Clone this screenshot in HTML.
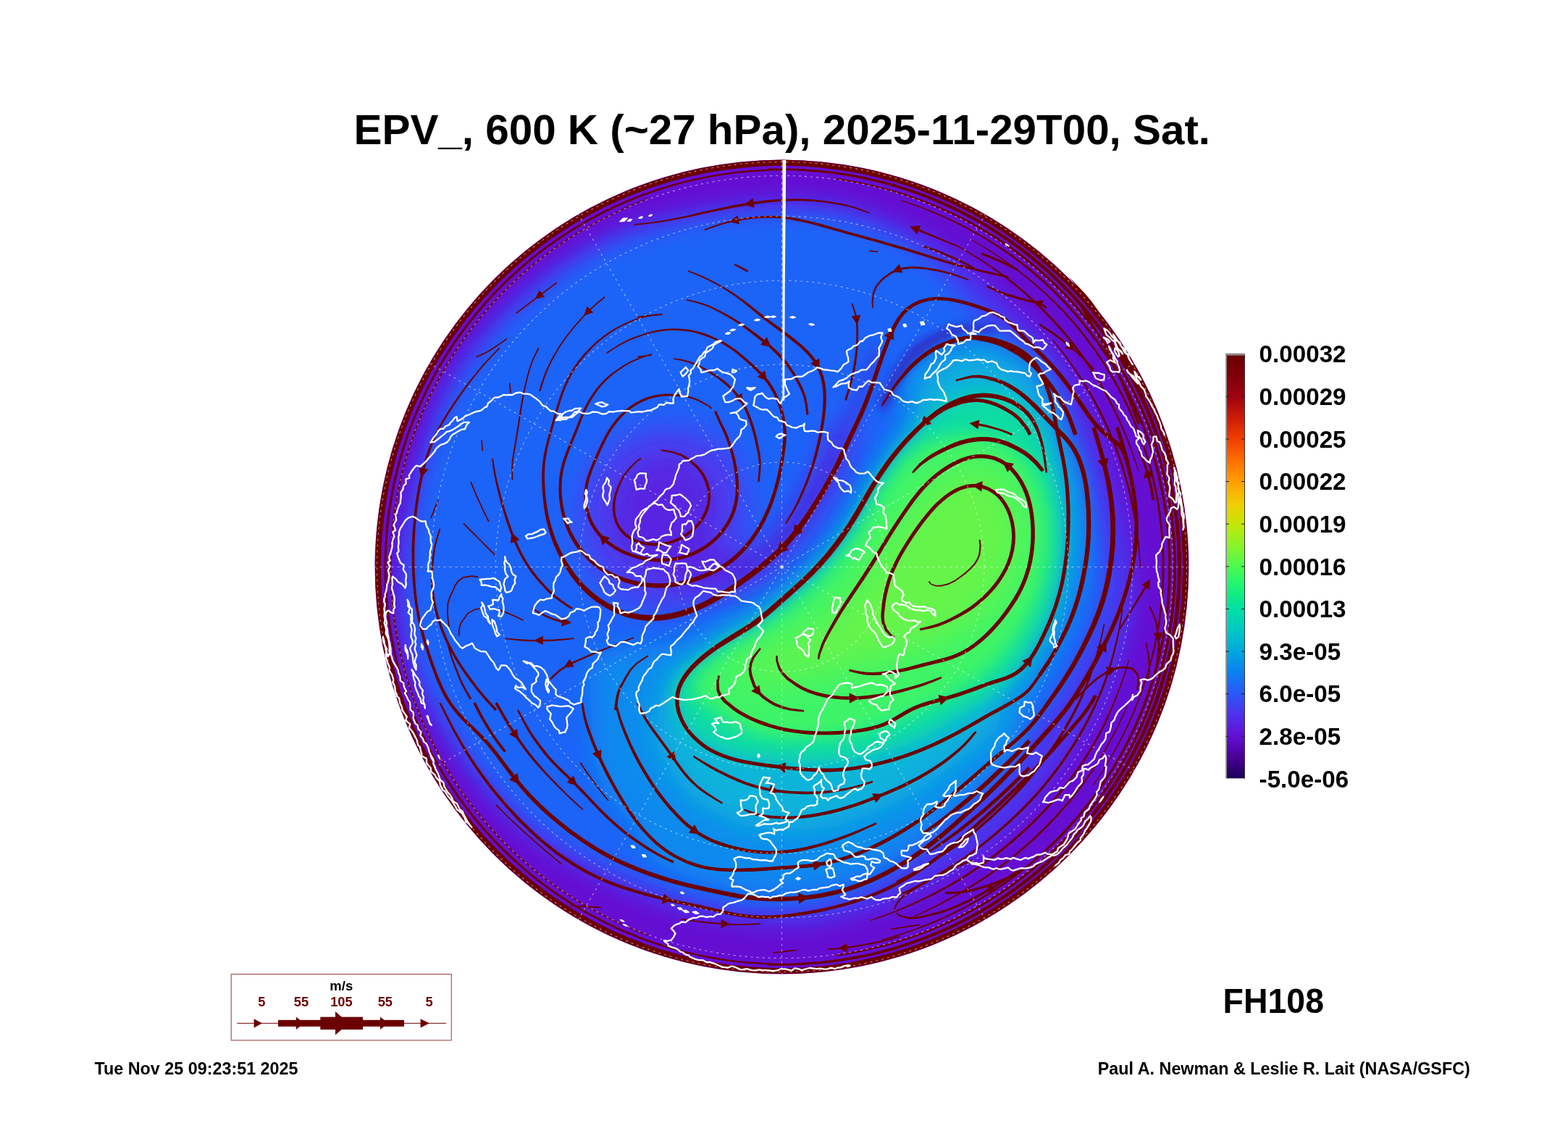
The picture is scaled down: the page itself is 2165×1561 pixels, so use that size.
<!DOCTYPE html>
<html lang="en"><head><meta charset="utf-8"><title>EPV_, 600 K (~27 hPa), 2025-11-29T00, Sat.</title>
<style>html,body{margin:0;padding:0;background:#fff}body{width:2165px;height:1561px;overflow:hidden}svg{display:block}text{font-family:"Liberation Sans",Arial,Helvetica,sans-serif;font-weight:bold}</style></head><body>
<svg width="2165" height="1561" viewBox="0 0 2165 1561">
<defs>
<clipPath id="disc"><circle cx="1079.5" cy="782.5" r="562"/></clipPath>
<clipPath id="disc2"><circle cx="1079.5" cy="782.5" r="563.5"/></clipPath>
<filter id="b6" x="-50%" y="-50%" width="200%" height="200%"><feGaussianBlur stdDeviation="6"/></filter>
<filter id="b9" x="-50%" y="-50%" width="200%" height="200%"><feGaussianBlur stdDeviation="9"/></filter>
<filter id="b12" x="-50%" y="-50%" width="200%" height="200%"><feGaussianBlur stdDeviation="12"/></filter>
<filter id="b14" x="-50%" y="-50%" width="200%" height="200%"><feGaussianBlur stdDeviation="14"/></filter>
<filter id="b17" x="-50%" y="-50%" width="200%" height="200%"><feGaussianBlur stdDeviation="17"/></filter>
<filter id="b18" x="-50%" y="-50%" width="200%" height="200%"><feGaussianBlur stdDeviation="18"/></filter>
<filter id="b20" x="-50%" y="-50%" width="200%" height="200%"><feGaussianBlur stdDeviation="20"/></filter>
<filter id="b22" x="-50%" y="-50%" width="200%" height="200%"><feGaussianBlur stdDeviation="22"/></filter>
<filter id="b24" x="-50%" y="-50%" width="200%" height="200%"><feGaussianBlur stdDeviation="24"/></filter>

<linearGradient id="cbar" x1="0" y1="1" x2="0" y2="0">
<stop offset="0.0" stop-color="#1c0058"/>
<stop offset="0.05" stop-color="#4a0098"/>
<stop offset="0.1" stop-color="#6210d4"/>
<stop offset="0.15" stop-color="#5030ec"/>
<stop offset="0.2" stop-color="#2a58f8"/>
<stop offset="0.25" stop-color="#0c80f0"/>
<stop offset="0.3" stop-color="#00a8de"/>
<stop offset="0.35" stop-color="#00c8c4"/>
<stop offset="0.4" stop-color="#00e0a4"/>
<stop offset="0.45" stop-color="#18f478"/>
<stop offset="0.5" stop-color="#4cfa50"/>
<stop offset="0.55" stop-color="#88f428"/>
<stop offset="0.6" stop-color="#c4e606"/>
<stop offset="0.65" stop-color="#f0cc00"/>
<stop offset="0.7" stop-color="#ffa000"/>
<stop offset="0.75" stop-color="#ff7000"/>
<stop offset="0.8" stop-color="#f24000"/>
<stop offset="0.85" stop-color="#d01c08"/>
<stop offset="0.9" stop-color="#a00410"/>
<stop offset="0.95" stop-color="#800008"/>
<stop offset="1.0" stop-color="#6a0000"/>
</linearGradient>
</defs>
<rect width="2165" height="1561" fill="#fff"/>
<g clip-path="url(#disc)">
<rect x="500" y="200" width="1160" height="1160" fill="#650ed2"/>
<path d="M1079.5 274.5C1151.3 271.2 1199.1 289.3 1250.5 312.7C1301.9 336 1348 376.1 1388 414.8C1428.1 453.5 1461.5 483.7 1490.9 545C1520.3 606.3 1557.9 715.6 1564.5 782.5C1571.1 849.4 1555.4 890.7 1530.6 946.7C1505.7 1002.6 1450.6 1076.5 1415.4 1118.4C1380.2 1160.3 1354.3 1175.3 1319.5 1198.2C1284.7 1221.1 1246.3 1242.6 1206.3 1255.8C1166.3 1269 1128.9 1278.9 1079.5 1277.5C1030.1 1276.1 970.5 1269.8 910.2 1247.6C849.9 1225.5 771.9 1192 717.5 1144.5C663 1097.1 611.3 1023.4 583.3 963.1C555.3 902.7 543 856.6 549.5 782.5C556 708.4 577.2 593.6 622.2 518.5C667.2 443.4 743.3 372.8 819.5 332.2C895.7 291.5 1007.7 277.8 1079.5 274.5Z" fill="#4a34ee" filter="url(#b14)"/>
<path d="M1079.5 294.5C1148.6 292.1 1195.8 308.2 1243 333.3C1290.1 358.5 1327.5 406.4 1362.3 445.4C1397.1 484.5 1424.9 511.3 1451.9 567.5C1478.9 623.7 1519.5 722.3 1524.5 782.5C1529.5 842.7 1507.8 880.8 1481.7 928.9C1455.6 977 1399.6 1034.1 1368 1071C1336.4 1107.9 1320.5 1125.4 1292 1150.6C1263.5 1175.7 1232.7 1205.3 1197.3 1222C1161.8 1238.7 1126 1249.8 1079.5 1250.5C1033 1251.2 976 1246.1 918.1 1226C860.1 1206 784.9 1175.1 731.6 1130.4C678.3 1085.7 626.1 1015.6 598.4 957.6C570.7 899.6 559.2 854.4 565.5 782.5C571.8 710.6 592.3 599 636.1 526.5C679.9 454 754.6 386.4 828.5 347.8C902.4 309.1 1010.4 296.9 1079.5 294.5Z" fill="#1c64f8" filter="url(#b14)"/>
<path d="M942.5 885C967.9 877.9 970.4 867.9 985 860C999.6 852.1 1015.4 845.8 1030 837.5C1044.6 829.2 1058.8 819.6 1072.5 810C1086.2 800.4 1099.4 791.7 1112.5 780C1125.6 768.3 1140.4 752.9 1151.2 740C1162.1 727.1 1169 716.2 1177.5 702.5C1186 688.8 1194.2 671.2 1202.5 657.5C1210.8 643.8 1218.8 635.4 1227.5 620C1236.2 604.6 1252.1 579.2 1255 565C1257.9 550.8 1242.5 545.4 1245 535C1247.5 524.6 1260 511.5 1270 502.5C1280 493.5 1292.9 486.5 1305 481.2C1317.1 476 1330 471.7 1342.5 471.2C1355 470.8 1366.9 474.6 1380 478.8C1393.1 482.9 1410.8 487.7 1421.2 496.2C1431.7 504.8 1436.5 518.1 1442.5 530C1448.5 541.9 1452.5 555 1457.5 567.5C1462.5 580 1466.7 588.8 1472.5 605C1478.3 621.2 1487.9 642.5 1492.5 665C1497.1 687.5 1499.6 719.2 1500 740C1500.4 760.8 1497.9 773.3 1495 790C1492.1 806.7 1487.9 823.3 1482.5 840C1477.1 856.7 1469.6 874.2 1462.5 890C1455.4 905.8 1447.9 919.2 1440 935C1432.1 950.8 1421.7 967.1 1415 985C1408.3 1002.9 1408.8 1026.7 1400 1042.5C1391.2 1058.3 1375 1067.9 1362.5 1080C1350 1092.1 1337.5 1103.8 1325 1115C1312.5 1126.2 1300 1137.5 1287.5 1147.5C1275 1157.5 1264.2 1165.8 1250 1175C1235.8 1184.2 1218.3 1195 1202.5 1202.5C1186.7 1210 1171.2 1215.4 1155 1220C1138.8 1224.6 1121.7 1228.1 1105 1230C1088.3 1231.9 1071.7 1232.1 1055 1231.2C1038.3 1230.4 1021.7 1228.5 1005 1225C988.3 1221.5 971.7 1216.2 955 1210C938.3 1203.8 918.3 1199.2 905 1187.5C891.7 1175.8 886.2 1155.4 875 1140C863.8 1124.6 846.7 1110.8 837.5 1095C828.3 1079.2 823.3 1061.7 820 1045C816.7 1028.3 818.3 1012.5 817.5 995C816.7 977.5 812.5 955.4 815 940C817.5 924.6 811.2 911.7 832.5 902.5C853.8 893.3 917.1 892.1 942.5 885Z" fill="#0c8aee" filter="url(#b17)"/>
<path d="M985 892.5C999.2 883.8 1008.3 877.1 1020 870C1031.7 862.9 1043.8 857.9 1055 850C1066.2 842.1 1076.2 832.5 1087.5 822.5C1098.8 812.5 1110.8 802.1 1122.5 790C1134.2 777.9 1147.5 762.9 1157.5 750C1167.5 737.1 1174.2 726.2 1182.5 712.5C1190.8 698.8 1199.2 681.2 1207.5 667.5C1215.8 653.8 1222.1 645.4 1232.5 630C1242.9 614.6 1264.6 589.2 1270 575C1275.4 560.8 1262.5 555 1265 545C1267.5 535 1276.7 523.3 1285 515C1293.3 506.7 1304.6 499.6 1315 495C1325.4 490.4 1336.7 487.5 1347.5 487.5C1358.3 487.5 1368.8 490.8 1380 495C1391.2 499.2 1405.8 504.6 1415 512.5C1424.2 520.4 1429.2 532.1 1435 542.5C1440.8 552.9 1446.2 563.8 1450 575C1453.8 586.2 1453.8 595 1457.5 610C1461.2 625 1469.2 643.3 1472.5 665C1475.8 686.7 1477.5 719.2 1477.5 740C1477.5 760.8 1475.4 773.3 1472.5 790C1469.6 806.7 1465.4 824.2 1460 840C1454.6 855.8 1447.5 870.8 1440 885C1432.5 899.2 1424.2 910.8 1415 925C1405.8 939.2 1391.7 956.2 1385 970C1378.3 983.8 1382.9 995.8 1375 1007.5C1367.1 1019.2 1351.2 1028.8 1337.5 1040C1323.8 1051.2 1308.3 1064.2 1292.5 1075C1276.7 1085.8 1259.2 1096.2 1242.5 1105C1225.8 1113.8 1209.2 1121.2 1192.5 1127.5C1175.8 1133.8 1159.2 1139.2 1142.5 1142.5C1125.8 1145.8 1109.2 1147.5 1092.5 1147.5C1075.8 1147.5 1059.2 1146.2 1042.5 1142.5C1025.8 1138.8 1007.9 1132.9 992.5 1125C977.1 1117.1 961.7 1106.2 950 1095C938.3 1083.8 930 1070.8 922.5 1057.5C915 1044.2 906.7 1030.4 905 1015C903.3 999.6 907.5 980.4 912.5 965C917.5 949.6 922.9 934.6 935 922.5C947.1 910.4 970.8 901.2 985 892.5Z" fill="#08b4da" filter="url(#b22)"/>
<path d="M955 922.5C965.8 914.2 985.6 899.2 1000 890C1014.4 880.8 1027.5 876.7 1041.2 867.5C1055 858.3 1069 846.2 1082.5 835C1096 823.8 1109.6 812.9 1122.5 800C1135.4 787.1 1149.6 770.8 1160 757.5C1170.4 744.2 1176.7 733.8 1185 720C1193.3 706.2 1201.7 688.8 1210 675C1218.3 661.2 1227.5 647.9 1235 637.5C1242.5 627.1 1247.5 622.1 1255 612.5C1262.5 602.9 1271.7 588.8 1280 580C1288.3 571.2 1296.7 565.4 1305 560C1313.3 554.6 1319.6 550.4 1330 547.5C1340.4 544.6 1355.8 541.7 1367.5 542.5C1379.2 543.3 1392.9 549.6 1400 552.5C1407.1 555.4 1405 554.6 1410 560C1415 565.4 1424.2 575 1430 585C1435.8 595 1440.4 606.7 1445 620C1449.6 633.3 1454.2 649.2 1457.5 665C1460.8 680.8 1463.8 698.3 1465 715C1466.2 731.7 1466.2 748.3 1465 765C1463.8 781.7 1461.2 799.2 1457.5 815C1453.8 830.8 1448.8 845.8 1442.5 860C1436.2 874.2 1427.9 887.5 1420 900C1412.1 912.5 1404.2 924.2 1395 935C1385.8 945.8 1375.8 956.7 1365 965C1354.2 973.3 1344.2 976.7 1330 985C1315.8 993.3 1296.7 1006.7 1280 1015C1263.3 1023.3 1246.7 1029.6 1230 1035C1213.3 1040.4 1196.7 1044.6 1180 1047.5C1163.3 1050.4 1147.1 1052.1 1130 1052.5C1112.9 1052.9 1095.8 1051.7 1077.5 1050C1059.2 1048.3 1036.2 1046.2 1020 1042.5C1003.8 1038.8 991.7 1033.8 980 1027.5C968.3 1021.2 957.5 1013.8 950 1005C942.5 996.2 938.3 982.5 935 975C931.7 967.5 930 965.8 930 960C930 954.2 930.8 946.2 935 940C939.2 933.8 944.2 930.8 955 922.5Z" fill="#10dca4" filter="url(#b12)"/>
<path d="M970 922.5C977.9 914.2 992.5 903.3 1005 895C1017.5 886.7 1031.2 881.7 1045 872.5C1058.8 863.3 1073.8 851.2 1087.5 840C1101.2 828.8 1114.6 817.9 1127.5 805C1140.4 792.1 1154.6 775.8 1165 762.5C1175.4 749.2 1181.7 738.8 1190 725C1198.3 711.2 1206.7 693.3 1215 680C1223.3 666.7 1231.7 655 1240 645C1248.3 635 1255 626.7 1265 620C1275 613.3 1287.1 608.3 1300 605C1312.9 601.7 1329.2 599.6 1342.5 600C1355.8 600.4 1370.4 604.2 1380 607.5C1389.6 610.8 1391.7 612.1 1400 620C1408.3 627.9 1422.5 641.2 1430 655C1437.5 668.8 1442.1 686.2 1445 702.5C1447.9 718.8 1448.3 735.8 1447.5 752.5C1446.7 769.2 1444.2 786.7 1440 802.5C1435.8 818.3 1429.6 832.9 1422.5 847.5C1415.4 862.1 1407.1 877.1 1397.5 890C1387.9 902.9 1376.2 915 1365 925C1353.8 935 1348.3 939.6 1330 950C1311.7 960.4 1275.8 978.3 1255 987.5C1234.2 996.7 1221.7 1000 1205 1005C1188.3 1010 1171.7 1015 1155 1017.5C1138.3 1020 1121.7 1020.4 1105 1020C1088.3 1019.6 1070.8 1018.8 1055 1015C1039.2 1011.2 1022.5 1004.2 1010 997.5C997.5 990.8 987.9 980.4 980 975C972.1 969.6 966.2 970 962.5 965C958.8 960 956.2 952.1 957.5 945C958.8 937.9 962.1 930.8 970 922.5Z" fill="#3cf468" filter="url(#b12)"/>
<path d="M1255 710C1262.5 700.8 1270.4 689.2 1280 680C1289.6 670.8 1300.8 660.8 1312.5 655C1324.2 649.2 1339.2 644.6 1350 645C1360.8 645.4 1369.2 650 1377.5 657.5C1385.8 665 1395 677.1 1400 690C1405 702.9 1407.5 719.2 1407.5 735C1407.5 750.8 1404.6 770.4 1400 785C1395.4 799.6 1389.2 810.8 1380 822.5C1370.8 834.2 1357.5 845.4 1345 855C1332.5 864.6 1320 872.5 1305 880C1290 887.5 1271.7 894.6 1255 900C1238.3 905.4 1221.7 908.8 1205 912.5C1188.3 916.2 1171.7 919.2 1155 922.5C1138.3 925.8 1120.8 929.6 1105 932.5C1089.2 935.4 1072.5 938.8 1060 940C1047.5 941.2 1036.7 942.9 1030 940C1023.3 937.1 1018.3 928.3 1020 922.5C1021.7 916.7 1030 910.4 1040 905C1050 899.6 1066.7 895.8 1080 890C1093.3 884.2 1107.5 878.3 1120 870C1132.5 861.7 1143.8 850.8 1155 840C1166.2 829.2 1177.5 817.5 1187.5 805C1197.5 792.5 1207.1 776.7 1215 765C1222.9 753.3 1228.3 744.2 1235 735C1241.7 725.8 1247.5 719.2 1255 710Z" fill="#80f438" filter="url(#b24)" opacity="0.62"/>
<path d="M812.5 652.5C820.8 638.3 835.4 620.4 850 610C864.6 599.6 883.3 593.3 900 590C916.7 586.7 933.3 586.7 950 590C966.7 593.3 987.5 599.6 1000 610C1012.5 620.4 1019.2 637.1 1025 652.5C1030.8 667.9 1035 687.1 1035 702.5C1035 717.9 1024.2 734.6 1025 745C1025.8 755.4 1032.5 765.8 1040 765C1047.5 764.2 1060.8 749.2 1070 740C1079.2 730.8 1087.1 721.2 1095 710C1102.9 698.8 1110.8 685 1117.5 672.5C1124.2 660 1129.6 647.1 1135 635C1140.4 622.9 1145.4 609.2 1150 600C1154.6 590.8 1157.9 586.7 1162.5 580C1167.1 573.3 1174.6 555.8 1177.5 560C1180.4 564.2 1182.5 590.8 1180 605C1177.5 619.2 1168.8 631.7 1162.5 645C1156.2 658.3 1149.6 672.5 1142.5 685C1135.4 697.5 1127.9 708.8 1120 720C1112.1 731.2 1103.3 742.9 1095 752.5C1086.7 762.1 1079.2 769.6 1070 777.5C1060.8 785.4 1051.7 792.9 1040 800C1028.3 807.1 1014.2 814.2 1000 820C985.8 825.8 970.8 830.8 955 835C939.2 839.2 899.6 842.5 905 845C910.4 847.5 984.2 849.6 987.5 850C990.8 850.4 943.8 850 925 847.5C906.2 845 889.6 840.4 875 835C860.4 829.6 847.9 823.3 837.5 815C827.1 806.7 818.8 797.5 812.5 785C806.2 772.5 802.1 755 800 740C797.9 725 797.9 709.6 800 695C802.1 680.4 804.2 666.7 812.5 652.5Z" fill="#4840f0" filter="url(#b20)"/>
<path d="M855 672.5C860.8 662.5 869.2 652.1 880 645C890.8 637.9 907.1 630.8 920 630C932.9 629.2 947.1 633.3 957.5 640C967.9 646.7 977.1 658.3 982.5 670C987.9 681.7 990.4 697.5 990 710C989.6 722.5 977.5 735 980 745C982.5 755 995 765.4 1005 770C1015 774.6 1029.2 775.8 1040 772.5C1050.8 769.2 1060.4 758.8 1070 750C1079.6 741.2 1089.2 731.2 1097.5 720C1105.8 708.8 1112.9 695 1120 682.5C1127.1 670 1134.2 657.1 1140 645C1145.8 632.9 1150 615.8 1155 610C1160 604.2 1170 603.3 1170 610C1170 616.7 1160.8 636.7 1155 650C1149.2 663.3 1142.1 677.5 1135 690C1127.9 702.5 1120.4 713.8 1112.5 725C1104.6 736.2 1095.8 747.9 1087.5 757.5C1079.2 767.1 1072.1 775 1062.5 782.5C1052.9 790 1042.1 797.1 1030 802.5C1017.9 807.9 1004.6 811.7 990 815C975.4 818.3 958.8 821.7 942.5 822.5C926.2 823.3 889.2 822.1 892.5 820C895.8 817.9 959.2 814.2 962.5 810C965.8 805.8 927.9 801.7 912.5 795C897.1 788.3 880.4 779.2 870 770C859.6 760.8 854.2 750.8 850 740C845.8 729.2 844.2 716.2 845 705C845.8 693.8 849.2 682.5 855 672.5Z" fill="#5a20e0" filter="url(#b18)" opacity="0.92"/>
<path d="M1222.5 565C1227.1 560 1235 537.1 1242.5 525C1250 512.9 1257.5 501.7 1267.5 492.5C1277.5 483.3 1290.4 475.8 1302.5 470C1314.6 464.2 1328.8 459.2 1340 457.5C1351.2 455.8 1365.8 461.2 1370 460C1374.2 458.8 1370.8 452.1 1365 450C1359.2 447.9 1346.2 446.2 1335 447.5C1323.8 448.8 1310 452.1 1297.5 457.5C1285 462.9 1270.8 470.4 1260 480C1249.2 489.6 1240 502.5 1232.5 515C1225 527.5 1216.7 546.7 1215 555C1213.3 563.3 1217.9 570 1222.5 565Z" fill="#3a14b4" filter="url(#b6)" opacity="0.75"/>
<path d="M1020 795C1027.1 792.5 1045 777.5 1055 770C1065 762.5 1071.7 758.3 1080 750C1088.3 741.7 1097.1 730.8 1105 720C1112.9 709.2 1120.4 697.1 1127.5 685C1134.6 672.9 1141.7 659.6 1147.5 647.5C1153.3 635.4 1155.8 627.1 1162.5 612.5C1169.2 597.9 1180.8 575 1187.5 560C1194.2 545 1197.9 535 1202.5 522.5C1207.1 510 1215 491.2 1215 485C1215 478.8 1206.7 478.8 1202.5 485C1198.3 491.2 1194.6 510 1190 522.5C1185.4 535 1181.2 545.4 1175 560C1168.8 574.6 1159.2 595.8 1152.5 610C1145.8 624.2 1141.2 633.3 1135 645C1128.8 656.7 1122.1 668.3 1115 680C1107.9 691.7 1100 704.6 1092.5 715C1085 725.4 1077.9 734.6 1070 742.5C1062.1 750.4 1054.6 755.4 1045 762.5C1035.4 769.6 1016.7 779.6 1012.5 785C1008.3 790.4 1012.9 797.5 1020 795Z" fill="#4420d4" filter="url(#b9)" opacity="0.6"/>
</g>
<g clip-path="url(#disc2)">
<path d="M1079.4 228.5L1085.9 228.7L1095.9 228.9L1108.3 229.5L1119.6 230.3L1129.7 231.3L1139.2 232.2L1148.8 233.4L1158.6 234.7L1168.2 236.2L1177.8 237.8L1187.5 239.6L1197.2 241.7L1206.8 243.8L1216.4 246.2L1225.9 248.7L1235.4 251.4L1244.9 254.3L1254.3 257.3L1263.6 260.5L1272.9 263.9L1282.1 267.4L1291.3 271.1L1300.4 275L1309.4 279L1318.4 283.2L1327.3 287.6L1336.1 292.1L1344.8 296.7L1353.4 301.5L1361.9 306.5L1370.4 311.6L1378.7 316.9L1387 322.3L1395.2 327.8L1403.2 333.6L1411.2 339.4L1419 345.4L1426.8 351.5L1434.4 357.8L1442 364.2L1449.4 370.7L1456.7 377.4L1463.8 384.2L1470.9 391.1L1477.8 398.2L1484.6 405.3L1491.3 412.6L1497.8 420L1504.2 427.6L1510.5 435.2L1516.6 443L1522.6 450.8L1528.4 458.8L1534.2 466.8L1539.7 475L1545.1 483.3L1550.4 491.6L1555.5 500.1L1560.5 508.6L1565.3 517.2L1569.9 525.9L1574.4 534.7L1578.8 543.6L1583 552.6L1587 561.6L1590.9 570.7L1594.6 579.9L1598.1 589.1L1601.5 598.4L1604.7 607.7L1607.7 617.1L1610.6 626.6L1613.3 636.1L1615.8 645.6L1618.2 655.2L1620.3 664.8L1622.4 674.5L1624.2 684.2L1625.9 694L1627.4 703.7L1628.7 713.5L1629.8 723.3L1630.8 733.2L1631.6 743L1632.2 752.9L1632.6 762.7L1632.9 772.6L1633 782.5L1632.9 792.4L1632.6 802.3L1632.2 812.1L1631.6 822L1630.8 831.8L1629.8 841.7L1628.7 851.5L1627.4 861.3L1625.9 871L1624.2 880.8L1622.4 890.5L1620.3 900.2L1618.2 909.8L1615.8 919.4L1613.3 928.9L1610.6 938.4L1607.7 947.9L1604.7 957.3L1601.5 966.6L1598.1 975.9L1594.6 985.1L1590.9 994.3L1587 1003.4L1583 1012.4L1578.8 1021.4L1574.4 1030.3L1569.9 1039.1L1565.3 1047.8L1560.5 1056.4L1555.5 1064.9L1550.4 1073.4L1545.1 1081.7L1539.7 1090L1534.2 1098.2L1528.4 1106.2L1522.6 1114.2L1516.6 1122L1510.5 1129.8L1504.2 1137.4L1497.8 1145L1491.3 1152.4L1484.6 1159.7L1477.8 1166.8L1470.9 1173.9L1463.8 1180.8L1456.7 1187.6L1449.4 1194.3L1442 1200.8L1434.4 1207.2L1426.8 1213.5L1419 1219.6L1411.2 1225.6L1403.2 1231.4L1395.2 1237.2L1387 1242.7L1378.7 1248.1L1370.4 1253.4L1361.9 1258.5L1353.4 1263.5L1344.8 1268.3L1336.1 1272.9L1327.3 1277.4L1318.4 1281.8L1309.4 1286L1300.4 1290L1291.3 1293.9L1282.1 1297.6L1272.9 1301.1L1263.6 1304.5L1254.3 1307.7L1244.9 1310.7L1235.4 1313.6L1225.9 1316.3L1216.4 1318.8L1206.8 1321.2L1197.2 1323.3L1187.5 1325.4L1177.8 1327.2L1168 1328.9L1158.3 1330.4L1148.5 1331.7L1138.7 1332.8L1128.8 1333.8L1119 1334.6L1109.1 1335.2L1099.3 1335.6L1089.4 1335.9L1079.5 1336L1069.6 1335.9L1059.7 1335.6L1049.9 1335.2L1040 1334.6L1030.2 1333.8L1020.3 1332.8L1010.5 1331.7L1000.7 1330.4L991 1328.9L981.2 1327.2L971.5 1325.4L961.8 1323.3L952.2 1321.2L942.6 1318.8L933.1 1316.3L923.6 1313.6L914.1 1310.7L904.7 1307.7L895.4 1304.5L886.1 1301.1L876.9 1297.6L867.7 1293.9L858.6 1290L849.6 1286L840.6 1281.8L831.7 1277.4L822.9 1272.9L814.2 1268.3L805.6 1263.5L797.1 1258.5L788.6 1253.4L780.3 1248.1L772 1242.7L763.8 1237.2L755.8 1231.4L747.8 1225.6L740 1219.6L732.2 1213.5L724.6 1207.2L717 1200.8L709.6 1194.3L702.3 1187.6L695.2 1180.8L688.1 1173.9L681.2 1166.8L674.4 1159.7L667.7 1152.4L661.2 1145L654.8 1137.4L648.5 1129.8L642.4 1122L636.4 1114.2L630.6 1106.2L624.8 1098.2L619.3 1090L613.9 1081.7L608.6 1073.4L603.5 1064.9L598.5 1056.4L593.7 1047.8L589.1 1039.1L584.6 1030.3L580.2 1021.4L576 1012.4L572 1003.4L568.1 994.3L564.4 985.1L560.9 975.9L557.5 966.6L554.3 957.3L551.3 947.9L548.4 938.4L545.7 928.9L543.2 919.4L540.8 909.8L538.7 900.2L536.6 890.5L534.8 880.8L533.1 871L531.6 861.3L530.3 851.5L529.2 841.7L528.2 831.8L527.4 822L526.8 812.1L526.4 802.3L526.1 792.4L526 782.5L526.1 772.6L526.4 762.7L526.8 752.9L527.4 743L528.2 733.2L529.2 723.3L530.3 713.5L531.6 703.7L533.1 694L534.8 684.2L536.6 674.5L538.7 664.8L540.8 655.2L543.2 645.6L545.7 636.1L548.4 626.6L551.3 617.1L554.3 607.7L557.5 598.4L560.9 589.1L564.4 579.9L568.1 570.7L572 561.6L576 552.6L580.2 543.6L584.6 534.7L589.1 525.9L593.7 517.2L598.5 508.6L603.5 500.1L608.6 491.6L613.9 483.3L619.3 475L624.8 466.8L630.6 458.8L636.4 450.8L642.4 443L648.5 435.2L654.8 427.6L661.2 420L667.7 412.6L674.4 405.3L681.2 398.2L688.1 391.1L695.2 384.2L702.3 377.4L709.6 370.7L717 364.2L724.6 357.8L732.2 351.5L740 345.4L747.8 339.4L755.8 333.6L763.8 327.8L772 322.3L780.3 316.9L788.6 311.6L797.1 306.5L805.6 301.5L814.2 296.7L822.9 292.1L831.7 287.6L840.6 283.2L849.6 279L858.6 275L867.7 271.1L876.9 267.4L886.1 263.9L895.4 260.5L904.7 257.3L914.1 254.3L923.6 251.4L933.1 248.7L942.6 246.2L952.2 243.8L961.8 241.7L971.5 239.6L981.2 237.8L990.8 236.2L1000.4 234.7L1010.2 233.4L1019.8 232.2L1029.3 231.3L1039.4 230.3L1050.7 229.5L1063.1 228.9L1073.1 228.7L1079.6 228.5L1079.4 220.5L1072.9 220.7L1062.8 221L1050.3 221.5L1038.8 222.4L1028.5 223.3L1018.9 224.3L1009.2 225.4L999.3 226.8L989.5 228.3L979.8 229.9L970 231.8L960.1 233.8L950.4 236.1L940.6 238.4L930.9 241L921.3 243.8L911.7 246.7L902.2 249.7L892.7 253L883.3 256.4L873.9 260L864.6 263.7L855.4 267.7L846.2 271.7L837.2 276L828.2 280.4L819.2 285L810.4 289.7L801.7 294.6L793 299.6L784.4 304.8L775.9 310.1L767.6 315.6L759.3 321.3L751.1 327.1L743 333L735 339.1L727.2 345.3L719.4 351.7L711.8 358.2L704.3 364.8L696.9 371.5L689.6 378.4L682.5 385.5L675.4 392.6L668.5 399.9L661.8 407.3L655.2 414.8L648.7 422.4L642.3 430.2L636.1 438L630 446L624.1 454.1L618.3 462.3L612.6 470.6L607.1 478.9L601.8 487.4L596.6 496L591.6 504.7L586.7 513.4L582 522.2L577.4 531.2L573 540.2L568.7 549.2L564.7 558.4L560.7 567.6L557 576.9L553.4 586.3L550 595.7L546.7 605.2L543.7 614.7L540.8 624.3L538 633.9L535.4 643.6L533.1 653.4L530.8 663.1L528.8 673L526.9 682.8L525.2 692.7L523.7 702.6L522.4 712.5L521.2 722.5L520.2 732.5L519.4 742.4L518.8 752.4L518.4 762.5L518.1 772.5L518 782.5L518.1 792.5L518.4 802.5L518.8 812.6L519.4 822.6L520.2 832.5L521.2 842.5L522.4 852.5L523.7 862.4L525.2 872.3L526.9 882.2L528.8 892L530.8 901.9L533.1 911.6L535.4 921.4L538 931.1L540.8 940.7L543.7 950.3L546.7 959.8L550 969.3L553.4 978.7L557 988.1L560.7 997.4L564.7 1006.6L568.7 1015.8L573 1024.8L577.4 1033.8L582 1042.8L586.7 1051.6L591.6 1060.3L596.6 1069L601.8 1077.6L607.1 1086.1L612.6 1094.4L618.3 1102.7L624.1 1110.9L630 1119L636.1 1127L642.3 1134.8L648.7 1142.6L655.2 1150.2L661.8 1157.7L668.5 1165.1L675.4 1172.4L682.5 1179.5L689.6 1186.6L696.9 1193.5L704.3 1200.2L711.8 1206.8L719.4 1213.3L727.2 1219.7L735 1225.9L743 1232L751.1 1237.9L759.3 1243.7L767.6 1249.4L775.9 1254.9L784.4 1260.2L793 1265.4L801.7 1270.4L810.4 1275.3L819.2 1280L828.2 1284.6L837.2 1289L846.2 1293.3L855.4 1297.3L864.6 1301.3L873.9 1305L883.3 1308.6L892.7 1312L902.2 1315.3L911.7 1318.3L921.3 1321.2L930.9 1324L940.6 1326.6L950.4 1328.9L960.1 1331.2L970 1333.2L979.8 1335.1L989.7 1336.8L999.6 1338.3L1009.5 1339.6L1019.5 1340.8L1029.5 1341.8L1039.4 1342.6L1049.4 1343.2L1059.5 1343.6L1069.5 1343.9L1079.5 1344L1089.5 1343.9L1099.5 1343.6L1109.6 1343.2L1119.6 1342.6L1129.5 1341.8L1139.5 1340.8L1149.5 1339.6L1159.4 1338.3L1169.3 1336.8L1179.2 1335.1L1189 1333.2L1198.9 1331.2L1208.6 1328.9L1218.4 1326.6L1228.1 1324L1237.7 1321.2L1247.3 1318.3L1256.8 1315.3L1266.3 1312L1275.7 1308.6L1285.1 1305L1294.4 1301.3L1303.6 1297.3L1312.8 1293.3L1321.8 1289L1330.8 1284.6L1339.8 1280L1348.6 1275.3L1357.3 1270.4L1366 1265.4L1374.6 1260.2L1383.1 1254.9L1391.4 1249.4L1399.7 1243.7L1407.9 1237.9L1416 1232L1424 1225.9L1431.8 1219.7L1439.6 1213.3L1447.2 1206.8L1454.7 1200.2L1462.1 1193.5L1469.4 1186.6L1476.5 1179.5L1483.6 1172.4L1490.5 1165.1L1497.2 1157.7L1503.8 1150.2L1510.3 1142.6L1516.7 1134.8L1522.9 1127L1529 1119L1534.9 1110.9L1540.7 1102.7L1546.4 1094.4L1551.9 1086.1L1557.2 1077.6L1562.4 1069L1567.4 1060.3L1572.3 1051.6L1577 1042.8L1581.6 1033.8L1586 1024.8L1590.3 1015.8L1594.3 1006.6L1598.3 997.4L1602 988.1L1605.6 978.7L1609 969.3L1612.3 959.8L1615.3 950.3L1618.2 940.7L1621 931.1L1623.6 921.4L1625.9 911.6L1628.2 901.9L1630.2 892L1632.1 882.2L1633.8 872.3L1635.3 862.4L1636.6 852.5L1637.8 842.5L1638.8 832.5L1639.6 822.6L1640.2 812.6L1640.6 802.5L1640.9 792.5L1641 782.5L1640.9 772.5L1640.6 762.5L1640.2 752.4L1639.6 742.4L1638.8 732.5L1637.8 722.5L1636.6 712.5L1635.3 702.6L1633.8 692.7L1632.1 682.8L1630.2 673L1628.2 663.1L1625.9 653.4L1623.6 643.6L1621 633.9L1618.2 624.3L1615.3 614.7L1612.3 605.2L1609 595.7L1605.6 586.3L1602 576.9L1598.3 567.6L1594.3 558.4L1590.3 549.2L1586 540.2L1581.6 531.2L1577 522.2L1572.3 513.4L1567.4 504.7L1562.4 496L1557.2 487.4L1551.9 478.9L1546.4 470.6L1540.7 462.3L1534.9 454.1L1529 446L1522.9 438L1516.7 430.2L1510.3 422.4L1503.8 414.8L1497.2 407.3L1490.5 399.9L1483.6 392.6L1476.5 385.5L1469.4 378.4L1462.1 371.5L1454.7 364.8L1447.2 358.2L1439.6 351.7L1431.8 345.3L1424 339.1L1416 333L1407.9 327.1L1399.7 321.3L1391.4 315.6L1383.1 310.1L1374.6 304.8L1366 299.6L1357.3 294.6L1348.6 289.7L1339.8 285L1330.8 280.4L1321.8 276L1312.8 271.7L1303.6 267.7L1294.4 263.7L1285.1 260L1275.7 256.4L1266.3 253L1256.8 249.7L1247.3 246.7L1237.7 243.8L1228.1 241L1218.4 238.4L1208.6 236.1L1198.9 233.8L1189 231.8L1179.2 229.9L1169.5 228.3L1159.7 226.8L1149.8 225.4L1140.1 224.3L1130.5 223.3L1120.2 222.4L1108.7 221.5L1096.2 221L1086.1 220.7L1079.6 220.5ZM1098.6 1329.7L1093.7 1329.7L1086.3 1329.7L1077 1329.7L1066.9 1329.5L1057.7 1329.1L1049.5 1328.6L1041.8 1328.1L1034.1 1327.5L1026.2 1326.8L1018.4 1326L1010.5 1325L1002.6 1323.9L994.7 1322.8L986.8 1321.4L978.9 1320L971 1318.5L963.2 1316.8L955.4 1315L947.6 1313.2L939.8 1311.2L932.1 1309L924.4 1306.8L916.7 1304.5L909.1 1302L901.5 1299.5L893.9 1296.8L886.4 1294L878.9 1291.1L871.5 1288.1L864.1 1285L856.8 1281.8L849.5 1278.4L842.3 1275L835.1 1271.5L827.9 1267.8L820.9 1264.1L813.8 1260.2L806.9 1256.3L799.9 1252.2L793.1 1248.1L786.3 1243.8L779.6 1239.4L773 1235L766.4 1230.5L760.1 1226L753.9 1221.5L747.8 1216.9L741.8 1212.2L735.8 1207.4L729.7 1202.4L722.1 1195.9L714.4 1189L706.7 1182L699.1 1174.8L691.8 1167.6L684.8 1160.4L678 1153.1L671.3 1145.7L664.8 1138.3L658.4 1130.7L652.2 1122.9L646 1115.1L640.1 1107.2L634.3 1099.1L628.6 1091L623.1 1082.7L617.7 1074.4L612.5 1065.9L607.4 1057.4L602.5 1048.7L597.7 1040L593.1 1031.2L588.7 1022.3L584.4 1013.3L580.3 1004.3L576.4 995.2L572.6 986L569 976.8L565.6 967.4L562.3 958.1L559.2 948.6L556.3 939.1L553.5 929.6L551 920L548.6 910.4L546.3 900.7L544.3 891L542.4 881.2L540.7 871.5L539.2 861.6L537.9 851.8L536.7 841.9L535.7 832.1L534.9 822.2L534.3 812.3L533.9 802.4L533.6 792.4L533.5 782.5L533.6 772.6L533.9 762.6L534.3 752.7L534.9 742.8L535.7 732.9L536.7 723.1L537.9 713.2L539.2 703.4L540.7 693.5L542.4 683.8L544.3 674L546.3 664.3L548.6 654.6L551 645L553.5 635.4L556.3 625.9L559.2 616.4L562.3 606.9L565.6 597.6L569 588.2L572.6 579L576.4 569.8L580.3 560.7L584.4 551.7L588.7 542.7L593.1 533.8L597.7 525L602.5 516.3L607.4 507.6L612.5 499.1L617.7 490.6L623.1 482.3L628.6 474L634.3 465.9L640.1 457.8L646 449.9L652.2 442.1L658.4 434.3L664.8 426.7L671.3 419.3L678 411.9L684.8 404.6L691.8 397.4L699.1 390.2L706.7 383L714.4 376L722.1 369.1L729.7 362.6L735.8 357.6L741.8 352.8L747.8 348.1L753.9 343.5L760.1 339L766.4 334.5L773 330L779.6 325.6L786.3 321.2L793.1 316.9L799.9 312.8L806.9 308.7L813.8 304.8L820.9 300.9L827.9 297.2L835.1 293.5L842.3 290L849.5 286.6L856.8 283.2L864.1 280L871.5 276.9L878.9 273.9L886.4 271L893.9 268.2L901.5 265.5L909.1 263L916.7 260.5L924.4 258.2L932.1 256L939.8 253.8L947.6 251.8L955.4 250L963.2 248.2L971 246.5L978.9 245L986.8 243.6L994.7 242.2L1002.6 241.1L1010.5 240L1018.4 239L1026.2 238.2L1034.1 237.5L1041.8 236.9L1049.5 236.4L1057.7 235.9L1066.9 235.5L1077 235.3L1086.3 235.3L1093.7 235.3L1098.6 235.3L1098.6 233.3L1093.7 233.3L1086.3 233.2L1077 233.2L1066.8 233.4L1057.6 233.8L1049.4 234.3L1041.7 234.7L1033.9 235.3L1026 236L1018.1 236.8L1010.2 237.8L1002.3 238.8L994.4 240L986.4 241.3L978.5 242.7L970.6 244.3L962.7 245.9L954.8 247.7L947 249.5L939.2 251.5L931.4 253.6L923.7 255.8L916 258.2L908.3 260.6L900.7 263.2L893.1 265.8L885.5 268.6L878 271.5L870.5 274.5L863.1 277.6L855.7 280.8L848.4 284.2L841.1 287.6L833.9 291.1L826.7 294.8L819.6 298.5L812.5 302.4L805.5 306.3L798.5 310.4L791.6 314.6L784.8 318.8L778 323.2L771.3 327.6L764.8 332.1L758.4 336.7L752.2 341.2L746 345.8L739.9 350.5L733.9 355.3L727.8 360.3L720.1 366.9L712.4 373.7L704.6 380.8L697 388.1L689.7 395.3L682.6 402.5L675.8 409.9L669.1 417.3L662.5 424.8L656.1 432.4L649.8 440.2L643.7 448.1L637.7 456.1L631.8 464.1L626.1 472.3L620.6 480.6L615.1 489L609.9 497.5L604.8 506.1L599.9 514.8L595.1 523.6L590.5 532.4L586 541.4L581.7 550.4L577.6 559.5L573.6 568.6L569.8 577.9L566.2 587.2L562.8 596.5L559.5 606L556.4 615.5L553.4 625L550.7 634.6L548.1 644.2L545.6 653.9L543.4 663.7L541.3 673.4L539.5 683.2L537.8 693.1L536.2 702.9L534.9 712.8L533.7 722.7L532.7 732.7L531.9 742.6L531.3 752.6L530.9 762.5L530.6 772.5L530.5 782.5L530.6 792.5L530.9 802.5L531.3 812.4L531.9 822.4L532.7 832.3L533.7 842.3L534.9 852.2L536.2 862.1L537.8 871.9L539.5 881.8L541.3 891.6L543.4 901.3L545.6 911.1L548.1 920.8L550.7 930.4L553.4 940L556.4 949.5L559.5 959L562.8 968.5L566.2 977.8L569.8 987.1L573.6 996.4L577.6 1005.5L581.7 1014.6L586 1023.6L590.5 1032.6L595.1 1041.4L599.9 1050.2L604.8 1058.9L609.9 1067.5L615.1 1076L620.6 1084.4L626.1 1092.7L631.8 1100.9L637.7 1108.9L643.7 1116.9L649.8 1124.8L656.1 1132.6L662.5 1140.2L669.1 1147.7L675.8 1155.1L682.6 1162.5L689.7 1169.7L697 1176.9L704.6 1184.2L712.4 1191.3L720.1 1198.1L727.8 1204.7L733.9 1209.7L739.9 1214.5L746 1219.2L752.2 1223.8L758.4 1228.3L764.8 1232.9L771.3 1237.4L778 1241.8L784.8 1246.2L791.6 1250.4L798.5 1254.6L805.5 1258.7L812.5 1262.6L819.6 1266.5L826.7 1270.2L833.9 1273.9L841.1 1277.4L848.4 1280.8L855.7 1284.2L863.1 1287.4L870.5 1290.5L878 1293.5L885.5 1296.4L893.1 1299.2L900.7 1301.8L908.3 1304.4L916 1306.8L923.7 1309.2L931.4 1311.4L939.2 1313.5L947 1315.5L954.8 1317.3L962.7 1319.1L970.6 1320.7L978.5 1322.3L986.4 1323.7L994.4 1325L1002.3 1326.2L1010.2 1327.2L1018.1 1328.2L1026 1329L1033.9 1329.7L1041.7 1330.3L1049.4 1330.7L1057.6 1331.2L1066.8 1331.6L1077 1331.8L1086.3 1331.8L1093.7 1331.7L1098.6 1331.7ZM894.7 1290.3L889 1288.1L880.1 1284.5L869.2 1280L859.4 1275.5L850.5 1271.3L842.4 1267.4L834.2 1263.3L825.9 1258.9L817.8 1254.5L809.7 1249.8L801.6 1245.1L793.5 1240.1L785.6 1235L777.8 1229.8L770 1224.5L762.4 1219L754.8 1213.4L747.4 1207.6L740 1201.7L732.8 1195.7L725.6 1189.6L718.6 1183.3L711.7 1177L704.8 1170.5L698.1 1163.9L691.6 1157.1L685.1 1150.3L678.8 1143.3L672.5 1136.3L666.4 1129.1L660.5 1121.8L654.6 1114.4L648.9 1107L643.3 1099.4L637.9 1091.7L632.6 1084L627.5 1076.3L622.6 1068.5L617.7 1060.5L612.9 1052.3L608.1 1043.9L603.4 1035.2L598.8 1026.3L594.4 1017.4L590.2 1008.5L586.2 999.6L582.3 990.6L578.6 981.5L575.1 972.4L571.7 963.2L568.5 953.9L565.5 944.6L562.6 935.2L559.9 925.8L557.4 916.3L555 906.8L552.9 897.2L550.9 887.6L549.1 878L547.4 868.4L545.9 858.7L544.6 849L543.5 839.2L542.6 829.5L541.8 819.7L541.2 809.9L540.8 800.1L540.6 790.3L540.5 780.5L540.6 770.7L541 760.9L541.4 751.2L542.1 741.4L542.9 731.6L543.9 721.9L545.1 712.1L546.5 702.4L548 692.8L549.8 683.1L551.7 673.5L553.7 663.9L556 654.4L558.4 644.9L561 635.4L563.7 626L566.7 616.7L569.8 607.4L573 598.2L576.4 589L580 579.9L583.8 570.8L587.7 561.8L591.8 552.9L596 544.1L600.4 535.3L605 526.6L609.7 518L614.5 509.5L619.6 501.1L624.7 492.8L630.1 484.6L635.5 476.4L641.2 468.4L646.9 460.5L652.8 452.6L658.9 444.9L665.1 437.3L671.4 429.8L677.9 422.5L684.5 415.2L691.2 408.1L698.1 401.1L705 394.2L712.2 387.4L719.4 380.8L726.7 374.3L734.2 367.9L741.8 361.7L749.5 355.6L757.3 349.7L765.2 343.9L773.2 338.2L781.3 332.7L789.5 327.4L797.9 322.2L806.2 317.1L814.7 312.2L823.2 307.5L831.7 303L840.3 298.7L848.7 294.5L857.9 290.1L868.2 285.5L879.5 280.7L888.8 277L894.7 274.7L894.2 273.6L888.3 275.9L879 279.6L867.7 284.3L857.4 289L848.2 293.4L839.7 297.5L831.1 301.8L822.5 306.3L814 311L805.6 315.9L797.1 321L788.8 326.2L780.5 331.5L772.4 337.1L764.3 342.7L756.4 348.5L748.6 354.5L740.8 360.6L733.2 366.8L725.7 373.1L718.4 379.6L711.1 386.3L703.9 393L696.9 399.9L690 407L683.3 414.1L676.7 421.4L670.2 428.7L663.8 436.2L657.6 443.9L651.5 451.6L645.5 459.4L639.7 467.4L634.1 475.4L628.6 483.6L623.2 491.8L618 500.2L613 508.6L608.1 517.1L603.3 525.7L598.7 534.4L594.3 543.2L590 552.1L585.9 561L582 570L578.2 579.1L574.6 588.3L571.1 597.5L567.9 606.7L564.8 616.1L561.8 625.5L559 634.9L556.5 644.4L554 653.9L551.8 663.5L549.7 673.1L547.8 682.8L546.1 692.4L544.5 702.2L543.1 711.9L542 721.6L540.9 731.4L540.1 741.2L539.4 751L539 760.9L538.7 770.7L538.5 780.5L538.6 790.4L538.8 800.2L539.2 810L539.8 819.8L540.6 829.6L541.5 839.4L542.7 849.2L544 859L545.4 868.7L547.1 878.4L548.9 888L550.9 897.7L553.1 907.3L555.5 916.8L558 926.3L560.7 935.8L563.6 945.2L566.6 954.5L569.8 963.8L573.2 973.1L576.7 982.2L580.5 991.3L584.3 1000.4L588.4 1009.4L592.6 1018.3L597 1027.2L601.7 1036.1L606.4 1044.8L611.2 1053.3L616 1061.5L620.9 1069.5L625.9 1077.3L631 1085.1L636.3 1092.8L641.8 1100.5L647.4 1108.1L653.2 1115.6L659.1 1123L665.1 1130.3L671.2 1137.4L677.4 1144.5L683.8 1151.5L690.3 1158.3L696.9 1165.1L703.7 1171.7L710.5 1178.2L717.5 1184.6L724.6 1190.8L731.7 1197L739 1203L746.4 1208.8L753.9 1214.6L761.5 1220.2L769.2 1225.7L776.9 1231L784.8 1236.3L792.8 1241.3L800.8 1246.3L809 1251.1L817.1 1255.7L825.3 1260.1L833.6 1264.4L841.8 1268.5L849.9 1272.5L858.8 1276.7L868.7 1281.1L879.6 1285.7L888.5 1289.2L894.2 1291.4ZM1060.4 235.1L1066.6 235L1076.3 235L1088.2 235.1L1099.2 235.5L1109.1 236.1L1118.3 236.7L1127.5 237.5L1136.9 238.4L1146.3 239.5L1155.7 240.7L1165.1 242.2L1174.5 243.8L1183.9 245.5L1193.2 247.4L1202.6 249.5L1211.8 251.8L1221.1 254.2L1230.3 256.7L1239.4 259.5L1248.5 262.3L1257.6 265.4L1266.6 268.6L1275.5 271.9L1284.4 275.5L1293.2 279.1L1301.9 282.9L1310.6 286.9L1319.2 291L1327.7 295.3L1336.2 299.7L1344.6 304.3L1352.9 309L1361.1 313.9L1369.2 318.8L1377.3 324L1385.2 329.3L1393.1 334.7L1400.8 340.2L1408.5 345.9L1416.1 351.7L1423.5 357.6L1430.9 363.7L1438.2 369.9L1445.3 376.2L1452.3 382.7L1459.2 389.3L1466 396L1472.7 402.8L1479.3 409.7L1485.7 416.7L1492 423.9L1498.2 431.1L1504.3 438.5L1510.2 446L1516 453.6L1521.7 461.2L1527.2 469L1532.6 476.9L1537.9 484.8L1543 492.9L1548 501L1552.8 509.2L1557.5 517.5L1562.1 525.9L1566.5 534.4L1570.7 542.9L1574.8 551.5L1578.8 560.2L1582.6 569L1586.2 577.8L1589.7 586.7L1593 595.6L1596.2 604.6L1599.2 613.6L1602.1 622.7L1604.8 631.9L1607.4 641.1L1609.8 650.3L1612 659.6L1614 668.9L1615.9 678.2L1617.7 687.6L1619.3 697L1620.7 706.4L1621.9 715.9L1623 725.4L1623.9 734.9L1624.7 744.4L1625.2 753.9L1625.7 763.4L1625.9 773L1626 782.5L1625.9 792L1625.7 801.6L1625.2 811.1L1624.7 820.6L1623.9 830.1L1623 839.6L1621.9 849.1L1620.7 858.6L1619.3 868L1617.7 877.4L1615.9 886.8L1614 896.1L1612 905.4L1609.8 914.7L1607.4 923.9L1604.8 933.1L1602.1 942.3L1599.2 951.4L1596.2 960.4L1593 969.4L1589.7 978.3L1586.2 987.2L1582.6 996L1578.8 1004.8L1574.8 1013.5L1570.7 1022.1L1566.5 1030.6L1562.1 1039.1L1557.5 1047.5L1552.8 1055.8L1548 1064L1543 1072.1L1537.9 1080.2L1532.6 1088.1L1527.2 1096L1521.7 1103.8L1516 1111.4L1510.2 1119L1504.3 1126.5L1498.2 1133.9L1492 1141.1L1485.7 1148.3L1479.3 1155.3L1472.7 1162.2L1466 1169L1459.2 1175.7L1452.3 1182.3L1445.3 1188.8L1438.2 1195.1L1430.9 1201.3L1423.5 1207.4L1416.1 1213.3L1408.5 1219.1L1400.8 1224.8L1393.1 1230.3L1385.2 1235.7L1377.3 1241L1369.2 1246.2L1361.1 1251.1L1352.9 1256L1344.6 1260.7L1336.2 1265.3L1327.7 1269.7L1319.2 1273.9L1310.6 1278L1301.9 1282L1293.1 1285.8L1284.3 1289.5L1275.5 1293L1266.5 1296.3L1257.5 1299.5L1248.5 1302.6L1239.4 1305.4L1230.2 1308.2L1221 1310.7L1211.8 1313.1L1202.5 1315.4L1193.2 1317.4L1183.9 1319.3L1174.5 1321.1L1165.1 1322.7L1155.6 1324.1L1146.2 1325.3L1136.9 1326.4L1127.5 1327.3L1118.2 1328.1L1109.1 1328.6L1099.2 1329.3L1088.2 1329.7L1076.3 1329.8L1066.6 1329.7L1060.4 1329.7L1060.3 1332.7L1066.5 1332.8L1076.3 1332.9L1088.3 1332.8L1099.3 1332.4L1109.3 1331.9L1118.5 1331.3L1127.8 1330.6L1137.2 1329.8L1146.6 1328.7L1156.1 1327.5L1165.6 1326.1L1175.1 1324.6L1184.5 1322.9L1194 1321L1203.4 1319L1212.7 1316.8L1222 1314.4L1231.3 1311.9L1240.5 1309.2L1249.7 1306.3L1258.8 1303.3L1267.9 1300.1L1276.9 1296.8L1285.9 1293.3L1294.8 1289.7L1303.6 1285.9L1312.4 1281.9L1321.1 1277.8L1329.7 1273.6L1338.2 1269.1L1346.7 1264.6L1355.1 1259.9L1363.4 1255L1371.6 1250L1379.7 1244.8L1387.8 1239.5L1395.7 1234.1L1403.5 1228.5L1411.3 1222.8L1418.9 1216.9L1426.4 1210.9L1433.9 1204.8L1441.2 1198.6L1448.4 1192.2L1455.5 1185.7L1462.5 1179.1L1469.4 1172.3L1476.1 1165.5L1482.7 1158.5L1489.2 1151.4L1495.6 1144.2L1501.9 1136.9L1508 1129.5L1514 1122L1519.9 1114.3L1525.6 1106.6L1531.2 1098.8L1536.6 1090.8L1542 1082.8L1547.1 1074.7L1552.2 1066.5L1557 1058.2L1561.8 1049.8L1566.4 1041.4L1570.8 1032.9L1575.1 1024.2L1579.3 1015.6L1583.3 1006.8L1587.1 998L1590.8 989.1L1594.4 980.1L1597.7 971.1L1600.9 962L1604 952.9L1606.9 943.7L1609.6 934.5L1612.2 925.2L1614.6 915.9L1616.9 906.6L1618.9 897.2L1620.9 887.7L1622.6 878.3L1624.2 868.8L1625.6 859.3L1626.9 849.7L1628 840.1L1628.9 830.6L1629.6 821L1630.2 811.4L1630.7 801.7L1630.9 792.1L1631 782.5L1630.9 772.9L1630.7 763.3L1630.2 753.6L1629.6 744L1628.9 734.4L1628 724.9L1626.9 715.3L1625.6 705.7L1624.2 696.2L1622.6 686.7L1620.9 677.3L1618.9 667.8L1616.9 658.4L1614.6 649.1L1612.2 639.8L1609.6 630.5L1606.9 621.3L1604 612.1L1600.9 603L1597.7 593.9L1594.4 584.9L1590.8 575.9L1587.1 567L1583.3 558.2L1579.3 549.4L1575.1 540.8L1570.8 532.1L1566.4 523.6L1561.8 515.2L1557 506.8L1552.2 498.5L1547.1 490.3L1542 482.2L1536.6 474.2L1531.2 466.2L1525.6 458.4L1519.9 450.7L1514 443L1508 435.5L1501.9 428.1L1495.6 420.8L1489.2 413.6L1482.7 406.5L1476.1 399.5L1469.4 392.7L1462.5 385.9L1455.5 379.3L1448.4 372.8L1441.2 366.4L1433.9 360.2L1426.4 354.1L1418.9 348.1L1411.3 342.2L1403.5 336.5L1395.7 330.9L1387.8 325.5L1379.7 320.2L1371.6 315L1363.4 310L1355.1 305.1L1346.7 300.4L1338.2 295.9L1329.7 291.5L1321.1 287.2L1312.4 283.1L1303.6 279.2L1294.8 275.4L1285.9 271.7L1276.9 268.3L1267.9 264.9L1258.8 261.8L1249.7 258.8L1240.5 255.9L1231.3 253.2L1222 250.7L1212.7 248.4L1203.3 246.2L1193.9 244.1L1184.5 242.3L1175.1 240.6L1165.6 239L1156.1 237.6L1146.6 236.4L1137.2 235.4L1127.8 234.6L1118.5 233.9L1109.3 233.3L1099.3 232.8L1088.3 232.4L1076.3 232.4L1066.5 232.5L1060.3 232.6ZM1154.7 247.5L1159.8 248.4L1167.5 249.7L1177.2 251.4L1187.7 253.5L1197.2 255.6L1205.5 257.6L1213.5 259.5L1221.4 261.6L1229.5 263.9L1237.5 266.2L1245.5 268.7L1253.5 271.4L1261.5 274.2L1269.5 277.1L1277.4 280.1L1285.3 283.2L1293.1 286.5L1300.9 289.9L1308.6 293.5L1316.3 297.1L1323.8 300.9L1331.4 304.7L1338.9 308.7L1346.3 312.9L1353.7 317.1L1361 321.5L1368.3 326L1375.5 330.6L1382.6 335.4L1389.6 340.1L1396.4 344.9L1403 349.8L1409.5 354.7L1415.9 359.7L1422.3 364.9L1428.6 370.1L1434.8 375.5L1441 381L1447.1 386.6L1453.1 392.2L1459 398L1464.9 403.8L1470.6 409.7L1476.3 415.7L1481.8 421.8L1487.3 428L1492.7 434.3L1497.9 440.6L1503.1 447L1508.2 453.6L1513.2 460.1L1518.1 466.8L1522.8 473.5L1527.5 480.3L1532.1 487.2L1536.5 494.1L1540.9 501.1L1545.1 508.2L1549.3 515.4L1553.3 522.6L1557.2 529.8L1561 537.1L1564.7 544.5L1568.3 551.9L1571.7 559.3L1575 566.7L1578.2 574.1L1581.3 581.6L1584.2 589.1L1587 596.5L1590.2 605.7L1593.3 614.8L1596.2 623.9L1598.9 633.1L1601.5 642.5L1603.9 651.7L1606.1 660.9L1608.2 670.1L1610.1 679.4L1611.8 688.6L1613.3 698L1614.7 707.3L1616 716.6L1617 726L1617.9 735.4L1618.7 744.8L1619.2 754.2L1619.7 763.6L1619.9 773.1L1620 782.5L1619.9 791.9L1619.7 801.4L1619.2 810.8L1618.7 820.2L1617.9 829.6L1617 839L1616 848.4L1614.7 857.7L1613.3 867L1611.8 876.4L1610.1 885.6L1608.2 894.9L1606.1 904.1L1603.9 913.3L1601.5 922.5L1598.9 931.9L1596.2 941.1L1593.3 950.2L1590.2 959.3L1587 968.5L1584.2 975.9L1581.3 983.4L1578.2 990.9L1575 998.3L1571.7 1005.7L1568.3 1013.1L1564.7 1020.5L1561 1027.9L1557.2 1035.2L1553.3 1042.4L1549.3 1049.6L1545.1 1056.8L1540.9 1063.9L1536.5 1070.9L1532.1 1077.8L1527.5 1084.7L1522.8 1091.5L1518.1 1098.2L1513.2 1104.9L1508.2 1111.4L1503.1 1118L1497.9 1124.4L1492.7 1130.7L1487.3 1137L1481.8 1143.2L1476.3 1149.3L1470.6 1155.3L1464.9 1161.2L1459 1167L1453.1 1172.8L1447.1 1178.4L1441 1184L1434.8 1189.5L1428.6 1194.9L1422.3 1200.1L1415.9 1205.3L1409.5 1210.3L1403 1215.2L1396.4 1220.1L1389.6 1224.9L1382.6 1229.7L1375.6 1234.4L1368.3 1239L1361 1243.5L1353.7 1247.9L1346.3 1252.2L1338.9 1256.3L1331.4 1260.3L1323.9 1264.2L1316.3 1268L1308.6 1271.6L1300.9 1275.2L1293.1 1278.6L1285.3 1281.9L1277.5 1285L1269.5 1288.1L1261.6 1291L1253.6 1293.8L1245.5 1296.4L1237.5 1298.9L1229.5 1301.3L1221.5 1303.5L1213.5 1305.6L1205.5 1307.6L1197.2 1309.6L1187.8 1311.7L1177.2 1313.8L1167.6 1315.6L1159.9 1316.9L1154.7 1317.7L1155 1319.7L1160.2 1318.9L1167.9 1317.6L1177.6 1316L1188.2 1313.9L1197.7 1311.8L1206.1 1309.8L1214.1 1307.9L1222.1 1305.9L1230.2 1303.7L1238.3 1301.3L1246.3 1298.8L1254.4 1296.2L1262.5 1293.5L1270.5 1290.6L1278.5 1287.6L1286.4 1284.5L1294.3 1281.2L1302.1 1277.8L1309.9 1274.3L1317.6 1270.7L1325.2 1266.9L1332.9 1263.1L1340.4 1259.1L1347.9 1255L1355.3 1250.7L1362.7 1246.4L1370.1 1241.8L1377.4 1237.2L1384.6 1232.5L1391.6 1227.7L1398.4 1222.9L1405.1 1218L1411.6 1213.1L1418.1 1208L1424.5 1202.9L1430.9 1197.6L1437.2 1192.2L1443.4 1186.7L1449.6 1181.1L1455.6 1175.4L1461.6 1169.6L1467.5 1163.8L1473.3 1157.8L1479 1151.8L1484.6 1145.6L1490.1 1139.4L1495.5 1133.1L1500.8 1126.7L1506 1120.3L1511.2 1113.7L1516.2 1107.1L1521.1 1100.4L1525.9 1093.6L1530.7 1086.8L1535.3 1079.9L1539.8 1072.9L1544.2 1065.9L1548.4 1058.7L1552.6 1051.6L1556.7 1044.3L1560.6 1037L1564.5 1029.7L1568.2 1022.3L1571.8 1014.8L1575.3 1007.4L1578.6 999.9L1581.8 992.5L1584.9 984.9L1587.9 977.3L1590.7 969.8L1594 960.6L1597.1 951.4L1600 942.3L1602.8 933L1605.4 923.6L1607.8 914.3L1610 905L1612.1 895.7L1614 886.4L1615.7 877.1L1617.3 867.7L1618.7 858.3L1619.9 848.9L1621 839.4L1621.9 830L1622.7 820.5L1623.2 811L1623.7 801.5L1623.9 792L1624 782.5L1623.9 773L1623.7 763.5L1623.2 754L1622.7 744.5L1621.9 735L1621 725.6L1619.9 716.1L1618.7 706.7L1617.3 697.3L1615.7 687.9L1614 678.6L1612.1 669.3L1610 660L1607.8 650.7L1605.4 641.4L1602.8 632L1600 622.7L1597.1 613.6L1594 604.4L1590.7 595.2L1587.9 587.7L1584.9 580.1L1581.8 572.5L1578.6 565.1L1575.3 557.6L1571.8 550.2L1568.2 542.7L1564.5 535.3L1560.6 528L1556.7 520.7L1552.6 513.4L1548.4 506.3L1544.2 499.1L1539.8 492.1L1535.3 485.1L1530.7 478.2L1525.9 471.4L1521.1 464.6L1516.2 457.9L1511.2 451.3L1506 444.7L1500.8 438.3L1495.5 431.9L1490.1 425.6L1484.6 419.4L1479 413.2L1473.3 407.2L1467.5 401.2L1461.6 395.4L1455.6 389.6L1449.6 383.9L1443.4 378.3L1437.2 372.8L1430.9 367.4L1424.5 362.1L1418.1 357L1411.6 351.9L1405.1 347L1398.4 342.1L1391.5 337.3L1384.5 332.5L1377.4 327.8L1370.1 323.2L1362.7 318.7L1355.3 314.4L1347.8 310.2L1340.3 306.1L1332.8 302.1L1325.1 298.3L1317.5 294.5L1309.8 290.9L1302 287.5L1294.1 284.1L1286.2 280.9L1278.3 277.8L1270.3 274.8L1262.3 271.9L1254.2 269.2L1246.2 266.6L1238.1 264.2L1230.1 261.8L1222 259.7L1213.9 257.6L1205.9 255.7L1197.6 253.8L1188.1 251.7L1177.5 249.7L1167.8 248.1L1160.1 246.8L1154.9 246ZM1243.7 277.1L1248.5 278.8L1255.6 281.2L1264.5 284.4L1274.1 288L1282.8 291.5L1290.4 294.8L1297.6 297.9L1304.8 301.1L1312.2 304.5L1319.4 308L1326.6 311.6L1333.8 315.3L1341 319.2L1348.1 323.2L1355.2 327.3L1362.2 331.5L1369.1 335.9L1376 340.3L1382.8 344.8L1389.6 349.5L1396.3 354.3L1402.9 359.2L1409.5 364.2L1416 369.3L1422.3 374.4L1428.5 379.7L1434.5 384.9L1440.3 390.1L1446 395.4L1451.8 400.9L1457.4 406.5L1463 412.1L1468.5 417.9L1473.9 423.8L1479.2 429.6L1484.5 435.6L1489.7 441.8L1494.8 447.9L1499.7 454.2L1504.6 460.5L1509.4 466.9L1514.1 473.3L1518.7 479.9L1523.2 486.4L1527.6 493.1L1531.9 499.8L1536.1 506.6L1540.2 513.5L1544.2 520.4L1548.1 527.3L1551.8 534.4L1555.5 541.5L1559.1 548.6L1562.6 555.8L1565.9 563L1569.1 570.2L1572.2 577.5L1575.2 584.9L1578.2 592.3L1581 599.8L1583.7 607.4L1586.3 615.2L1588.8 623L1591.2 630.8L1593.5 638.7L1595.6 646.6L1597.7 654.5L1599.6 662.4L1601.3 670.4L1603 678.4L1604.5 686.4L1605.9 694.4L1607.2 702.5L1608.4 710.5L1609.4 718.6L1610.3 726.7L1611.1 734.8L1611.8 742.9L1612.3 751.1L1612.7 759.2L1613 767.4L1613.2 775.5L1613.2 783.7L1613.1 791.8L1612.9 800L1612.6 808.1L1612.2 816.2L1611.6 824.4L1610.9 832.5L1610.1 840.6L1609.1 848.7L1608 856.8L1606.8 864.8L1605.5 872.9L1604.1 880.9L1602.5 888.9L1600.8 896.9L1599 904.8L1597.1 912.8L1595 920.6L1592.9 928.5L1590.5 936.3L1588.1 944.1L1585.6 951.8L1582.9 959.5L1580.1 967.2L1577.2 974.8L1574.2 982.4L1571.1 989.9L1567.9 997.4L1564.5 1004.8L1561 1012.2L1557.5 1019.5L1553.8 1026.8L1550 1034L1546.1 1041.1L1542 1048.2L1537.9 1055.2L1533.7 1062.2L1529.3 1069.1L1524.9 1075.9L1520.3 1082.6L1515.7 1089.3L1510.9 1096L1506.1 1102.5L1501.1 1109L1496.1 1115.3L1490.9 1121.7L1485.7 1127.9L1480.4 1134L1474.9 1140.1L1469.4 1146.1L1463.8 1152L1458.2 1157.7L1452.5 1163.3L1446.8 1168.8L1441.1 1174.2L1435.2 1179.5L1429.3 1184.6L1423.3 1189.8L1415.7 1196L1407.8 1202.2L1399.9 1208.2L1391.8 1214.1L1383.6 1219.9L1375.5 1225.4L1367.3 1230.6L1359.1 1235.8L1350.8 1240.7L1342.4 1245.5L1333.9 1250.2L1325.3 1254.7L1316.7 1259L1308 1263.2L1299.2 1267.2L1290.5 1271L1281.6 1274.7L1272.9 1278.1L1264.2 1281.4L1254.8 1284.9L1244.3 1288.5L1232.7 1292.1L1223.3 1294.9L1217.2 1296.6L1217.7 1298.1L1223.7 1296.3L1233.2 1293.6L1244.8 1290.1L1255.3 1286.5L1264.8 1283.1L1273.5 1279.9L1282.4 1276.5L1291.2 1272.9L1300.1 1269.1L1308.9 1265.1L1317.6 1261L1326.3 1256.7L1335 1252.2L1343.5 1247.6L1352 1242.8L1360.4 1237.9L1368.7 1232.8L1376.9 1227.6L1385.1 1222.1L1393.4 1216.4L1401.5 1210.5L1409.6 1204.5L1417.5 1198.3L1425.2 1192L1431.3 1186.9L1437.2 1181.7L1443.1 1176.4L1448.9 1171.1L1454.7 1165.5L1460.4 1159.9L1466.1 1154.1L1471.7 1148.2L1477.2 1142.2L1482.7 1136.1L1488.1 1129.9L1493.4 1123.7L1498.5 1117.3L1503.6 1110.9L1508.6 1104.4L1513.5 1097.8L1518.3 1091.2L1523 1084.5L1527.6 1077.7L1532.1 1070.8L1536.4 1063.9L1540.7 1056.9L1544.9 1049.8L1548.9 1042.7L1552.9 1035.5L1556.7 1028.3L1560.4 1021L1564.1 1013.6L1567.6 1006.2L1570.9 998.7L1574.2 991.2L1577.4 983.7L1580.4 976L1583.3 968.4L1586.2 960.7L1588.8 952.9L1591.4 945.1L1593.9 937.3L1596.2 929.4L1598.4 921.5L1600.5 913.6L1602.4 905.6L1604.2 897.6L1605.9 889.6L1607.5 881.6L1609 873.5L1610.3 865.4L1611.5 857.3L1612.6 849.1L1613.5 841L1614.4 832.8L1615.1 824.7L1615.7 816.5L1616.1 808.3L1616.4 800.1L1616.6 791.9L1616.7 783.7L1616.7 775.5L1616.5 767.3L1616.2 759.1L1615.8 750.9L1615.3 742.7L1614.6 734.5L1613.8 726.3L1612.9 718.2L1611.8 710.1L1610.7 701.9L1609.4 693.8L1607.9 685.7L1606.4 677.7L1604.7 669.7L1603 661.7L1601.1 653.7L1599 645.7L1596.9 637.8L1594.6 629.8L1592.2 621.9L1589.6 614.1L1587 606.3L1584.2 598.6L1581.4 591L1578.5 583.6L1575.4 576.2L1572.3 568.9L1569 561.6L1565.6 554.3L1562.1 547.1L1558.5 539.9L1554.8 532.8L1551 525.7L1547.1 518.7L1543 511.8L1538.9 504.9L1534.7 498.1L1530.3 491.3L1525.9 484.6L1521.4 478L1516.7 471.4L1512 465L1507.2 458.5L1502.3 452.2L1497.2 445.9L1492.1 439.7L1486.8 433.6L1481.6 427.5L1476.3 421.7L1470.8 415.8L1465.2 410L1459.6 404.3L1453.9 398.7L1448.1 393.2L1442.3 387.8L1436.4 382.6L1430.4 377.4L1424.1 372.1L1417.8 367L1411.2 362L1404.6 357L1397.8 352.1L1391.1 347.3L1384.2 342.7L1377.3 338.2L1370.4 333.8L1363.4 329.5L1356.3 325.4L1349.2 321.3L1342 317.4L1334.8 313.5L1327.5 309.8L1320.2 306.2L1312.9 302.8L1305.6 299.5L1298.3 296.3L1291.1 293.3L1283.4 290.1L1274.6 286.6L1264.9 283L1256 279.9L1248.9 277.6L1244.1 276ZM1340.2 331L1345.3 334L1353.2 338.6L1363 344.6L1371.7 350.3L1379.6 355.6L1386.8 360.7L1393.9 365.8L1401.2 371.1L1408.3 376.6L1415.4 382.2L1422.4 388L1429.4 393.9L1436.2 400L1443 406.1L1449.6 412.4L1456.1 418.8L1462.4 425.2L1468.6 431.7L1474.7 438.4L1480.8 445.3L1486.8 452.5L1492.9 460L1498.8 467.7L1504.6 475.4L1510.2 483.2L1515.6 491.1L1520.9 499.1L1526 507.1L1531 515.2L1535.8 523.4L1540.5 531.8L1545 540.2L1549.4 548.6L1553.6 557.2L1557.7 565.8L1561.6 574.5L1565.4 583.3L1569 592.2L1572.4 601.1L1575.6 610.1L1578.7 619.1L1581.7 628.2L1584.4 637.3L1587 646.5L1589.4 655.8L1591.6 665L1593.7 674.4L1595.6 683.7L1597.3 693.1L1598.8 702.6L1600.1 712L1601.3 721.5L1602.3 731L1603.2 740.5L1603.9 750L1604.3 759.6L1604.7 769.1L1604.8 778.7L1604.8 788.2L1604.6 797.8L1604.2 807.3L1603.7 816.9L1602.9 826.4L1602 835.9L1601 845.4L1599.7 854.8L1598.3 864.3L1596.7 873.7L1594.9 883.1L1593 892.4L1590.8 901.7L1588.5 911L1586.1 920.2L1583.4 929.4L1580.6 938.5L1577.6 947.6L1574.5 956.6L1571.2 965.5L1567.7 974.4L1564.1 983.2L1560.3 992L1556.4 1000.7L1552.3 1009.2L1548.1 1017.6L1543.8 1026L1539.4 1034.1L1534.9 1042.1L1530 1050.7L1524.3 1060.1L1517.9 1070.1L1512.5 1078.1L1509.1 1083.3L1510.1 1084L1513.5 1078.8L1518.9 1070.8L1525.5 1060.8L1531.2 1051.4L1536.2 1042.8L1540.7 1034.9L1545.2 1026.7L1549.6 1018.4L1553.9 1009.9L1558 1001.4L1562 992.7L1565.8 984L1569.5 975.1L1573 966.2L1576.4 957.2L1579.6 948.2L1582.6 939.1L1585.5 930L1588.2 920.8L1590.7 911.6L1593.1 902.3L1595.3 892.9L1597.3 883.5L1599.1 874.1L1600.8 864.7L1602.2 855.2L1603.5 845.7L1604.6 836.2L1605.5 826.6L1606.3 817L1606.8 807.4L1607.2 797.9L1607.5 788.3L1607.5 778.7L1607.4 769.1L1607.1 759.5L1606.6 749.9L1606 740.3L1605.1 730.7L1604.1 721.2L1603 711.7L1601.6 702.1L1600.1 692.7L1598.4 683.2L1596.6 673.8L1594.5 664.4L1592.3 655L1589.9 645.7L1587.3 636.5L1584.5 627.3L1581.5 618.2L1578.4 609.1L1575.1 600.1L1571.6 591.1L1568 582.2L1564.2 573.4L1560.3 564.7L1556.2 556L1551.9 547.4L1547.5 538.9L1542.9 530.4L1538.2 522.1L1533.3 513.8L1528.3 505.7L1523.1 497.6L1517.8 489.6L1512.3 481.7L1506.7 473.9L1500.9 466.1L1494.9 458.5L1488.8 451L1482.6 443.7L1476.5 436.8L1470.3 430.1L1464 423.6L1457.6 417.2L1451.1 410.8L1444.4 404.6L1437.6 398.5L1430.7 392.4L1423.7 386.5L1416.6 380.8L1409.4 375.2L1402.2 369.7L1394.9 364.4L1387.7 359.4L1380.4 354.4L1372.5 349.1L1363.7 343.4L1353.9 337.5L1345.9 332.9L1340.8 329.9ZM914.9 432.9L909.9 433.5L902.5 434.3L893.2 435.6L883.4 438L874.9 441L867.3 444.3L860 447.5L852.6 451.3L845.4 455.5L838.3 460.1L831.3 465.2L824.4 470.8L817.8 476.8L811.6 483L805.8 489.3L799.2 497.3L793.2 505.6L787.9 514.1L783.1 522.9L778.8 532.2L775 541.7L771.7 551.4L768.7 561.1L766.4 568.9L764.1 576.8L761.9 584.6L759.8 592.2L757.8 599.2L755.2 608.8L753 617.4L750.8 627.9L749.7 634.9L748.8 642.8L748.3 651.2L748.2 660L748.3 669L748.8 677.6L749.5 686.1L750.4 694.6L751.5 702.9L752.9 711.2L754.5 719.1L756.5 727L759.2 736.2L762.2 745.2L765.7 754.1L769.5 762.6L773.6 771L778.1 779.1L782.9 787.1L788.1 794.8L793.7 802.1L799.7 809.1L805.1 814.8L811 820.4L817.2 825.7L823.7 830.6L830.2 835.1L836.5 839L843.9 843L851.2 846.5L858.4 849.4L865.8 851.9L873.3 853.8L882.7 855.6L892.4 856.7L902.2 857L912.3 856.5L922.4 855.2L932.6 853.1L942.5 850.4L952.1 847.2L959.5 844.4L966.8 841.3L973.8 838L980.9 834.4L988.3 830.4L995.9 825.9L1003.8 821L1011.8 815.9L1019.4 810.7L1026.6 805.6L1034.9 799.6L1042.8 793.7L1050.2 787.9L1057.2 782.2L1065.5 775L1073 768.3L1080.2 761.3L1085.7 755.7L1090.9 750L1096.2 744L1101.9 736.9L1106.9 730.3L1112.2 723L1117.6 715.1L1123 707L1128 699L1132.8 691.3L1137.5 683.5L1141.8 676L1146 668.4L1150.1 660.9L1153.9 653.4L1157.5 646L1161.1 638.6L1164.5 631.3L1167.8 624.1L1171.8 615.5L1175.6 607.2L1179.3 599.2L1182.9 591.6L1186.3 584.2L1189.6 577.2L1192.8 570L1196.1 562.1L1199.6 553.4L1203.1 543.8L1206.7 533.8L1210.1 523.6L1213.5 513.4L1217.1 503L1220.4 493.2L1223.5 484.7L1227 475.6L1229.9 468.1L1232.9 461L1236.1 454.1L1239.4 447.5L1242.9 441.7L1248.3 434.4L1254.8 427.9L1261.7 422.9L1271.2 418.4L1281.7 415.6L1289.8 414.6L1298.6 414.4L1307.6 415.1L1316.6 416.5L1325.7 418.5L1335.1 421L1344.8 423.9L1354.6 427.2L1364.6 431L1374.2 435.3L1382.5 440L1389.2 444.7L1394.4 449.1L1399.2 453.8L1404.3 459.1L1410.1 465.4L1414.7 470.5L1420.2 476.1L1426.3 482.2L1432.7 488.4L1439 494.6L1444.8 500.5L1450.2 506.3L1455.4 512.1L1460.3 518L1465.1 523.9L1469.7 529.9L1474.3 536.1L1479.8 543.9L1485.3 552L1490.6 559.9L1495.6 567.3L1500.2 573.9L1505.4 581L1510.4 587.2L1515.1 592.4L1519.5 596.7L1527.3 603.6L1536.5 610.9L1543.2 616.1L1548.8 624.5L1552.6 634.7L1554.9 641L1560.1 639L1557.9 632.7L1553.8 622L1547.4 612.3L1539.9 606.5L1530.9 599.3L1523.3 592.5L1519.2 588.5L1514.6 583.5L1509.8 577.6L1504.8 570.7L1500.3 564.1L1495.3 556.7L1490 548.8L1484.4 540.7L1478.8 532.9L1474.1 526.6L1469.4 520.5L1464.6 514.5L1459.5 508.5L1454.2 502.7L1448.7 496.8L1442.7 490.8L1436.4 484.6L1430 478.4L1423.9 472.5L1418.5 466.9L1413.8 462L1408 455.7L1402.8 450.3L1397.7 445.4L1392.1 440.8L1385.1 435.9L1376.3 431.1L1366.4 426.6L1356.1 422.8L1346.2 419.5L1336.3 416.6L1326.7 414.1L1317.4 412.1L1308.1 410.7L1298.7 410L1289.5 410.1L1280.8 411.2L1269.6 414.1L1259.4 418.9L1251.7 424.3L1244.7 431.3L1238.8 439L1235.1 445.1L1231.5 451.8L1228.2 458.9L1225.1 466.1L1222.1 473.7L1218.5 482.8L1215.4 491.4L1211.9 501.2L1208.3 511.6L1204.8 521.8L1201.3 531.9L1197.7 541.9L1194.1 551.3L1190.6 559.9L1187.3 567.6L1184.1 574.7L1180.9 581.7L1177.4 589L1173.8 596.6L1170 604.6L1166.1 612.8L1162 621.4L1158.6 628.5L1155.2 635.7L1151.6 643L1147.9 650.3L1144 657.7L1140 665L1135.7 672.5L1131.4 679.9L1126.7 687.5L1121.9 695.1L1116.8 702.9L1111.5 710.9L1106.1 718.7L1100.9 725.8L1096 732.2L1090.4 739.1L1085.3 745L1080.2 750.5L1074.9 755.9L1067.8 762.8L1060.5 769.3L1052.3 776.4L1045.4 782L1038.1 787.7L1030.4 793.5L1022.2 799.4L1015.1 804.4L1007.5 809.5L999.7 814.5L991.9 819.3L984.4 823.6L977.3 827.4L970.4 830.9L963.5 834L956.6 837L949.4 839.7L940.2 842.7L930.7 845.3L921 847.3L911.6 848.5L902.1 849.1L892.9 848.8L883.8 847.9L874.9 846.3L867.9 844.5L861 842.3L854.2 839.6L847.2 836.4L840.1 832.7L834 829.1L827.8 824.9L821.5 820.3L815.5 815.3L809.8 810L804.5 804.7L798.7 798.1L793.1 791.1L788 783.8L783.1 776.1L778.6 768.3L774.4 760.3L770.5 752L766.9 743.4L763.8 734.6L761 725.7L759 718.1L757.2 710.3L755.7 702.3L754.5 694L753.5 685.7L752.7 677.3L752.2 668.8L751.9 660L752 651.3L752.4 643L753.2 635.4L754.2 628.6L756.3 618.1L758.3 609.6L760.9 600L762.8 593L764.9 585.5L767.1 577.7L769.3 569.7L771.5 561.9L774.5 552.3L777.8 542.7L781.5 533.3L785.7 524.2L790.3 515.5L795.5 507.1L801.4 498.9L807.8 491L813.4 484.8L819.5 478.6L826 472.6L832.7 467L839.5 461.9L846.5 457.3L853.6 453L860.8 449.3L868.1 446L875.5 442.7L883.9 439.7L893.5 437.3L902.7 435.9L910.1 435.2L915.1 434.6ZM1072 764.1L1089 759.1L1077.3 747.1ZM1094.2 740.7L1110.4 733.6L1097.3 723.2ZM1233.4 453.4L1220.9 463.5L1234.3 469.5ZM899.7 487.9L893.5 489.9L883.8 493.1L871.5 498.2L861 504L854.3 508.4L848.3 512.5L842.4 517L836.6 522L831.1 527.5L824.5 535.1L818.4 543.3L812.7 552.2L807.7 561.3L804.3 568.5L801.1 575.9L798.1 583.3L795.1 590.9L792 598.5L788.7 606.4L785.2 614.7L781.8 623.2L778.6 631.9L775.9 640.7L774 648.5L772.6 656.8L771.8 665.4L771.5 674L771.7 682.4L772.3 690.3L773.4 699L775 707.4L777 715.3L779.4 722.8L782.2 730L785.9 738.2L790 745.7L794.5 753L799.8 760.2L804.8 766.2L810.4 772.2L816.4 777.8L822.7 782.9L829 787.5L836.7 792.3L844.5 796.4L852.7 800.1L861.3 803.3L870.5 806.1L880.2 808.4L890.2 810.1L899.9 811.1L909.3 811.4L918.7 811.1L928.1 810.2L937.6 808.6L947.3 806.4L957.2 803.5L967.1 800.1L976.9 796.2L984.7 792.5L992.5 788.5L1000 784.1L1006.9 779.5L1013.1 774.8L1019.5 769.2L1025.3 763.6L1030.7 757.7L1036 751.2L1041 744.5L1045.7 737.6L1050.6 729.8L1055.8 720.4L1059 713.8L1062.3 706.5L1065.6 698.6L1068.6 690.3L1071.4 681.8L1073.9 673.4L1076 665.2L1078.2 655.7L1080.1 646L1081.8 636.8L1083.1 628.5L1084.1 621.4L1084.9 615.8L1085.6 607.5L1085.8 601.7L1085.7 594.1L1084.8 584.6L1083 574.1L1080 562.9L1075.9 551.4L1071.3 541.3L1066.5 532.9L1061.5 525.6L1056.6 519.7L1051.3 513.9L1044.8 507.5L1038.9 502.1L1031.9 495.9L1025.3 490.3L1020.3 486.2L1017 483.6L1013 480.7L1008.3 477.5L1001.9 473.6L994 469.2L984.8 464.9L975.4 461.1L967.5 458.5L959.2 456.4L950.6 454.8L942.1 453.9L933.6 453.5L925.2 453.6L917 454.3L908.5 455.6L899.8 457.4L891.5 459.7L883.7 462.4L876.1 465.1L866.5 469.1L856.4 474.3L848 479.4L841.5 483.9L837 486.8L838 488.2L842.4 485.3L848.9 481L857.3 475.9L867.3 470.8L876.8 467L884.4 464.3L892.1 461.8L900.3 459.6L908.9 457.8L917.2 456.7L925.4 456.1L933.5 456L941.9 456.4L950.2 457.5L958.6 459.1L966.7 461.3L974.4 463.9L983.6 467.6L992.6 471.9L1000.4 476.3L1006.5 480.2L1011.1 483.3L1015 486.2L1018.2 488.8L1023.1 492.9L1029.6 498.5L1036.5 504.7L1042.3 510.1L1048.6 516.5L1053.8 522.1L1058.4 527.9L1063.2 534.9L1067.8 543L1072.1 552.8L1076.1 564.1L1079 575L1080.7 585.2L1081.5 594.4L1081.6 601.7L1081.3 607.1L1080.5 615.3L1079.8 620.8L1078.7 627.8L1077.4 636L1075.7 645.2L1073.7 654.8L1071.5 664.1L1069.4 672.1L1066.9 680.4L1064.1 688.7L1061.1 696.9L1057.9 704.6L1054.6 711.7L1051.4 718.1L1046.3 727.3L1041.5 734.8L1036.9 741.5L1031.9 748L1026.7 754.2L1021.5 759.8L1015.8 765.2L1009.6 770.5L1003.7 774.9L997 779.3L989.7 783.5L982.2 787.3L974.6 790.8L965.1 794.6L955.4 797.9L945.8 800.6L936.4 802.7L927.3 804.2L918.3 805.1L909.3 805.3L900.3 805L891 804.1L881.4 802.5L872 800.4L863.1 797.8L854.8 794.7L847 791.3L839.5 787.4L832 782.8L826 778.6L820 773.7L814.1 768.4L808.6 762.8L803.8 757.1L798.6 750.2L794.2 743.2L790.1 736L786.4 728.2L783.7 721.3L781.3 714.1L779.3 706.4L777.6 698.3L776.4 689.8L775.7 682.2L775.5 674L775.7 665.6L776.4 657.3L777.7 649.2L779.5 641.6L782.1 633L785.1 624.5L788.5 616.1L791.9 607.8L795.2 599.8L798.3 592.1L801.2 584.5L804.1 577.1L807.2 569.8L810.5 562.7L815.3 553.7L820.8 545L826.7 536.8L833.1 529.3L838.4 523.9L843.9 518.9L849.6 514.4L855.6 510.2L862 505.7L872.3 499.9L884.5 494.8L894.1 491.6L900.3 489.6ZM1059.6 526L1055.9 511.3L1045.6 520.2ZM986 568.1L988.3 573.3L992 581.7L996.1 590.4L999.8 598.2L1003 606.6L1006.1 615.9L1008.6 624.1L1011 633.5L1013.1 643.6L1014.6 653.5L1015.5 663.1L1015.8 672.6L1015.5 681.7L1014.5 690.5L1013 697.4L1010.9 704.5L1008.2 711.3L1004.8 718.1L1000.9 724.6L996.3 731L990.9 737.4L984.8 743.4L978.5 748.7L972.1 753.4L965.6 757.3L958.8 760.7L952 763.6L944.9 766L937.8 767.9L928.9 769.5L919.7 770.5L910.5 770.8L901.2 770.3L891.8 769.1L882.2 767.1L873 764.3L864.1 760.9L855.6 756.8L847.5 752L840.1 746.6L833.6 740.9L827.9 734.7L822.8 727.8L818.6 720.5L815.3 713L812.4 703.2L810.8 693.6L810.4 684L810.8 676.7L811.9 669.4L813.7 661.7L816.4 653.4L819.3 645.6L823 637L826.8 628.3L830.1 620.8L832.8 615.1L835.8 608.8L838.8 602.8L841.9 597.3L846.5 590.2L852.3 582.4L858.9 574.9L865.6 568.5L872.2 563.3L879 558.8L886.1 554.9L893.4 551.8L900.5 549.6L909.6 547.6L919.1 546.5L928.3 546.5L937 547.2L946 548.2L955.1 550.3L963.3 553.3L969.4 556.2L978.3 561.3L981.9 564.4L983.1 563.1L979.3 559.8L970.3 554.4L964.1 551.3L955.7 548.1L946.5 545.8L937.2 544.6L928.4 543.7L918.9 543.6L909.1 544.5L899.7 546.5L892.3 548.8L884.7 552L877.3 555.9L870.2 560.6L863.4 566L856.5 572.5L849.6 580.2L843.6 588.2L838.9 595.5L835.7 601.2L832.6 607.2L829.5 613.5L826.8 619.3L823.4 626.8L819.6 635.5L815.9 644.2L812.8 652.1L810 660.7L808.1 668.6L806.9 676.3L806.4 684L806.8 694L808.4 704.2L811.4 714.4L814.7 722.4L819.2 730.2L824.5 737.5L830.5 744.1L837.3 750.1L845 755.7L853.5 760.8L862.3 765.1L871.5 768.6L881.1 771.5L891 773.7L900.8 774.9L910.4 775.4L920 775.1L929.5 774.1L938.8 772.4L946.3 770.4L953.6 767.9L960.8 764.9L967.8 761.3L974.6 757.2L981.3 752.4L988 746.8L994.2 740.5L999.9 733.9L1004.7 727.1L1008.8 720.3L1012.3 713.1L1015.2 705.9L1017.3 698.5L1018.8 691.1L1019.9 682L1020.1 672.5L1019.7 662.8L1018.7 653L1017.1 642.9L1014.9 632.6L1012.3 623L1009.7 614.8L1006.4 605.3L1003 596.8L999.2 588.9L995 580.3L991.2 572L989 566.9ZM827.1 737.6L832.1 752.4L842 742.3ZM912.4 622.1L918.7 623.3L928.7 625.3L940.1 629.3L948.6 634.4L954.8 639.9L960.5 645L965.4 650.7L969.6 656.8L973.8 665.8L976.5 675.4L977.4 685L976.4 694.7L973.5 704.5L969 713.7L964.6 720.1L959.3 726L953.2 731.6L946.6 736.5L940.6 740.2L934 743.4L927.1 746L919.9 748L912.7 749.1L903.4 749.6L893.8 748.8L884.7 746.9L877 744.1L870.6 740.8L864.9 736.7L860.3 732.1L856.6 727.3L852.9 720.2L850.3 712.1L849.2 703.1L849.5 693.5L851.4 683.3L854.7 673.8L857.7 666.6L861.5 659L866.1 652.3L870.6 646.7L880.1 637.2L885.5 633.2L884.5 631.8L878.9 635.8L869 645.2L864.2 650.9L859.3 657.7L855.3 665.4L852 672.8L848.5 682.5L846.3 693.1L845.8 703.2L846.9 712.8L849.6 721.5L853.5 729.2L857.5 734.6L862.5 739.6L868.6 744L875.5 747.6L883.7 750.6L893.2 752.7L903.4 753.5L913.1 753L920.7 751.8L928.3 749.7L935.6 747L942.5 743.6L948.7 739.8L955.7 734.6L962.1 728.8L967.7 722.5L972.4 715.7L977.2 705.9L980.2 695.4L981.2 685L980.3 674.7L977.4 664.5L972.8 655L968.3 648.4L962.9 642.6L956.9 637.4L950.4 631.9L941.2 626.7L929.3 623L919 621.3L912.6 620.4ZM949.7 374.5L954.3 376.5L961.1 379.3L969.6 383L978.5 387.2L986.8 391.6L994.9 396.3L1002.9 401.1L1010.8 406.2L1017.8 411.1L1023.7 415.5L1030.6 421L1035.9 425.3L1042 430.4L1047.9 435.2L1054.5 440.4L1061.5 445.9L1068.3 451.1L1075.3 456.2L1082.2 461.3L1088.9 466.4L1095.2 471.4L1103.1 477.8L1110.1 484.2L1115.9 490.2L1121.9 497.6L1126.7 505.2L1130.2 512.5L1133.2 521.2L1135.2 530.4L1136.4 539.9L1136.7 549.8L1136.4 559.8L1135.6 569.6L1134.4 579.4L1132.7 589.9L1131.2 598.6L1129.3 607.8L1127.2 617.3L1124.9 626.8L1122.2 636.4L1119.2 646.2L1115.9 655.7L1112.6 664.6L1109.2 672.8L1105.9 680.6L1102.4 688.5L1098.9 696L1093.1 707L1087.6 716.3L1084.2 722L1085.8 723L1089.4 717.5L1095.2 708.2L1101.2 697.2L1105 689.7L1108.6 681.7L1112 674L1115.5 665.8L1119 656.8L1122.4 647.2L1125.5 637.4L1128.3 627.7L1130.8 618.1L1133 608.6L1135 599.3L1136.6 590.5L1138.3 579.9L1139.6 570L1140.5 560.1L1140.8 549.8L1140.5 539.5L1139.3 529.7L1137.2 520L1134 510.9L1130.3 503.2L1125.3 495.2L1119 487.5L1112.9 481.3L1105.7 474.8L1097.7 468.3L1091.3 463.3L1084.5 458.2L1077.6 453.1L1070.6 448L1063.7 442.9L1056.7 437.5L1050.1 432.4L1044.1 427.7L1037.9 422.8L1032.5 418.6L1025.4 413.2L1019.4 408.9L1012.1 404.1L1004.1 399.1L996 394.4L987.8 389.8L979.4 385.5L970.4 381.3L961.8 377.6L955 374.9L950.3 373ZM1131.9 510.2L1131.2 494.8L1119.1 501.6ZM947.3 414.6L952.3 415.8L959.6 417.6L968.7 420.2L978 423.6L986.7 427.7L995.2 432.2L1003.7 436.9L1011.6 441.7L1018.4 446.1L1023.3 449.6L1028.9 453.6L1033.6 457.1L1040.7 462.4L1049.7 469.4L1058.4 476.4L1065.4 482.5L1071.6 488.5L1077.6 494.7L1083.5 501.7L1089.2 509.3L1094.3 517.1L1098.7 524.8L1103 532.7L1107 541.3L1109.8 549.3L1111.7 558.7L1112.8 567.3L1113.5 572.7L1116.5 572.3L1115.9 566.9L1114.8 558.2L1113 548.5L1110.2 540L1106.2 531.2L1101.8 523.1L1097.4 515.2L1092.2 507.2L1086.5 499.3L1080.4 492.2L1074.4 485.7L1068 479.7L1060.8 473.4L1052 466.4L1042.8 459.6L1035.6 454.3L1030.8 451L1025.1 447L1020 443.6L1013 439.3L1005 434.6L996.3 430.1L987.7 425.7L978.8 421.6L969.3 418.3L960.1 415.8L952.7 414.1L947.7 412.9ZM1064.8 479.3L1058.7 465.3L1050 475.8ZM929.9 495.8L935 496.8L942.8 498.3L952.4 501.1L961.6 504.9L968.8 508.6L976.5 513.2L984.1 517.7L991.5 522.8L998.1 527.9L1005.4 534.3L1011.7 540.7L1016.9 546.9L1021.1 552.8L1025.2 559.5L1028.4 565.8L1031.5 572.8L1034.6 581.1L1037.6 590.1L1040.2 599.5L1042.4 608.3L1044.3 617.2L1046.4 627.4L1047.7 637L1047.7 648.5L1046.8 658.6L1046.3 664.9L1048.7 665.1L1049.4 658.8L1050.4 648.7L1050.7 636.8L1049.5 626.8L1047.5 616.5L1045.8 607.6L1043.6 598.6L1041 589.1L1038 579.9L1034.8 571.5L1031.6 564.3L1028.2 557.8L1023.9 550.9L1019.5 544.9L1014.1 538.5L1007.6 532L1000.1 525.5L993.2 520.4L985.6 515.3L977.9 510.8L970 506.4L962.6 502.7L953.1 498.9L943.3 496.3L935.3 495L930.1 494.2ZM1026.3 557.4L1024.3 542.6L1013.3 550ZM743 479.6L740.6 484.4L736.9 492L732.9 501.5L730 510.4L727.8 518.2L725.9 525.9L724.1 533.5L722.4 541.3L720.3 551.8L718.5 562.4L716.9 572.5L715.5 581.9L714.1 590.8L712.7 599.7L711.3 608.4L709.8 617.2L708 627.4L706.7 636.7L706.2 647.3L706.5 656.7L706.7 662.5L708.3 662.5L708.2 656.6L708 647.4L708.6 636.8L710 627.7L711.8 617.6L713.3 608.7L714.8 600L716.2 591.1L717.6 582.2L719 572.8L720.6 562.7L722.3 552.2L724.3 541.7L725.9 533.9L727.7 526.3L729.6 518.6L731.6 510.9L734.5 502.1L738.5 492.7L742.2 485.2L744.5 480.4ZM689.4 479.4L685.9 483.1L680.7 488.3L674.5 494.8L667.3 502.6L660.4 510.7L654.5 518L649.2 524.6L644 531.3L638.9 538.2L633.9 545.2L629 552.1L624.4 558.8L619.1 566.9L614 574.9L609.2 582.9L604.5 591.3L600 600L596.4 607.8L593 616L589.8 624.6L586.8 633.6L584.1 642.9L581.6 652.5L579.6 660.9L577.8 669.6L576.1 678.5L574.7 687.5L573.3 696.9L572.2 706.1L571.2 715.2L570.4 724.1L569.7 732.9L569.2 741.8L568.8 750.6L568.6 759.5L568.6 768.4L568.7 777.4L569 786.5L569.4 795.9L570 805.4L570.8 814.7L571.8 823.8L572.9 832.5L574.2 840.6L575.8 849.6L577.5 858.1L579.4 866.1L581.4 874L583.5 881.9L585.9 890.1L588.5 898.6L591.3 907.3L594.3 916L597.4 924.6L600.5 932.9L603.7 940.7L607.4 949.3L611.2 957.2L615.4 964.7L620 972.1L625.6 979.8L630.3 985.5L635.5 991.2L641.2 996.9L647.4 1002.9L653.8 1009.2L660.4 1015.6L666.9 1022.4L672.4 1028.6L678.1 1035.5L683.9 1042.7L689.6 1050.4L695.3 1058L700.8 1065.4L706.2 1072.4L711.2 1078.8L717.8 1086.7L723.9 1093.7L730 1100.4L736.1 1106.8L742.4 1113L749.3 1119.5L754.8 1124.6L760.7 1129.7L766.7 1134.8L772.9 1139.9L779.3 1144.9L785.7 1149.9L792.2 1154.6L798.6 1159.1L805.8 1164.1L813 1168.8L820.1 1173.3L827.2 1177.5L834.3 1181.5L841.4 1185.3L848.5 1189L857 1193L865.5 1196.8L874 1200.4L882.5 1203.8L891 1206.9L899.4 1209.9L907.7 1212.8L916.1 1215.4L924.4 1218L932.7 1220.4L941 1222.6L949.4 1224.8L957.9 1226.8L966.8 1228.8L975.4 1230.7L983.7 1232.5L991.4 1234.2L998.6 1235.7L1009.9 1238L1019.1 1239.7L1030.4 1241.4L1037.7 1242.3L1046.1 1243.1L1055 1243.6L1063.7 1243.9L1072.1 1243.9L1079.4 1243.9L1090.5 1243.5L1099.4 1243L1110.2 1242.2L1118.3 1241.3L1127 1240.1L1136.5 1238.6L1146.2 1236.6L1155.9 1234.3L1164.1 1232.1L1172.5 1229.7L1180.8 1226.9L1189.5 1223.7L1198.1 1220.3L1206.5 1216.7L1213.7 1213.3L1221 1209.7L1228.3 1205.9L1235.5 1202L1242.4 1198L1249.1 1194L1255.6 1189.9L1264.1 1184.3L1272.1 1178.7L1279.8 1173.1L1287.2 1167.4L1294.7 1161.6L1301 1156.5L1307.1 1151.3L1313.2 1146.1L1319.4 1140.8L1325.5 1135.3L1331.7 1129.8L1337.9 1124.2L1344.1 1118.5L1350.3 1112.8L1356.5 1107L1362.6 1101.1L1368.9 1095.1L1375.5 1088.7L1382.4 1081.9L1389.1 1075.2L1395.4 1068.8L1401.1 1063L1406 1057.9L1415.1 1048.3L1423 1039.6L1429.4 1032.6L1436.5 1024.7L1443.8 1016.6L1450.6 1009L1456.7 1002L1462.3 995.5L1468 988.6L1474 980.9L1479.1 973.9L1484.3 966.2L1489.7 958L1495.1 949.2L1500.5 940.3L1504.3 933.7L1508.1 927L1511.8 920.3L1515.6 913.3L1519.4 906.2L1523.1 899.1L1526.7 892L1530.9 883.4L1535 874.7L1539 866L1542.7 857.4L1546.2 848.8L1549.5 840.3L1552.5 831.9L1555.4 823.4L1557.9 815.2L1560.3 806.8L1562.5 798.5L1564.5 790.1L1566.2 781.8L1567.8 773.4L1569.1 765L1570.1 756.7L1571 748.3L1571.5 740L1571.8 731.6L1571.7 723.3L1571.5 715L1571 706.6L1570.2 698.3L1569.3 690L1568.1 681.7L1566.8 673.6L1565.3 665.4L1563.6 657.1L1561.7 648.8L1559.7 640.6L1557.4 631.4L1554.5 620.8L1551.4 610.2L1548.7 601.3L1546.4 594.2L1544.8 589.3L1540.2 590.7L1541.7 595.7L1543.9 602.8L1546.6 611.7L1549.7 622.1L1552.5 632.6L1554.8 641.8L1556.8 650L1558.6 658.1L1560.3 666.4L1561.8 674.5L1563 682.5L1564.2 690.6L1565.1 698.8L1565.8 707L1566.2 715.2L1566.5 723.4L1566.5 731.6L1566.2 739.7L1565.6 747.9L1564.8 756.1L1563.8 764.3L1562.5 772.5L1561 780.7L1559.2 789L1557.3 797.2L1555.1 805.4L1552.8 813.6L1550.2 821.8L1547.4 830.1L1544.4 838.4L1541.2 846.8L1537.7 855.2L1533.9 863.8L1530 872.4L1525.9 881L1521.7 889.4L1518.1 896.5L1514.4 903.6L1510.6 910.6L1506.8 917.5L1503 924.1L1499.2 930.8L1495.4 937.3L1490.1 946.2L1484.7 954.8L1479.4 962.9L1474.2 970.4L1469.2 977.2L1463.2 984.8L1457.6 991.6L1452.1 998L1446 1004.9L1439.2 1012.5L1432 1020.6L1424.9 1028.5L1418.5 1035.5L1410.6 1044.1L1401.6 1053.7L1396.7 1058.7L1391.1 1064.6L1384.8 1070.9L1378.1 1077.6L1371.3 1084.3L1364.7 1090.7L1358.4 1096.7L1352.3 1102.5L1346.1 1108.3L1340 1114.1L1333.8 1119.7L1327.7 1125.3L1321.5 1130.8L1315.4 1136.2L1309.3 1141.5L1303.2 1146.7L1297.1 1151.8L1290.9 1156.8L1283.5 1162.6L1276.1 1168.2L1268.5 1173.7L1260.6 1179.2L1252.3 1184.8L1245.9 1188.8L1239.3 1192.8L1232.5 1196.7L1225.4 1200.6L1218.3 1204.3L1211.1 1207.8L1204.1 1211.1L1195.7 1214.7L1187.3 1218L1178.8 1221.1L1170.6 1223.8L1162.5 1226.3L1154.5 1228.4L1145 1230.6L1135.4 1232.6L1126.1 1234.1L1117.5 1235.3L1109.7 1236.1L1099 1237L1090.2 1237.4L1079.3 1237.8L1072.1 1237.8L1063.9 1237.8L1055.2 1237.5L1046.5 1237L1038.3 1236.2L1031.2 1235.4L1020.1 1233.7L1011.1 1232L999.8 1229.8L992.7 1228.3L985 1226.7L976.7 1224.9L968.1 1223L959.2 1221L950.8 1219L942.5 1216.9L934.3 1214.7L926 1212.4L917.8 1209.9L909.6 1207.2L901.3 1204.4L892.9 1201.5L884.6 1198.4L876.2 1195.1L867.7 1191.6L859.3 1187.8L851 1183.9L844 1180.3L837 1176.6L830.1 1172.7L823.1 1168.5L816 1164.1L808.9 1159.4L801.7 1154.6L795.4 1150.1L789 1145.4L782.7 1140.6L776.3 1135.6L770.2 1130.6L764.2 1125.6L758.4 1120.6L752.9 1115.6L746.1 1109.2L739.9 1103.1L733.8 1096.8L727.8 1090.3L721.7 1083.3L715.2 1075.5L710.2 1069.2L704.8 1062.3L699.3 1055L693.5 1047.4L687.7 1039.8L681.8 1032.4L676 1025.5L670.3 1019.2L663.7 1012.4L657 1005.9L650.5 999.7L644.3 993.7L638.7 988.1L633.6 982.6L629 977.1L623.6 969.7L619.1 962.5L615 955.2L611.2 947.5L607.5 939.1L604.3 931.4L601.2 923.2L598.1 914.7L595.1 906L592.3 897.4L589.6 889L587.2 880.9L585.1 873L583.1 865.2L581.2 857.3L579.4 848.9L577.8 840L576.5 831.9L575.4 823.3L574.4 814.4L573.7 805.1L573 795.7L572.6 786.4L572.4 777.3L572.3 768.4L572.3 759.6L572.5 750.8L572.9 742L573.3 733.2L574 724.4L574.8 715.5L575.7 706.5L576.9 697.4L578.2 688.1L579.6 679.1L581.2 670.2L583 661.6L584.9 653.3L587.3 643.8L589.9 634.5L592.8 625.6L595.9 617.1L599.1 609L602.6 601.3L607 592.6L611.5 584.3L616.3 576.2L621.2 568.3L626.5 560.2L631 553.4L635.7 546.5L640.7 539.5L645.7 532.6L650.8 525.9L656 519.2L661.9 511.9L668.7 503.9L675.8 496L682 489.5L687.1 484.3L690.6 480.6ZM581.6 659.3L591.2 648L578.4 644.8ZM717.7 1082.7L714.4 1067L703 1076.2ZM1117.4 1238.5L1101.9 1232.1L1103.3 1247.5ZM1527.5 884.2L1514.2 893.8L1527.7 900.6ZM834.5 409.3L829.1 413.6L820.3 420.9L810 430.8L804.4 436.7L798.4 443.5L792.8 449.8L787.4 456.4L782.2 463L777.5 469.4L773.1 475.9L769 482.4L765.1 489.1L761.1 496.3L756.6 505.2L751.9 516L748.3 526.3L745.7 534.3L744 539.7L746 540.3L747.8 535L750.3 526.9L753.9 516.7L758.4 506.1L762.8 497.2L766.8 490L770.6 483.3L774.6 476.9L779 470.4L783.6 464.1L788.7 457.5L794.1 451L799.7 444.7L805.6 437.9L811.2 432L821.5 422.2L830.2 414.9L835.5 410.7ZM806.1 435.8L819.1 431.3L810.8 422.8ZM768.2 389.3L762.6 393.5L753.5 400.4L743 408.3L734.8 414.5L725.5 421.6L717.2 427.9L712 431.8L713 433.2L718.2 429.2L726.5 422.9L735.8 415.9L744 409.7L754.5 401.7L763.6 394.9L769.3 390.7ZM738.5 412.7L752 410L744.9 400.5ZM699.5 466.8L693.4 471.2L683.1 478.3L674 484L663.6 489.3L657.2 491.7L657.8 493.3L664.3 490.9L674.8 485.5L684.1 479.8L694.4 472.6L700.5 468.2ZM702.9 528.8L703.5 535.7L704.2 542.6L705.8 542.4L705.2 535.5L704.6 528.7ZM1014.6 365.8L1023.4 370.1L1032.1 374.5L1032.9 373L1024.1 368.6L1015.4 364.2ZM880.1 438.3L886 437.7L896.3 436.5L906.7 435.3L912.6 434.6L912.4 432.9L906.5 433.6L896.2 434.8L885.8 436L879.9 436.7ZM880.1 493.3L890.1 492.1L900.1 490.8L899.9 489.2L889.9 490.4L879.9 491.7ZM1013.4 365.8L1022.7 370.8L1032.1 375.8L1032.9 374.2L1023.5 369.2L1014.1 364.2ZM875.1 310.8L880.3 310.4L887.8 309.8L897.1 308.8L909.2 307.2L921 305.2L928.3 303.9L936.4 302.4L945 300.7L954 298.9L962.9 297L971.7 295.1L980 293.3L987.5 291.7L998.3 289.5L1007.9 287.6L1016.7 285.9L1025.3 284.4L1034.1 282.9L1043.4 281.6L1052.6 280.4L1062 279.3L1071.4 278.5L1080.9 277.8L1089.1 277.5L1097.3 277.3L1105.5 277.3L1113.5 277.5L1121.4 277.9L1128.8 278.5L1139.2 279.6L1148.6 281L1157.8 282.5L1167.1 284.2L1176.7 286.6L1186.5 289.7L1194.5 292.6L1199.7 294.5L1200.3 293L1195.1 291L1187.1 288L1177.2 284.8L1167.5 282.2L1158.2 280.3L1149 278.7L1139.5 277.2L1129.1 275.9L1121.5 275.2L1113.6 274.7L1105.5 274.4L1097.3 274.3L1089 274.4L1080.8 274.7L1071.2 275.2L1061.6 276L1052.2 277L1043 278.2L1033.6 279.5L1024.7 281L1016.1 282.6L1007.2 284.3L997.7 286.4L986.8 288.7L979.3 290.4L971 292.3L962.3 294.3L953.5 296.4L944.5 298.4L936 300.2L927.9 301.8L920.6 303.2L908.9 305.3L896.9 307L887.6 308L880.2 308.7L874.9 309.2ZM1027.2 282.3L1041.5 286.8L1039.5 273.6ZM972.8 318.3L977.7 316.5L985 313.9L994.2 310.7L1004.3 307.9L1013.6 305.9L1022 304.4L1030 303L1038.2 301.9L1046.5 301.2L1054.5 300.8L1064.1 300.7L1073.5 301.1L1082.7 302L1092 303.2L1101.1 304.9L1109.9 306.8L1119.5 309.1L1130.7 312.1L1137.2 313.9L1144.1 315.8L1151.5 317.9L1159.3 320.1L1167.5 322.4L1175.9 324.7L1184.2 327.1L1192.3 329.3L1200.2 331.5L1207.9 333.6L1215.6 335.8L1223.4 338L1231.1 340.2L1238.9 342.4L1246.6 344.7L1254.4 347L1262.1 349.4L1269.6 351.7L1277 354L1284.4 356.3L1291.8 358.6L1299.5 361L1307.5 363.3L1315.9 365.7L1324.3 367.9L1333.8 370.3L1343.8 372.8L1354.4 375.3L1364.6 377.7L1373.5 379.6L1381.1 381.3L1387.5 382.7L1392.2 383.7L1392.8 381.3L1388.1 380.2L1381.7 378.8L1374.1 377L1365.2 375L1355.1 372.6L1344.5 369.9L1334.5 367.4L1325.1 364.9L1316.8 362.6L1308.4 360.2L1300.5 357.8L1292.8 355.4L1285.5 353.1L1278 350.7L1270.6 348.3L1263.1 346L1255.5 343.6L1247.7 341.2L1239.9 338.9L1232.1 336.7L1224.3 334.5L1216.6 332.3L1208.9 330.1L1201.1 328L1193.3 325.8L1185.2 323.5L1176.9 321.2L1168.5 318.9L1160.3 316.6L1152.5 314.4L1145.1 312.3L1138.2 310.4L1131.6 308.6L1120.4 305.7L1110.7 303.4L1101.8 301.5L1092.5 299.9L1083 298.7L1073.7 298L1064.1 297.7L1054.4 297.9L1046.3 298.4L1037.9 299.2L1029.6 300.4L1021.5 301.9L1013.1 303.5L1003.8 305.7L993.6 308.7L984.3 312L977.1 314.8L972.2 316.7ZM1007.1 306L1020.9 309.5L1018.4 297.3ZM1261.9 316.5L1266.8 318.4L1274.4 321.5L1283.4 325.1L1292 328.6L1300.7 332.1L1309.7 335.8L1317.3 338.8L1322.2 340.8L1322.8 339.2L1318 337.1L1310.4 333.9L1301.5 330L1293 326.4L1284.4 322.7L1275.5 318.9L1267.9 315.6L1263.1 313.5ZM1256.4 312.5L1266.1 323.6L1271.1 311.5ZM1205.9 425L1205.6 416.9L1206.9 405.6L1211 395.7L1218.3 387.2L1224.7 382.3L1231.3 377.8L1238.5 374.3L1244.3 372.5L1251 371.3L1258.3 370.7L1266.3 370.8L1275.2 371.6L1284.8 373L1294.8 374.7L1304.7 376.8L1314.3 379.4L1324 382.4L1332 385.2L1337.2 387.1L1337.8 385.4L1332.7 383.4L1324.7 380.4L1315 377.1L1305.3 374.4L1295.3 372.1L1285.3 370.3L1275.5 368.8L1266.4 368L1258.3 367.8L1250.6 368.4L1243.6 369.7L1237.4 371.7L1229.9 375.4L1223.1 380.2L1216.4 385.4L1208.9 394.4L1204.7 405.1L1203.6 416.9L1204.1 425ZM1231.9 375.5L1246.4 376.5L1241.6 364.6ZM1175.5 419L1177.3 424.4L1179.9 433L1181.6 442.2L1182.3 451.6L1182.4 461.9L1182.1 472.5L1181.6 481L1180.6 490.2L1179.3 499.6L1177.6 509.3L1175.8 518.5L1173.2 528.8L1170.3 538.8L1167.8 546.8L1166.2 552.1L1168.8 552.9L1170.5 547.6L1173 539.6L1176.1 529.5L1178.7 519.1L1180.6 509.9L1182.2 500L1183.6 490.6L1184.5 481.2L1184.9 472.6L1185.1 461.9L1184.9 451.5L1184 441.9L1182 432.5L1179.1 423.8L1177 418.5ZM1183.7 448.4L1188.1 434.8L1175.8 436.6ZM1199.9 347.1L1206.2 347.7L1212.4 348.3L1212.6 346.7L1206.3 346L1200.1 345.4ZM679.2 632.6L679.8 637.8L680.7 645.7L682.2 655.3L684.1 664.7L686.2 673.8L688.6 683.2L691.1 692.9L693.9 702.8L697 712.8L700.2 722.7L703.6 732.4L707.2 741.8L710.3 749.3L713.6 756.6L717.2 763.9L721 771L725 777.8L729.5 784.8L734.4 791.7L739.6 798.3L744.8 804.3L749.7 809.5L755.7 815.9L762.1 821.8L768.2 826.8L773.5 830.7L784 837.9L789.3 841.1L790.7 838.9L785.6 835.5L775.3 828.2L770.1 824.3L764.3 819.4L758.1 813.5L752.1 807.2L747.3 802L742.2 796.1L737.1 789.6L732.3 782.9L727.9 776L723.9 769.3L720.2 762.3L716.7 755.2L713.4 747.9L710.4 740.6L706.7 731.2L703.3 721.6L700 711.9L696.9 701.9L694 692.1L691.4 682.5L688.9 673.1L686.6 664.1L684.6 654.9L682.9 645.4L681.7 637.5L680.8 632.4ZM706.3 735L705.1 749.8L717.4 744.9ZM734.5 840.8L741.2 844.8L752.2 850.9L762.6 855.5L774.7 859.3L782.3 860.2L782.7 857.3L775.4 856.5L763.5 853L753.3 848.7L742.2 843L735.5 839.2ZM789 859.5L776.7 851.6L775.2 864.4ZM649.2 665.3L651.2 670.3L654.5 678.2L658.1 686.7L661.7 694.5L666.6 705.3L671.3 714.7L674.2 720.4L675.8 719.6L672.8 713.9L668.2 704.6L663.2 693.8L659.7 686L656 677.5L652.8 669.6L650.8 664.7ZM639.4 723.1L644.6 728.4L653.1 736.9L661.9 745.6L670.6 754.4L679.1 762.9L684.4 768.1L685.6 766.9L680.4 761.6L671.9 753.1L663.1 744.4L654.4 735.6L645.9 727.1L640.6 721.9ZM664.2 607.6L664.8 615.1L665.4 622.6L667.1 622.4L666.5 614.9L665.8 607.4ZM604.2 689.7L601.2 697.1L597.2 707.3L594.2 714.7L595.8 715.3L598.8 707.9L602.8 697.7L605.8 690.3ZM606.7 729.7L604.8 735.3L602 744.1L599.1 755.1L597.2 765.4L596.2 774.9L595.4 784L595 793.2L594.9 802.5L595.4 811.7L596.3 821L597.8 830.4L599.7 840L602.2 849.7L605.2 859.6L608.6 869.3L612.4 878.8L615.7 886L619.1 893.2L622.9 900.3L627 907.5L631.4 914.8L636.3 922.3L641.8 930.3L647.4 938L653.1 945.5L658.6 952.8L666 961.7L673.7 970.4L679.7 976.9L683.8 981.2L686.2 978.8L682.2 974.6L676.2 968.1L668.6 959.5L661.3 950.7L655.8 943.5L650.2 936L644.6 928.3L639.1 920.4L634.3 913L629.9 905.8L625.9 898.7L622.2 891.6L618.7 884.6L615.6 877.4L611.8 868.1L608.4 858.5L605.4 848.8L603 839.2L601 829.8L599.6 820.6L598.5 811.5L598 802.4L597.9 793.2L598.2 784.2L598.8 775.2L599.7 765.7L601.3 755.6L604 744.7L606.6 735.9L608.3 730.3ZM660.1 795.3L651.4 794.2L639.7 796.1L632.4 801.1L627.6 807.5L624.7 814.9L620.9 822L617.5 832.8L616.9 845.4L618 857.2L619.1 865.1L620.9 864.9L619.8 857L618.7 845.3L619.3 833.1L622.6 822.7L626.3 815.7L629.2 808.4L633.6 802.4L640.3 797.8L651.5 796.1L659.9 797.2ZM662.3 839.2L654.6 840.7L645.5 845.8L640.4 852.9L635.3 860.1L633 870.1L632.9 877.5L634.6 877.5L634.6 870.3L636.9 860.8L641.8 853.9L646.6 847.1L655.2 842.3L662.7 840.8ZM687.2 842.1L694.3 844.4L704.3 848.5L715 853.3L722.1 857L722.9 855.5L715.8 851.8L705 847L694.9 842.8L687.8 840.4ZM792.4 880.4L787.4 880.8L780.1 881.4L771.1 882.1L761.3 882.7L751.6 882.8L743.3 882.8L732.6 882.9L721.3 882.5L711.2 881.7L703.1 880.9L697.6 880.4L697.4 882.1L702.9 882.8L711 883.7L721.2 884.7L732.6 885.3L743.3 885.1L751.6 885.2L761.4 885L771.3 884.3L780.3 883.4L787.6 882.6L792.6 882.1ZM736.9 884L749.7 890.1L749.7 877.7ZM874.7 879.2L869.7 881.2L862.3 884.1L853.1 887.7L842.8 891.7L832.9 895.6L824.2 899.1L815.1 902.8L806.3 906.5L798.4 910.1L790.5 913.6L783.4 917L771.8 924.5L763.7 931.8L759.1 936.7L760.9 938.3L765.5 933.7L773.4 926.5L784.7 919.3L791.5 915.8L799.4 912.3L807.3 908.7L816 904.9L825.1 901.1L833.6 897.6L843.6 893.6L853.9 889.5L863 885.8L870.3 882.8L875.3 880.8ZM778.5 921.4L792.8 920.3L786.4 909.5ZM614.1 877.7L615.5 882.8L617.5 890.3L620.1 899.6L623.3 909.9L627 919.6L630 927.5L633.7 937L638 946.5L642.5 954.8L646.2 961.3L648.7 965.8L651.3 964.2L648.7 959.8L644.9 953.4L640.4 945.3L636 936L632.3 926.6L629.2 918.8L625.4 909.2L622.1 899L619.4 889.7L617.4 882.3L615.9 877.3ZM894.5 904.2L888.2 908L878.2 914.9L869.8 923.4L864.2 932.1L859.8 939.9L855 948.1L851.9 956.1L849.8 965.7L848.7 974.4L848.1 979.8L851.9 980.2L852.5 974.8L853.4 966.2L855.2 957L857.9 949.4L862.4 941.3L866.6 933.5L871.8 925L879.7 916.6L889.4 909.7L895.5 905.8ZM1433.5 931.5L1430.4 935.7L1425.9 942.2L1419.6 950.2L1412.4 956.8L1406 961.1L1399.5 964.9L1394.1 968.3L1387.8 971.8L1379.7 976.3L1373.7 979.4L1367 983.1L1359.8 987.1L1352.2 991.5L1344.4 995.9L1336.7 1000.4L1329.3 1004.5L1320.9 1009.2L1312.3 1013.7L1303.7 1018.1L1295 1022.3L1286.6 1026.2L1278.2 1029.8L1270 1033.2L1261.7 1036.4L1253.5 1039.4L1245.3 1042.2L1237.1 1044.7L1228.9 1047.2L1220.6 1049.5L1212.3 1051.6L1204 1053.5L1195.7 1055.2L1187.5 1056.6L1179.3 1057.9L1171.2 1058.9L1163 1059.6L1155 1060.2L1146.8 1060.5L1138.7 1060.6L1130.4 1060.5L1122.2 1060.2L1114.1 1059.8L1105.8 1059.1L1097 1058.3L1087.7 1057.4L1077.6 1056.2L1070.2 1055.3L1062.2 1054.3L1053.8 1053.2L1045.2 1051.9L1036.5 1050.5L1027.9 1048.9L1020 1047.2L1012.7 1045.3L1006.1 1043.3L997.6 1040.2L990.1 1037L983.6 1033.7L977.7 1030.2L972.2 1026.5L967.2 1022.6L959.9 1015.8L953.3 1008.4L947.8 1000.5L943.6 992.7L939.7 982.4L937.8 972.8L937.5 964.3L938.5 957L940.3 950.3L943.5 943L947.2 936.8L952.1 930.1L958.3 923.1L965.5 916L971.9 910.4L979 904.7L986.6 899.1L994.5 893.8L1002.5 888.7L1010.4 883.9L1018.4 879.1L1026.7 874.2L1034.8 869.1L1042.9 863.6L1049.7 858.6L1056.6 853.2L1063.4 847.5L1070.2 841.7L1076.8 835.8L1083.2 830.1L1089.4 824.7L1095.4 819.3L1101.3 814L1107.2 808.6L1113.3 803L1119.5 797L1125 791.5L1130.7 785.6L1136.4 779.4L1141.9 773.1L1147.2 766.9L1152.2 760.7L1156.9 754.7L1162.7 746.9L1167.9 739.4L1172.9 732L1177.7 724.5L1182.6 716.5L1186.8 709.4L1191.1 701.9L1195.4 694.4L1199.7 686.9L1204 679.6L1208.1 672.5L1213 664.5L1217.9 656.8L1222.8 649.5L1227.8 642.4L1232.8 635.5L1239.6 626.8L1246.4 618.6L1253 611L1259.1 604.5L1266 597.5L1271.8 591.8L1277.6 586.5L1283 581.7L1288.3 577.3L1295.2 572L1300.8 568L1307.6 563.7L1315.3 559.6L1323.1 556L1330.6 553.2L1339.6 550.8L1348.4 549.2L1357.3 548.6L1366.3 549L1376 550.5L1386.1 553.3L1395.4 557.1L1402.4 560.9L1410.2 566.4L1416.1 571.7L1420.2 576.4L1424.4 582.2L1429.4 591.6L1432.1 598.1L1435 606.8L1438.1 617.6L1440.2 629.2L1441.7 639.2L1442.9 647.3L1443.8 652.7L1446.2 652.3L1445.6 646.9L1444.6 638.8L1443.4 628.7L1441.6 616.8L1438.8 605.7L1436.1 596.7L1433.5 589.7L1428.6 579.8L1424.3 573.3L1419.9 568L1413.7 562L1405.5 556L1397.9 551.8L1388.1 547.7L1377.3 544.6L1367 542.9L1357.2 542.5L1347.7 543.2L1338.2 544.8L1328.8 547.4L1320.8 550.4L1312.5 554.1L1304.6 558.5L1297.4 562.9L1291.5 567.1L1284.5 572.5L1279 577.1L1273.4 581.9L1267.6 587.3L1261.6 593.1L1254.6 600.1L1248.3 606.7L1241.5 614.4L1234.5 622.7L1227.6 631.5L1222.4 638.5L1217.3 645.7L1212.3 653.2L1207.3 660.9L1202.3 669L1198.1 676.1L1193.7 683.5L1189.4 690.9L1185.1 698.4L1180.8 705.8L1176.5 712.8L1171.7 720.7L1166.9 728.1L1162 735.3L1156.8 742.6L1151.1 750.3L1146.5 756.1L1141.6 762.2L1136.4 768.3L1130.9 774.5L1125.4 780.5L1119.8 786.4L1114.3 791.8L1108.2 797.7L1102.3 803.3L1096.4 808.6L1090.5 813.9L1084.5 819.2L1078.3 824.7L1072 830.3L1065.4 836.1L1058.7 842L1052 847.5L1045.3 852.8L1038.7 857.7L1030.9 863.1L1022.9 868.1L1014.8 873.1L1006.8 878L998.8 882.9L990.8 888.2L982.8 893.7L975.1 899.5L967.8 905.5L961.1 911.4L953.8 918.8L947.4 926.3L942.2 933.5L938.3 940.4L934.9 948.4L933 956L932.1 964.1L932.5 973.5L934.7 983.9L938.9 994.8L943.5 1003.2L949.4 1011.5L956.3 1019.3L964 1026.3L969.3 1030.5L975 1034.4L981.2 1038L988 1041.4L995.8 1044.7L1004.6 1047.9L1011.4 1050L1018.9 1051.9L1027 1053.7L1035.6 1055.3L1044.4 1056.8L1053.1 1058L1061.6 1059.2L1069.6 1060.2L1077 1061.1L1087.1 1062.2L1096.6 1063.2L1105.4 1064L1113.7 1064.6L1121.9 1065.1L1130.3 1065.4L1138.7 1065.5L1147 1065.4L1155.2 1065L1163.4 1064.5L1171.7 1063.7L1180 1062.7L1188.3 1061.5L1196.7 1060L1205.1 1058.2L1213.4 1056.3L1221.8 1054.2L1230.2 1051.9L1238.5 1049.4L1246.8 1046.8L1255.1 1044L1263.4 1041L1271.8 1037.8L1280.1 1034.3L1288.6 1030.6L1297.1 1026.7L1305.8 1022.5L1314.6 1018L1323.2 1013.5L1331.7 1008.8L1339.1 1004.6L1346.9 1000.2L1354.6 995.7L1362.2 991.3L1369.3 987.3L1376 983.7L1381.9 980.4L1390.1 975.9L1396.4 972.2L1401.9 968.7L1408.4 964.8L1415.1 960.1L1422.7 952.9L1429.1 944.6L1433.6 937.9L1436.5 933.5ZM1070.3 1057.8L1083.5 1066.7L1085.2 1052.3ZM1270 589.2L1286.2 585L1275.8 573.5ZM1320.3 526.2L1325.3 525.1L1332.8 523.3L1342.3 521.6L1351.9 521.5L1360.1 522.8L1367.3 524.9L1374.2 526.8L1381.1 529.4L1388 532.6L1394.7 536.4L1401.1 540.5L1407.5 545.3L1413.8 550.5L1420.2 556.2L1426.6 562.4L1433.2 569.2L1440.2 576.6L1447.2 583.9L1453.8 590.8L1459.5 596.6L1465.1 602.4L1469.8 607.5L1474 612.5L1478.1 618L1482.4 625.1L1486.7 633.9L1490.3 643.8L1493.2 654L1495.3 663.3L1496.8 672.3L1498 681.5L1498.9 691.4L1499.5 698.8L1499.9 706.6L1500.1 714.8L1500.2 723.1L1500.1 731.6L1499.8 739.9L1499.3 748.1L1498.6 756.3L1497.7 764.5L1496.7 772.7L1495.4 780.9L1494 789.1L1492.4 797.3L1490.6 805.5L1488.7 813.5L1486.6 821.6L1484.2 829.8L1481.5 838L1478.5 846.4L1475.2 855L1471.5 863.5L1467.5 872.2L1463.4 880.5L1459.3 888.2L1454.9 896.4L1449.9 905.2L1444.5 913.7L1439.6 921L1435.6 926.9L1432.9 931.1L1437.1 933.9L1439.9 929.8L1444 924L1448.9 916.6L1454.4 907.9L1459.6 899.1L1464.1 890.8L1468.4 883L1472.6 874.6L1476.7 865.9L1480.5 857.2L1483.9 848.5L1487 839.9L1489.8 831.5L1492.3 823.2L1494.5 815L1496.5 806.8L1498.3 798.5L1499.9 790.2L1501.4 781.9L1502.7 773.6L1503.8 765.3L1504.7 756.9L1505.4 748.6L1505.9 740.2L1506.2 731.7L1506.3 723.1L1506.2 714.7L1506 706.4L1505.6 698.4L1505 690.9L1504 680.8L1502.8 671.4L1501.2 662.2L1499.1 652.5L1496.1 641.9L1492.3 631.5L1487.8 622.2L1483.1 614.7L1478.8 608.7L1474.4 603.5L1469.5 598.3L1463.8 592.4L1458.2 586.6L1451.6 579.7L1444.6 572.4L1437.6 565L1430.8 558.1L1424.2 551.9L1417.6 546.1L1410.9 540.8L1404.2 536L1397.4 531.8L1390.3 528L1382.9 524.8L1375.6 522.3L1368.4 520.6L1360.9 518.7L1352.1 517.6L1341.9 518.1L1332.1 520.2L1324.6 522.4L1319.7 523.8ZM1218.3 560.5L1221.5 555.9L1226.3 548.9L1232.5 540L1239.5 530.7L1246 522.9L1251.4 516.8L1256.7 511.1L1262 505.8L1267.5 500.9L1273.1 496.3L1279 491.9L1285.1 487.8L1291.6 484L1298.3 480.6L1305.3 477.5L1314.3 474.2L1323.8 471.6L1333.3 469.8L1342.5 469L1351.5 469.1L1360.5 470L1369.8 471.7L1379.4 474.2L1387.6 476.9L1396 480.3L1404 484.3L1411.1 488.8L1417 493.4L1422.1 498.2L1426.6 503.5L1430.8 509.5L1434.6 516L1438.1 522.9L1442 532.2L1445.5 542.1L1448.4 552L1450.7 561.3L1452.8 571.3L1454.4 580.3L1456.4 591.2L1457.8 598.3L1459.4 606.3L1461.2 614.8L1463.1 623.7L1465 632.6L1466.6 641.1L1467.9 649.4L1469.1 657.6L1470.1 665.7L1470.8 673.8L1471.5 682L1471.9 690.2L1472.3 698.5L1472.5 706.7L1472.5 715L1472.5 723.3L1472.3 731.5L1471.9 739.8L1471.5 748.1L1470.8 756.3L1470.1 764.5L1469.1 772.8L1468 781L1466.7 789.2L1465.3 797.2L1463.6 805.3L1461.7 813.4L1459.5 821.4L1457.1 829.6L1454.4 837.9L1451 846.9L1447.2 856.4L1443.1 866.1L1439 874.9L1435.2 882.7L1431.9 889.2L1427.1 897.6L1423.7 903.3L1419.5 909.4L1414.4 915.6L1408.1 922L1401.4 927L1396 930.1L1388.2 933.4L1378.9 936.5L1373.1 938.3L1366.1 940.6L1358.2 943.3L1349.5 946.6L1341.6 949.5L1332.7 952.8L1323 956L1313.2 959L1303.3 961.9L1294.8 964.1L1286.1 966.5L1277.4 969L1269.3 971.8L1261.9 974.8L1255.5 977.8L1247.9 982L1241.1 986L1234.5 990L1227 994L1220.9 996.9L1213.7 999.7L1205.6 1002.1L1196.9 1004.1L1187.9 1005.7L1179.3 1006.9L1171 1007.8L1162.7 1008.5L1154.5 1009L1146.4 1009.3L1138.3 1009.4L1130.1 1009.3L1122 1009L1113.9 1008.5L1105.8 1007.8L1097.7 1006.8L1089.8 1005.5L1081.6 1003.9L1073.2 1001.9L1064.4 999.4L1055.7 996.6L1047.4 993.5L1039.5 990.2L1032.4 986.8L1022.9 981.5L1014.9 976.2L1008.6 971L1002.9 966.5L996.7 959.5L993.3 952.3L992.6 941L993.9 932.8L991.1 932.2L989.3 940.8L989.4 953.1L993.1 961.9L999.8 969.8L1005.7 974.6L1012.1 980L1020.4 985.6L1030.2 991.1L1037.5 994.6L1045.6 998L1054.1 1001.2L1063 1004.1L1071.9 1006.6L1080.6 1008.7L1088.9 1010.3L1097.1 1011.6L1105.3 1012.6L1113.5 1013.4L1121.7 1013.9L1130 1014.2L1138.3 1014.3L1146.5 1014.2L1154.8 1013.9L1163.1 1013.4L1171.4 1012.7L1179.9 1011.8L1188.7 1010.6L1197.9 1008.9L1206.9 1006.9L1215.3 1004.3L1222.8 1001.5L1229.3 998.5L1236.9 994.4L1243.7 990.4L1250.4 986.4L1257.9 982.3L1263.9 979.4L1271 976.5L1279 973.9L1287.5 971.4L1296.2 969.1L1304.6 966.8L1314.7 963.9L1324.6 960.9L1334.4 957.6L1343.4 954.4L1351.3 951.4L1360 948.1L1367.8 945.4L1374.7 943.2L1380.5 941.4L1390 938.2L1398.3 934.7L1404.3 931.3L1411.5 925.9L1418.2 919.1L1423.6 912.4L1428 906.1L1431.6 900.2L1436.4 891.6L1439.8 885L1443.6 877.1L1447.8 868.2L1452 858.4L1455.8 848.7L1459.2 839.6L1462 831.1L1464.5 822.8L1466.7 814.6L1468.6 806.4L1470.3 798.2L1471.8 790L1473.1 781.7L1474.2 773.4L1475.2 765.1L1475.9 756.7L1476.6 748.4L1477 740L1477.4 731.7L1477.6 723.4L1477.6 715L1477.6 706.6L1477.4 698.3L1477 690L1476.6 681.7L1475.9 673.4L1475.2 665.2L1474.2 656.9L1473 648.6L1471.6 640.2L1470 631.6L1468.1 622.6L1466.2 613.7L1464.4 605.2L1462.8 597.3L1461.5 590.3L1459.5 579.3L1457.9 570.3L1455.9 560.2L1453.6 550.6L1450.7 540.4L1447.1 530.2L1443.1 520.6L1439.6 513.4L1435.6 506.5L1431.1 500.1L1426.3 494.2L1420.8 489L1414.4 484L1406.9 479.2L1398.4 474.9L1389.6 471.3L1381.1 468.4L1371.2 465.8L1361.4 463.9L1351.9 463L1342.2 462.9L1332.4 463.8L1322.4 465.7L1312.5 468.5L1303 472L1295.8 475.3L1288.7 478.9L1282 483L1275.7 487.3L1269.7 492L1263.9 496.9L1258.4 502.2L1253.1 507.8L1248 513.8L1242.7 520.2L1236.4 528.4L1229.7 538.1L1223.9 547.4L1219.5 554.6L1216.7 559.5ZM1425.8 905.2L1411.3 912.3L1423.1 921ZM1310.8 962.4L1295.1 959.1L1299 973.3ZM1260.9 653.3L1265.2 648.9L1272.5 642.1L1282.7 634.7L1289 630.9L1296.2 627.1L1303.5 623.5L1310.9 620L1318.3 617L1327.6 613.8L1336.9 611.3L1346.2 609.7L1355.1 609L1364.2 609.2L1373.4 610.5L1382.2 612.7L1390.6 615.7L1398.3 619.3L1406.1 623.3L1413.6 627.8L1419.9 632.6L1428.1 640L1434.3 647L1438.1 651.5L1441.9 648.5L1438.3 643.7L1432 636.1L1423.7 628.2L1416.8 623L1409 618.2L1401 613.9L1392.9 610.1L1384 606.9L1374.5 604.5L1364.7 603.2L1355 602.9L1345.4 603.7L1335.6 605.4L1325.8 608.1L1316.2 611.6L1308.6 614.9L1301.1 618.6L1293.8 622.5L1286.4 626.6L1279.9 630.9L1269.9 639.1L1262.9 646.7L1259.1 651.7ZM1131.2 910.2L1132.5 903.7L1137.7 889.7L1140.5 883.9L1144.2 876.9L1148.7 869L1153.1 861.4L1157.5 854L1162 846.6L1166.9 839.1L1171.9 831.4L1177 823.8L1182.2 816.1L1187.2 808.6L1192.2 801.2L1197.2 793.6L1202.2 785.8L1207.2 778L1211.3 771.3L1215.5 764.5L1219.7 757.6L1223.8 750.7L1228 743.8L1232.2 737L1237.3 729L1242.5 721L1247.6 713.2L1252.7 705.8L1257.7 698.7L1262.4 692.2L1267.1 686.2L1271.7 680.5L1276.7 674.8L1282.2 669.1L1288.5 663.1L1295.7 657.1L1303.4 651.3L1311.3 646.2L1318.9 642L1328.3 637.7L1337.5 634.6L1346.3 632.8L1354.8 632.2L1363.4 632.9L1372.3 635.1L1380.8 638.8L1388.3 643.6L1395 649.6L1401.4 657L1406.9 665.3L1411.2 673.3L1414.4 680.8L1416.9 687.9L1419 695.3L1420.7 703L1422 711.7L1423 720.9L1423.5 730.5L1423.5 740.5L1423.2 748.8L1422.4 757.3L1421.3 765.8L1419.8 774.1L1418.1 781.8L1416 789.1L1413.7 796.1L1411 803L1407.9 809.9L1404.5 816.7L1399.7 825.1L1394.3 833.6L1388.4 842.1L1382.1 850.4L1376.6 857.2L1370.9 863.7L1365 870L1358.9 876L1352.7 881.6L1344.8 887.9L1336.6 893.5L1328.2 898.4L1319.6 902.4L1312.4 905.2L1304.7 907.6L1296.8 909.7L1288.6 911.8L1280.6 913.8L1270.6 916.3L1260.7 918.9L1251 921.4L1241.3 923.6L1231.9 925.3L1222.6 926.5L1213.6 927.5L1204.8 928L1195.6 927.7L1186 926.3L1178 924.7L1172.8 923.6L1172.2 926.4L1177.3 927.8L1185.3 929.8L1195.2 931.5L1204.8 932L1213.9 931.7L1223.1 930.8L1232.5 929.7L1242.2 928.1L1252.1 926L1261.9 923.6L1271.9 921L1281.7 918.5L1289.8 916.6L1298 914.6L1306.1 912.4L1314.1 910L1321.7 907.1L1330.6 902.9L1339.4 897.9L1347.9 892.1L1356.1 885.6L1362.5 879.8L1368.8 873.7L1374.8 867.3L1380.7 860.6L1386.3 853.7L1392.7 845.2L1398.7 836.6L1404.3 827.9L1409.2 819.2L1412.8 812.2L1415.9 805.1L1418.7 798L1421.1 790.7L1423.3 783.1L1425.1 775.2L1426.6 766.6L1427.8 757.8L1428.5 749.1L1428.9 740.6L1428.8 730.3L1428.3 720.5L1427.3 711.1L1425.9 702.1L1424.2 694L1422 686.3L1419.4 678.8L1416 671L1411.5 662.5L1405.6 653.7L1398.8 645.8L1391.5 639.3L1383.3 634.1L1374 630.1L1364.3 627.7L1354.8 627L1345.6 627.6L1336.1 629.6L1326.4 632.8L1316.6 637.3L1308.6 641.8L1300.5 647.1L1292.5 653.1L1285.1 659.3L1278.6 665.4L1272.9 671.3L1267.8 677.1L1263.1 683L1258.3 689.1L1253.5 695.7L1248.5 702.9L1243.4 710.4L1238.2 718.2L1233 726.2L1227.9 734.3L1223.7 741.1L1219.5 748L1215.3 755L1211.1 761.8L1206.9 768.7L1202.9 775.3L1197.9 783.1L1192.9 790.9L1188 798.5L1183.1 805.9L1178.1 813.4L1173 821.1L1167.9 828.8L1163 836.6L1158.2 844.2L1153.7 851.8L1149.4 859.3L1145.1 867L1140.7 875L1137.1 882.2L1134.3 888.4L1129.7 902.8L1128.8 909.8ZM1384.1 637.1L1391.1 651.8L1400.1 639.9ZM1235.7 879L1230.7 875.3L1225.2 868.8L1221.4 859L1220.7 851.1L1220.9 847.2L1221.8 840.1L1222.4 833.5L1223.9 824.4L1226.3 813.7L1229.2 803.4L1231.8 795.8L1234.7 788.5L1237.9 781.4L1241.4 774.3L1245.3 767L1249.7 759.5L1254.6 751.5L1259.8 743.5L1265 735.8L1270.2 728.5L1275.1 721.8L1280.1 715.4L1285 709.4L1290.1 703.7L1295.5 698.1L1301.5 692.6L1308 687.2L1314.7 682.6L1321.1 678.9L1326.9 676.3L1335 673.8L1341.9 672.8L1348.8 672.9L1356.1 674.2L1363.4 676.8L1370.5 680.9L1375.7 685.1L1380.9 690.5L1385.4 697L1389.3 704.1L1392.5 712.1L1395 721.1L1396.6 730.6L1397.1 739.9L1396.7 749L1395.4 758.2L1393.2 767.2L1390.2 775.9L1386.6 784.1L1382.2 792.1L1377.1 800.1L1371.2 807.8L1365.9 814.1L1359.9 820.3L1353.4 826.3L1346.8 831.8L1340 836.9L1333 841.6L1326.1 845.8L1319.1 849.6L1312 853.3L1304.8 856.7L1294.7 860.7L1283.8 864L1275.3 865.9L1269.7 867.2L1270.3 870.3L1276 869.2L1284.7 867.5L1295.9 864.4L1306.3 860.5L1313.8 857.1L1321.1 853.4L1328.3 849.6L1335.4 845.4L1342.7 840.7L1349.7 835.5L1356.5 829.8L1363.2 823.7L1369.4 817.3L1375 810.9L1381 802.9L1386.4 794.6L1391 786.3L1394.8 777.7L1397.9 768.6L1400.2 759.2L1401.6 749.5L1402 739.9L1401.4 730.1L1399.8 720L1397.1 710.5L1393.7 702L1389.6 694.4L1384.6 687.4L1379.1 681.5L1373.2 676.9L1365.4 672.4L1357.3 669.5L1349.3 668.1L1341.6 668L1333.9 669.1L1325.3 671.7L1318.9 674.5L1312.1 678.4L1305 683.3L1298.3 688.9L1292.1 694.6L1286.5 700.3L1281.3 706.2L1276.2 712.4L1271.2 718.8L1266.2 725.6L1261 733L1255.7 740.8L1250.5 748.9L1245.5 756.9L1241.1 764.6L1237.1 772L1233.5 779.3L1230.2 786.6L1227.3 794.2L1224.6 802L1221.6 812.5L1219.2 823.5L1217.8 832.9L1217.3 839.7L1216.5 846.8L1216.4 851.3L1217.5 860.1L1222.2 870.7L1228.7 877.5L1234.3 881ZM1342 669.8L1355.4 678.4L1356.8 664ZM1351.5 745.1L1352.6 752.9L1351.2 765.4L1348.5 772.1L1344.3 778.6L1338.6 784.5L1332.5 790.1L1325.4 795.4L1317.9 800.8L1308.9 805.2L1299.3 807.6L1292.3 807.8L1285.9 805.4L1283.2 802L1281.8 803L1285 806.8L1292 809.5L1299.5 809.4L1309.5 807L1318.8 802.5L1326.6 797L1333.8 791.7L1340.1 786L1346 779.9L1350.4 773.1L1353.3 765.9L1354.7 752.9L1353.5 744.9ZM1299.5 933.9L1294.3 935.8L1286.3 938.8L1276.4 942.3L1266.9 945.3L1257.6 947.8L1248.3 950.3L1238.8 952.7L1228.3 955L1220.8 956.5L1213 957.9L1204.8 959.1L1196.4 960.1L1188.1 960.8L1179.7 961.2L1171.4 961.2L1162.9 960.9L1154.3 960.2L1146 959.1L1138.2 957.7L1130.9 956.1L1122.9 953.8L1115.4 951L1108.7 947.9L1102.8 944.6L1097.6 941.3L1089 935.3L1081.8 928.1L1077.5 921.5L1074.1 911.4L1073.7 905L1071.3 905L1071.3 911.9L1074.4 922.8L1079 930.3L1086.4 938.3L1095.3 944.6L1100.6 948.2L1106.7 951.7L1113.7 955L1121.5 958L1129.8 960.5L1137.3 962.2L1145.3 963.7L1153.8 964.8L1162.6 965.5L1171.3 965.8L1179.9 965.8L1188.4 965.4L1196.9 964.6L1205.4 963.6L1213.7 962.3L1221.7 960.8L1229.2 959.2L1239.8 956.7L1249.3 954.2L1258.6 951.6L1268 948.8L1277.6 945.6L1287.4 941.7L1295.3 938.4L1300.5 936.1ZM1186.8 963.3L1172.6 956.5L1173 970.8ZM1049.1 894.2L1045 898.7L1038.8 906.5L1035 915.3L1033.6 923.2L1034.4 931.1L1036.3 938L1039.7 947.6L1045.4 956.5L1052.1 963.3L1060 968.8L1068.5 973.8L1079.5 978L1090.4 980.6L1102.5 981.9L1109.9 982.5L1110.1 980L1102.8 979.1L1091 977.4L1080.6 974.6L1070.2 970.3L1062.2 965.4L1054.8 960.1L1048.7 953.9L1043.4 945.8L1040.1 936.7L1038.2 930.3L1037.3 923.3L1038.4 916.3L1041.6 908.2L1047.2 900.4L1050.9 895.8ZM1051.3 960.6L1048.2 945.5L1037.3 954.1ZM606.4 970.6L608.6 975L611.6 981.2L615.2 988.6L619.5 997.2L624.5 1006.9L629.8 1016.6L634.8 1025.6L639.6 1033.8L644.2 1041.4L648.8 1048.8L653.5 1056L658.4 1063.2L663.5 1070.4L668.6 1077.4L673.8 1084.3L679.1 1091.2L684.4 1097.8L689.9 1104.4L695.4 1110.8L701 1117.1L706.6 1123.3L712.4 1129.4L718.2 1135.4L724.1 1141.3L730 1147L735.9 1152.5L741.8 1157.9L747.9 1163.1L754.1 1168.2L760.4 1173.3L766.9 1178.3L773.7 1183.2L780.7 1188.1L787.9 1192.8L795.4 1197.4L803.1 1201.9L811.3 1206.3L819.8 1210.7L828.7 1214.8L837.7 1218.7L844.7 1221.5L852 1224.2L859.8 1226.9L867.9 1229.5L876.2 1232.1L884.6 1234.5L892.7 1236.7L900.5 1238.8L908 1240.7L915 1242.4L921.6 1244L932.5 1246.4L942 1248.4L950.6 1250.2L958.5 1251.9L966.4 1253.6L974.8 1255.4L982.4 1257.2L990.3 1259L998.3 1260.9L1006.4 1262.7L1014.4 1264.3L1022.2 1265.6L1029.8 1266.6L1038.4 1267.4L1046.9 1267.9L1055.2 1267.9L1063.5 1267.7L1071.7 1267.3L1080 1266.6L1088.3 1265.8L1096.7 1264.8L1105.1 1263.6L1113.4 1262.3L1121.8 1260.8L1130.1 1259.2L1138.5 1257.5L1146.8 1255.6L1155.1 1253.6L1163.4 1251.4L1171.7 1249.1L1180.1 1246.5L1188.6 1243.7L1197.1 1240.6L1205.6 1237.3L1214.2 1233.8L1222.8 1229.9L1231.2 1225.9L1238.3 1222.3L1245.4 1218.5L1252.5 1214.4L1259.6 1210.2L1266.8 1205.7L1274 1200.9L1281.2 1196L1287.5 1191.6L1293.7 1187L1299.8 1182.3L1306 1177.5L1312.2 1172.5L1318.5 1167.4L1324.7 1162.2L1331 1156.9L1337.4 1151.4L1343.9 1145.7L1350.5 1139.9L1357 1134.1L1363.5 1128.2L1369.8 1122.5L1375.9 1116.8L1381.7 1111.4L1388.1 1105.4L1394.2 1099.6L1400.1 1094L1405.8 1088.4L1411.4 1082.9L1417 1077.3L1422.7 1071.5L1428.3 1065.6L1434 1059.6L1439.6 1053.6L1445.2 1047.6L1450.7 1041.5L1456.2 1035.4L1461.7 1029.3L1467.3 1023L1473.1 1016.5L1478.7 1010.1L1483.9 1004L1489 998.1L1493.8 992.5L1497.9 987.3L1507 974.7L1511.9 966.4L1514.7 961.1L1510.3 958.9L1507.6 964L1503 972L1494 984.4L1490 989.4L1485.3 994.9L1480.2 1000.8L1475 1006.9L1469.5 1013.3L1463.7 1019.8L1458.1 1026L1452.6 1032.1L1447.1 1038.2L1441.6 1044.3L1436 1050.3L1430.4 1056.3L1424.8 1062.3L1419.2 1068.1L1413.6 1073.9L1408 1079.5L1402.5 1085L1396.8 1090.6L1390.9 1096.2L1384.9 1102L1378.5 1108L1372.7 1113.4L1366.6 1119L1360.4 1124.8L1353.9 1130.6L1347.4 1136.5L1340.8 1142.3L1334.4 1147.9L1328 1153.4L1321.8 1158.7L1315.5 1163.9L1309.4 1169L1303.2 1174L1297.1 1178.8L1291 1183.5L1284.8 1188L1278.7 1192.4L1271.6 1197.3L1264.4 1202L1257.3 1206.4L1250.3 1210.7L1243.3 1214.6L1236.3 1218.4L1229.3 1222L1220.9 1226L1212.5 1229.7L1204 1233.3L1195.5 1236.5L1187.1 1239.5L1178.8 1242.3L1170.5 1244.9L1162.3 1247.2L1154 1249.4L1145.8 1251.4L1137.6 1253.2L1129.3 1254.9L1121 1256.5L1112.7 1257.9L1104.4 1259.2L1096.1 1260.4L1087.8 1261.4L1079.6 1262.3L1071.4 1262.9L1063.3 1263.4L1055.2 1263.6L1047 1263.5L1038.7 1263L1030.3 1262.3L1022.9 1261.3L1015.2 1259.9L1007.3 1258.4L999.3 1256.6L991.3 1254.7L983.4 1252.9L975.7 1251.2L967.3 1249.3L959.4 1247.7L951.4 1246L942.9 1244.3L933.3 1242.3L922.5 1239.9L916 1238.4L909 1236.7L901.6 1234.8L893.8 1232.7L885.7 1230.5L877.4 1228.1L869.1 1225.6L861.1 1223L853.4 1220.3L846.2 1217.6L839.3 1214.9L830.4 1211L821.6 1206.9L813.2 1202.7L805.2 1198.3L797.5 1193.8L790.2 1189.3L783.1 1184.6L776.1 1179.8L769.4 1175L762.9 1170L756.7 1165L750.6 1159.9L744.6 1154.8L738.7 1149.5L732.8 1144L727 1138.3L721.1 1132.5L715.3 1126.6L709.6 1120.6L704 1114.4L698.4 1108.2L692.9 1101.8L687.5 1095.3L682.1 1088.7L676.8 1082L671.6 1075.1L666.5 1068.2L661.4 1061.1L656.5 1054L651.7 1046.9L647.1 1039.6L642.5 1032.1L637.7 1024L632.6 1015.1L627.2 1005.5L622.1 995.8L617.7 987.3L614 980L610.9 973.9L608.6 969.4ZM928.8 1243.5L916.9 1233.6L913.8 1247.2ZM653.4 970.8L655.8 975.6L659.4 982.7L664.1 991.5L669.1 1000L673.7 1007.4L679.8 1017L686.6 1026.6L692.4 1033.9L696.1 1038.6L698.9 1036.4L695.2 1031.7L689.6 1024.4L682.8 1015L676.8 1005.4L672.2 998.1L667.3 989.7L662.7 981L659.1 973.9L656.6 969.2ZM683.4 970.9L686 975.4L689.8 982.1L694.5 990.5L700.2 999.9L705.9 1008.9L710.8 1016.2L715.9 1023.5L720.7 1030.3L725.7 1037L730.8 1043.4L736.2 1050L742.1 1056.8L748.5 1063.8L755.2 1071.1L762 1078L768.7 1084.8L776.6 1092.6L785.3 1100.9L793.5 1108.4L800 1114.2L804.4 1118.1L805.6 1116.9L801.3 1112.9L794.8 1106.9L786.8 1099.4L778.2 1091L770.5 1083.1L763.8 1076.2L757.2 1069.2L750.6 1061.9L744.4 1054.8L738.7 1048L733.3 1041.3L728.4 1034.9L723.5 1028.3L718.7 1021.6L713.8 1014.2L708.9 1006.9L703.3 998L697.7 988.6L692.9 980.3L689.2 973.6L686.6 969.1ZM716 1020.8L714.1 1005.9L703 1013.3ZM713.9 980.6L716.3 985.2L719.7 992L724.2 1000.4L729.5 1009.9L735.2 1018.8L740.3 1026.1L745.7 1033.5L751 1040.3L756.5 1046.8L761.8 1052.7L767 1058L772.9 1063.9L778.5 1069.3L784.3 1074.9L790.9 1081.3L796.9 1087.4L803.5 1094.2L810.5 1101.5L817.5 1109L824.7 1116.4L830.6 1122.4L836.6 1128.4L842.8 1134.2L849.1 1139.9L855.4 1145.2L861.6 1150.3L869.4 1156.2L877.2 1161.7L884.7 1166.8L892.1 1171.7L899.2 1176.1L908.4 1181.3L917.4 1185.9L924.6 1189.3L929.3 1191.4L930.7 1188.6L926 1186.3L919 1182.9L910 1178.2L901.1 1173L894 1168.6L886.7 1163.8L879.3 1158.8L871.6 1153.3L863.9 1147.4L857.7 1142.4L851.5 1137.1L845.3 1131.5L839.2 1125.7L833.1 1119.8L827.3 1113.9L820.2 1106.5L813.1 1099L806.1 1091.6L799.5 1084.8L793.5 1078.7L786.9 1072.3L781.1 1066.7L775.5 1061.3L769.6 1055.4L764.5 1050.2L759.2 1044.4L753.8 1038.1L748.5 1031.3L743.2 1024.1L738 1016.9L732.2 1008.2L726.8 999L722.2 990.6L718.6 984L716.1 979.4ZM797 1084.8L792.1 1070.5L782.6 1080.1ZM800.5 1053L803.5 1057.5L808.2 1064.6L814.1 1073L819.7 1080.5L825.1 1087.9L830.9 1095.3L836 1101.6L839.3 1105.6L840.7 1104.4L837.4 1100.4L832.4 1094.2L826.6 1086.8L821.2 1079.4L815.6 1071.9L809.8 1063.6L805 1056.5L802 1052ZM802.3 970.2L803 975.3L804.2 983.1L806.3 993L809.1 1002.9L811.6 1010.6L814.7 1018.7L817.7 1026.9L821.2 1035.6L825 1044.4L828.4 1051.9L832.1 1059.6L836 1067.4L840 1075.2L844.1 1082.8L848.2 1090.2L853.2 1098.7L858.2 1107.1L863.4 1115.3L868.7 1123.1L874.2 1130.9L880 1138.6L886.2 1146L892.6 1153.1L899.1 1159.7L905.6 1165.7L912.1 1171L918.7 1175.9L925.4 1180.2L932.3 1184.2L939.3 1187.8L948 1191.7L956.8 1195L965.8 1197.7L975.2 1199.9L983.3 1201.3L991.5 1202.2L1000.1 1202.8L1008.6 1203.1L1016.8 1203.2L1026.5 1203.1L1036 1202.9L1045.4 1202.5L1054.8 1201.9L1064.4 1201.3L1073.9 1200.6L1083.3 1199.9L1092.6 1199.3L1102 1198.6L1111.3 1197.9L1120.7 1196.9L1130.3 1195.6L1140.1 1193.9L1150.1 1191.6L1159.9 1189L1169.5 1186L1176.9 1183.5L1184.1 1180.8L1191.3 1177.9L1198.3 1174.9L1205.5 1171.7L1212.9 1168.2L1220.3 1164.4L1227.8 1160.4L1235.4 1156.2L1243 1151.8L1250.8 1147L1258.6 1142.1L1266.5 1136.8L1274.2 1131.5L1281.8 1126L1288.1 1121.3L1294.2 1116.6L1300.3 1111.9L1306.5 1107L1312.6 1102L1318.8 1096.8L1325 1091.6L1331.3 1086.3L1337.6 1080.9L1343.9 1075.4L1350.2 1069.9L1356.5 1064.5L1362.8 1058.9L1369.3 1053.3L1375.8 1047.8L1382.1 1042.4L1388.3 1037.2L1394.1 1032.3L1402.1 1025.6L1409.2 1019.3L1415.6 1013.3L1421.5 1007.4L1426.7 1001.7L1431.2 996.4L1436 990.4L1441.7 982.8L1446.5 976.3L1451.9 968.9L1457.8 960.5L1463.9 951.9L1469.7 943.4L1475 935.4L1479.6 928L1484 920.9L1488.1 913.8L1492 906.8L1495.8 899.6L1499.8 891.9L1503.9 883.7L1508 875.2L1512 866.4L1515.8 857.6L1519.3 848.8L1522.4 840.1L1525.2 831.7L1527.7 823.3L1529.9 815.1L1531.9 806.8L1533.6 798.5L1535.2 790.2L1536.5 781.8L1537.6 773.5L1538.5 765.1L1539.3 756.8L1539.8 748.4L1540.1 740L1540.2 731.7L1540 723.3L1539.7 714.9L1539.2 706.6L1538.4 698.2L1537.4 689.9L1536.3 681.6L1534.9 673.5L1533.4 665.3L1531.6 656.9L1529.7 648.7L1527.7 640.5L1525.3 631.3L1522.4 620.7L1519.3 610.1L1516.5 601.2L1514.1 594.1L1512.6 589.2L1507.4 590.8L1508.9 595.8L1511.1 602.9L1513.8 611.8L1516.8 622.2L1519.5 632.8L1521.8 641.9L1523.7 650.1L1525.5 658.3L1527.2 666.5L1528.6 674.6L1529.9 682.6L1530.9 690.7L1531.8 698.9L1532.5 707.1L1533 715.3L1533.3 723.5L1533.4 731.7L1533.3 739.9L1533 748.1L1532.5 756.3L1531.7 764.5L1530.8 772.7L1529.7 780.9L1528.4 789L1526.9 797.2L1525.2 805.4L1523.3 813.5L1521.2 821.5L1518.7 829.6L1516 837.9L1512.9 846.4L1509.5 855L1505.8 863.7L1501.9 872.4L1498 880.8L1494 889L1490.1 896.6L1486.3 903.8L1482.5 910.7L1478.6 917.7L1474.4 924.8L1469.8 932.1L1464.6 940.1L1459 948.6L1453 957.2L1447.2 965.5L1441.9 973.1L1437.3 979.5L1431.7 987.1L1427.1 993.1L1422.8 998.3L1417.8 1003.9L1412.1 1009.7L1405.9 1015.6L1398.8 1021.9L1390.9 1028.6L1385.1 1033.5L1379 1038.7L1372.6 1044.1L1366.1 1049.6L1359.6 1055.2L1353.3 1060.8L1347 1066.2L1340.7 1071.7L1334.4 1077.2L1328.1 1082.6L1321.8 1087.9L1315.6 1093.1L1309.5 1098.2L1303.4 1103.2L1297.3 1108L1291.3 1112.8L1285.2 1117.4L1279 1122L1271.4 1127.5L1263.7 1132.8L1255.9 1138L1248.2 1142.9L1240.5 1147.6L1233 1152L1225.5 1156.2L1218 1160.1L1210.7 1163.8L1203.5 1167.2L1196.3 1170.5L1189.4 1173.4L1182.3 1176.2L1175.2 1178.9L1167.9 1181.4L1158.6 1184.3L1148.9 1186.9L1139.2 1189.1L1129.6 1190.8L1120.1 1192.1L1110.8 1193L1101.6 1193.7L1092.3 1194.4L1082.9 1195.1L1073.5 1195.8L1064 1196.5L1054.5 1197.1L1045.1 1197.7L1035.8 1198.1L1026.4 1198.4L1016.8 1198.6L1008.7 1198.6L1000.3 1198.3L991.9 1197.7L983.9 1196.8L976.1 1195.5L967 1193.4L958.2 1190.8L949.6 1187.7L941.1 1183.9L934.3 1180.4L927.6 1176.6L921.2 1172.4L914.7 1167.7L908.3 1162.5L902 1156.7L895.6 1150.3L889.3 1143.3L883.3 1136L877.6 1128.5L872.1 1120.8L866.9 1113L861.7 1104.9L856.7 1096.6L851.8 1088.2L847.7 1080.8L843.7 1073.2L839.7 1065.5L835.8 1057.8L832.1 1050.1L828.7 1042.8L824.8 1034L821.3 1025.5L818.2 1017.4L815.1 1009.3L812.5 1001.9L809.6 992.1L807.4 982.5L806.1 974.8L805.2 969.8ZM829.6 1049.9L830.4 1034.5L817.7 1040.1ZM1137 1192.1L1121.8 1187.1L1124.1 1201.4ZM1526.5 648.4L1530.5 632.1L1515.4 635.9ZM848.6 970.4L849.9 975.5L851.7 983.1L854.4 992.5L858 1003.2L861.9 1013.2L865.2 1021.2L868.8 1029.5L872.9 1038.2L877.4 1047.2L882.1 1055.9L886.9 1064.3L891.1 1071.3L895.3 1078.1L899.7 1084.7L904.2 1091.4L908.9 1097.9L913.9 1104.4L919 1110.8L924.5 1117.2L930.3 1123.6L936.3 1129.8L942.3 1135.7L948.3 1140.9L954.1 1145.5L959.5 1149.4L967.8 1154.7L975.6 1158.9L983.1 1162.4L991.4 1165.7L1000.5 1168.8L1010 1171.5L1020.1 1173.9L1030.8 1176L1038.5 1177.1L1046.3 1178L1054.6 1178.5L1063 1178.7L1071.5 1178.6L1079.9 1178.1L1088.3 1177.3L1096.9 1176.2L1105.4 1174.7L1113.7 1173L1121.7 1171.1L1129.2 1169.1L1139.2 1166.2L1148.5 1163.2L1157.5 1160L1167.1 1156.4L1176.7 1152.7L1187.2 1148.2L1197.3 1143.6L1205.3 1139.9L1210.5 1137.4L1209.5 1135.1L1204.2 1137.4L1196.1 1141L1186 1145.3L1175.4 1149.5L1165.9 1153.1L1156.2 1156.5L1147.2 1159.5L1138 1162.4L1128.1 1165.2L1120.7 1167.1L1112.8 1168.9L1104.6 1170.5L1096.2 1171.9L1087.9 1173L1079.6 1173.8L1071.3 1174.2L1063 1174.4L1054.8 1174.1L1046.7 1173.6L1039 1172.8L1031.5 1171.7L1021 1169.6L1011.1 1167.3L1001.9 1164.6L993 1161.6L984.9 1158.4L977.5 1154.9L970.1 1150.9L961.9 1145.8L956.7 1142L951.1 1137.5L945.3 1132.4L939.4 1126.7L933.5 1120.6L927.7 1114.3L922.4 1108L917.3 1101.7L912.4 1095.3L907.7 1088.9L903.2 1082.4L898.9 1075.8L894.6 1069.1L890.5 1062.2L885.7 1053.9L881 1045.3L876.5 1036.4L872.3 1027.9L868.7 1019.7L865.3 1011.8L861.3 1002L857.6 991.5L854.8 982.2L852.8 974.8L851.4 969.6ZM966.5 1151.5L958.8 1137.9L951 1149.6ZM878.7 970.7L880.9 975.3L884.2 982.2L888.7 990.8L894.3 1000.1L900.2 1008.5L905 1015L909.8 1021.7L914.8 1028.5L919.8 1035.2L924.3 1041.5L928.2 1047.1L934.1 1055.6L938.9 1062.3L944 1068.8L948.6 1074L953.6 1079.2L959.3 1084.6L965.8 1090.1L974.3 1096.1L984 1102.1L991.9 1106.8L996.9 1109.8L998.1 1107.7L993.2 1104.6L985.4 1099.8L976 1093.6L967.7 1087.6L961.5 1082.2L956 1076.8L951.1 1071.7L946.7 1066.6L941.8 1060.2L937 1053.6L931.2 1045L927.2 1039.4L922.7 1033.1L917.8 1026.4L912.7 1019.6L907.9 1012.9L903.1 1006.4L897.2 998.2L891.6 989.1L887.1 980.7L883.7 973.9L881.3 969.3ZM933.5 1051.6L931.3 1036.7L920.3 1044.4ZM956.8 1044.8L961.9 1048.2L969.7 1053.3L980.1 1059.7L990.5 1065.5L998.7 1069.6L1006.5 1073.4L1014.6 1077.1L1022.8 1080.5L1030.7 1083.5L1038.1 1086L1045 1088L1052.2 1089.8L1060.1 1091.5L1069.2 1093L1076.8 1094.1L1085.5 1094.9L1094.8 1095.6L1104.3 1096L1113.4 1096.2L1121.8 1096L1129.3 1095.7L1140.1 1094.9L1149.1 1093.8L1157.2 1092.6L1166.5 1091.1L1177.5 1088.6L1189.8 1085.1L1199.3 1082L1205.4 1079.9L1204.6 1077.6L1198.5 1079.5L1189 1082.4L1176.8 1085.7L1165.9 1087.9L1156.7 1089.3L1148.7 1090.4L1139.7 1091.4L1129.1 1092.2L1121.7 1092.4L1113.4 1092.5L1104.4 1092.3L1095 1091.9L1085.8 1091.2L1077.2 1090.3L1069.8 1089.3L1060.8 1087.7L1053.1 1086.1L1046 1084.3L1039.2 1082.3L1031.9 1079.9L1024.2 1077L1016.1 1073.6L1008.1 1070L1000.3 1066.3L992.1 1062.3L981.8 1056.8L971.3 1050.7L963.3 1045.9L958.2 1042.7ZM1076.2 1092.2L1063.8 1083.4L1061.7 1096.8ZM1027 1118.6L1033.1 1121.4L1043.3 1125.4L1055.5 1128.3L1064.6 1129.5L1074.3 1130.1L1083.6 1130.5L1092.9 1130.5L1102 1130.1L1111.1 1129.3L1120.4 1128.1L1130.8 1126.3L1138.7 1124.8L1147.3 1122.9L1156.2 1120.7L1165 1118.3L1173.4 1115.8L1180.9 1113.3L1190.6 1109.9L1198.9 1106.8L1206.6 1103.9L1214.1 1100.9L1221.2 1098L1228 1095.2L1234.8 1092.3L1242.4 1088.9L1249.4 1085.7L1256.8 1082L1264.5 1078.1L1272.3 1073.8L1280.1 1069.3L1287.8 1064.6L1295.5 1059.5L1303 1054.3L1310.1 1048.9L1317.2 1043.3L1324.9 1036.8L1333 1029.1L1339.8 1021.4L1345.1 1015.1L1348.6 1011L1346.4 1009L1342.7 1013.1L1337.4 1019.2L1330.5 1026.6L1322.5 1034.1L1314.8 1040.3L1307.7 1045.8L1300.6 1051L1293.2 1056.1L1285.5 1061L1277.9 1065.6L1270.2 1070L1262.4 1074.2L1254.8 1078.1L1247.5 1081.7L1240.6 1084.9L1233.1 1088.3L1226.3 1091.2L1219.6 1093.9L1212.5 1096.8L1205 1099.8L1197.4 1102.7L1189.1 1105.8L1179.5 1109.2L1172.1 1111.6L1163.8 1114.1L1155.1 1116.5L1146.3 1118.6L1137.8 1120.5L1130.1 1122L1119.7 1123.8L1110.6 1125.1L1101.7 1126L1092.8 1126.5L1083.6 1126.6L1074.5 1126.2L1064.9 1125.8L1056.1 1124.8L1044.2 1122.3L1034.1 1118.8L1028 1116.4ZM1219.7 1096.3L1204.2 1094.9L1209.4 1108ZM684.4 1111.9L688.3 1115.7L693.7 1121.1L700.4 1127.7L708.8 1135.7L717.5 1143.8L725.6 1151.1L731.6 1156.5L738.3 1162.4L745.4 1168.6L752.7 1174.9L759.8 1180.9L765.9 1186L770.9 1190.1L774.5 1193.2L775.5 1191.8L772 1188.8L767 1184.7L760.9 1179.6L753.8 1173.6L746.5 1167.3L739.4 1161.2L732.8 1155.3L726.7 1149.8L718.7 1142.5L709.9 1134.4L701.6 1126.5L694.9 1119.9L689.5 1114.4L685.6 1110.6ZM787.5 1250.8L793.3 1251.2L802.7 1251.7L814.7 1252.5L824.1 1253L830 1253.3L830 1251.7L824.2 1251.3L814.8 1250.8L802.8 1250L793.4 1249.5L787.5 1249.2ZM939.9 1269.6L945.1 1270.3L952.7 1271.3L962 1272.6L972.7 1273.9L983.5 1274.9L993.3 1275.7L1001.9 1276.2L1013.7 1276.9L1025.9 1277L1036.2 1276.6L1044.4 1276.2L1050 1275.8L1050 1274.2L1044.3 1274.4L1036.1 1274.8L1025.9 1275.2L1013.8 1275L1002 1274.3L993.5 1273.8L983.7 1273.1L972.9 1272.1L962.2 1270.8L952.9 1269.6L945.4 1268.6L940.1 1267.9ZM1008.2 1275.6L996 1268.9L995.3 1280.9ZM1242.3 1291.7L1236.3 1293.3L1227 1295.9L1215 1298.8L1203.4 1301.1L1194.9 1302.6L1186.8 1304L1178.2 1305.5L1170.2 1306.6L1163.4 1307.4L1148.9 1308.9L1142.5 1309.2L1142.5 1310.8L1149 1310.7L1163.6 1309.5L1170.5 1308.7L1178.5 1307.5L1187.2 1306.1L1195.2 1304.6L1203.8 1303.2L1215.5 1300.8L1227.5 1297.7L1236.8 1295.1L1242.7 1293.3ZM1157.3 1309.1L1170.4 1313.9L1169.2 1301.8ZM1067.6 1315.8L1073.5 1315.2L1083.8 1314L1094.2 1312.8L1100.1 1312.1L1099.9 1310.4L1094 1311.1L1083.7 1312.3L1073.3 1313.5L1067.4 1314.2ZM1230.1 1283.3L1235.6 1282.5L1244.5 1281.1L1255.8 1279.3L1264.7 1277.9L1270.1 1277.1L1269.9 1275.4L1264.4 1276.3L1255.5 1277.6L1244.2 1279.4L1235.3 1280.8L1229.9 1281.7ZM1235.8 1255.3L1237.9 1249.8L1244 1241.7L1250.2 1236.6L1259.5 1230.3L1270.2 1223.8L1276.5 1219.9L1283.5 1215.9L1290.9 1211.9L1298.3 1208.1L1305.8 1204.4L1314 1200.5L1323 1196.6L1331.5 1193.3L1338.4 1190.6L1343 1188.9L1342 1186.1L1337.4 1187.9L1330.5 1190.5L1321.9 1193.9L1312.8 1197.9L1304.5 1201.8L1297 1205.5L1289.6 1209.3L1282.1 1213.4L1275 1217.5L1268.7 1221.4L1258 1228L1248.7 1234.6L1242.3 1240.1L1236.1 1248.8L1234.2 1254.7ZM1237 1260.7L1242.9 1265.2L1255.6 1268.5L1263.4 1268.3L1273.7 1266.7L1284.8 1264.1L1294.2 1261.9L1301.4 1259.8L1308.7 1257.3L1315.9 1254.6L1322.9 1251.7L1330 1248.5L1337.2 1245.1L1344.5 1241.4L1351.8 1237.5L1359.1 1233.4L1366.6 1229.2L1375.6 1223.9L1385.4 1217.7L1394.4 1211.7L1401.3 1207L1405.9 1203.8L1404.1 1201.2L1399.5 1204.3L1392.6 1209.1L1383.7 1215L1373.9 1221.2L1365 1226.4L1357.6 1230.7L1350.3 1234.7L1343.1 1238.6L1335.8 1242.2L1328.7 1245.6L1321.7 1248.8L1314.7 1251.7L1307.7 1254.4L1300.5 1256.8L1293.4 1259L1284.1 1261.3L1273.1 1264L1263.1 1265.7L1256 1266.1L1243.7 1263.3L1238 1259.3ZM1360.1 1231.1L1374.8 1230.1L1368.3 1218.8ZM1305 1234L1311.1 1233.8L1320.7 1233.5L1332.3 1232.3L1342.9 1230.2L1352.1 1227.5L1361 1224.9L1370.1 1221.8L1379.6 1218L1388.9 1214.1L1399.3 1209.1L1409.1 1203.7L1416.9 1199.2L1422 1196.3L1420.5 1193.7L1415.4 1196.6L1407.6 1201L1397.9 1206.4L1387.7 1211.4L1378.5 1215.2L1369 1218.9L1360.1 1222L1351.3 1224.6L1342.2 1227.2L1331.9 1229.3L1320.4 1230.4L1311 1230.8L1305 1231ZM1276 1151.5L1280.4 1148.7L1286.7 1144.6L1294.5 1139.5L1303.6 1133.2L1312.5 1126.7L1319.9 1120.9L1326.3 1115.9L1332.5 1110.8L1338.6 1105.8L1344.6 1100.6L1350.6 1095.4L1356.7 1089.9L1363 1084.2L1369.5 1078.2L1376 1072.1L1382.2 1066.2L1388.2 1060.5L1394 1054.8L1401.2 1047.7L1408.7 1040.1L1415 1033.4L1419.9 1028.1L1423.3 1024.4L1419.2 1020.6L1415.8 1024.2L1410.7 1029.4L1404.4 1036L1397 1043.5L1389.8 1050.5L1384 1056.1L1378.1 1061.8L1371.8 1067.7L1365.3 1073.7L1358.9 1079.7L1352.6 1085.4L1346.5 1090.8L1340.6 1096.1L1334.7 1101.2L1328.7 1106.3L1322.6 1111.3L1316.3 1116.4L1309.1 1122.3L1300.5 1129L1291.7 1135.6L1284.2 1141L1278.1 1145.4L1274 1148.5ZM1280.7 1178.5L1284.9 1175.8L1290.8 1172L1297.9 1167.4L1306.3 1161.8L1315.6 1155.2L1324.3 1148.9L1332 1143.1L1338.4 1138.3L1344.7 1133.2L1351 1128.1L1357.2 1123L1363.2 1117.8L1369.2 1112.6L1375.1 1107.3L1380.9 1102L1387.6 1095.8L1395.2 1088.8L1402.8 1081.6L1409.4 1075.1L1415 1069.6L1419.6 1065L1423 1061.7L1419.5 1058.3L1416.2 1061.6L1411.6 1066.1L1406 1071.6L1399.4 1078.1L1391.9 1085.3L1384.3 1092.2L1377.6 1098.4L1371.9 1103.6L1365.9 1108.9L1360 1114.2L1354 1119.3L1347.9 1124.4L1341.7 1129.5L1335.5 1134.6L1329.3 1139.5L1321.7 1145.4L1313.2 1151.9L1304.1 1158.7L1295.9 1164.6L1289 1169.5L1283.4 1173.5L1279.3 1176.5ZM1274.6 341.2L1280.3 343.1L1289 346.2L1299.2 350.1L1308.9 354.3L1319 358.6L1329.8 363.7L1338.7 368.2L1344.4 371.1L1345.6 368.9L1339.9 365.9L1331 361.2L1320.1 356L1310 351.7L1300.2 347.5L1289.9 343.6L1281.1 340.7L1275.4 338.8ZM1354.5 351.4L1360.3 353.7L1369.6 357.4L1379.1 361.6L1388.9 366.1L1398.5 370.8L1404.3 373.9L1405.7 371.1L1399.8 368.1L1390.2 363.3L1380.3 358.8L1370.8 354.6L1361.4 350.8L1355.5 348.6ZM1362 396.1L1367.6 398.8L1376.6 402.9L1387.7 407.4L1398.6 410.7L1407.7 413.4L1417 416.1L1425.5 418L1431.9 419.6L1440.8 423.3L1444.2 425.9L1445.8 424.1L1442.1 420.9L1432.9 416.8L1426.2 415L1417.8 413L1408.5 410.5L1399.5 407.8L1388.7 404.6L1377.7 400.4L1368.7 396.4L1363 393.9ZM1426.2 416L1436.4 426.5L1440.8 414.3ZM1347.2 469.3L1353.3 470.4L1362.5 472L1374.2 475.2L1384.6 479.3L1392 483.2L1399.3 487.2L1406.4 491.6L1413.3 496.5L1419.7 501.6L1425.7 507.1L1431.4 513L1437 519.2L1442.2 525.5L1446.9 531.7L1452.2 539.2L1456.9 546.2L1461.3 553.4L1466 561.4L1470.2 569.4L1474.4 578.8L1477.9 588.2L1480.6 595.9L1482.4 600.9L1487.6 599.1L1485.9 594L1483.2 586.3L1479.6 576.6L1475.3 566.9L1470.8 558.7L1466.1 550.6L1461.6 543.2L1456.9 536L1451.4 528.3L1446.5 522L1441.2 515.6L1435.5 509.2L1429.5 503.1L1423.2 497.4L1416.6 492.1L1409.3 487L1401.9 482.6L1394.4 478.6L1386.6 474.7L1375.6 470.6L1363.4 467.7L1353.9 466.4L1347.8 465.7ZM1278.3 585.9L1282.3 582.8L1288.3 578L1295.8 572.4L1303.6 567.5L1311 563.8L1320.1 560.3L1329.3 557.2L1338.5 555.4L1347.6 554.8L1356.8 555.5L1366.4 557.7L1375.6 561L1383.2 564.7L1389.5 568.3L1395.9 572.1L1401.3 576.2L1406.1 580.6L1416.2 593.4L1420.4 601.2L1424.6 598.8L1420.2 590.7L1409.8 577.4L1404.5 572.5L1398.6 568.1L1391.9 564.1L1385.4 560.3L1377.4 556.5L1367.8 553.1L1357.6 550.8L1347.6 550L1337.9 550.8L1328.1 552.9L1318.6 556.2L1309.4 560L1301.6 564.1L1293.7 569.5L1286.3 575.6L1280.5 580.7L1276.7 584.1ZM1344.8 586.4L1351.3 587.4L1361.7 589.4L1372 592.2L1381.9 595.1L1391.2 598.8L1396.9 601.3L1398.1 598.7L1392.3 596.1L1382.8 592.4L1372.8 589.4L1362.4 586.5L1351.8 584.6L1345.2 583.6ZM1338.5 584L1350.5 592.4L1352.5 579.6ZM1409.1 310.9L1412.6 314.4L1417.4 319.1L1423.1 324.8L1429.6 331.4L1437.3 339.2L1445.2 347.7L1452.6 355.6L1459.2 363L1464.3 368.7L1469.2 374.4L1474.1 380.1L1479.1 386.1L1484 392.2L1488.9 398.5L1493.8 404.9L1498.6 411.2L1503.2 417.6L1507.6 423.9L1512.4 430.9L1517.1 438.1L1521.7 445.3L1526.1 452.4L1530.3 459.4L1534.2 466.1L1537.9 472.6L1541.5 478.9L1544.9 485.1L1549.6 494L1554 502.3L1558 510.2L1561.9 518.2L1565.7 526.4L1569.8 535.6L1573.2 543.5L1577 552.5L1580.9 562.2L1584.9 572.4L1588.4 581.6L1591.3 589.5L1593.7 596.1L1595.5 600.8L1599.5 599.2L1597.7 594.6L1595.3 588.1L1592.4 580.1L1588.9 570.8L1584.9 560.6L1580.9 550.9L1577.2 541.8L1573.8 533.9L1569.6 524.6L1565.7 516.3L1561.8 508.3L1557.8 500.3L1553.4 492L1548.6 483.1L1545.2 476.9L1541.6 470.5L1537.9 463.9L1533.9 457.2L1529.7 450.2L1525.3 443L1520.7 435.8L1516 428.5L1511.1 421.4L1506.7 415.1L1502 408.7L1497.2 402.3L1492.3 395.9L1487.3 389.5L1482.3 383.4L1477.4 377.4L1472.4 371.6L1467.4 365.9L1462.3 360.2L1455.5 352.9L1448 345.1L1439.8 336.8L1432 329L1425.2 322.6L1419.4 317.1L1414.5 312.5L1410.9 309.1ZM1484 410.6L1486.3 414.6L1489.5 420L1493.4 426.4L1497.9 433.9L1502.9 442.4L1507.8 450.9L1512.4 458.9L1516.7 466.6L1520.5 473.3L1525.3 482.3L1529.7 490.6L1533.7 498.4L1537.5 506.2L1541.3 514.4L1545.4 523.4L1548.7 530.9L1552.4 539.6L1556.3 548.9L1560.2 558.5L1563.7 567.4L1566.6 574.9L1569 581.2L1570.8 585.7L1574.2 584.3L1572.4 579.8L1570 573.6L1567.1 566L1563.6 557.2L1559.7 547.5L1555.7 538.1L1552.1 529.5L1548.8 521.9L1544.6 512.8L1540.8 504.7L1536.9 496.8L1532.9 488.9L1528.5 480.6L1523.6 471.6L1519.7 464.9L1515.3 457.2L1510.6 449.3L1505.6 440.9L1500.4 432.4L1495.8 424.9L1491.8 418.6L1488.5 413.2L1486 409.4ZM1434.3 448.5L1438.9 451.6L1445.7 456.2L1454.1 461.9L1463.2 468.6L1471.7 475.5L1478.5 481L1486.5 487.6L1494 494.6L1500.5 501.4L1505.6 507L1509.1 510.8L1510.9 509.2L1507.5 505.3L1502.5 499.6L1496 492.6L1488.4 485.4L1480.4 478.8L1473.5 473.2L1465 466.3L1455.7 459.6L1447.1 454L1440.3 449.5L1435.7 446.5ZM1484.5 484L1478.4 470.8L1470.3 480.7ZM1545.7 870.4L1549 865.2L1554.2 857L1560.2 847.4L1566 838.1L1571.8 828.8L1577.8 819.2L1582.9 811L1586.1 805.7L1583.9 804.3L1580.6 809.6L1575.6 817.8L1569.7 827.5L1564 836.9L1558.3 846.2L1552.4 856L1547.4 864.2L1544.3 869.6ZM1588.4 799.5L1576.2 807.2L1587 813.8ZM1586.7 837.9L1589.2 843.3L1592.9 852L1595.4 859.9L1596.9 869.6L1598 880L1598.7 888.7L1598.1 899.1L1597 908.9L1596.3 914.8L1598.7 915.2L1599.5 909.2L1600.8 899.3L1601.5 888.7L1600.7 879.7L1599.4 869.2L1597.7 859.3L1595 851.2L1590.9 842.5L1588.3 837.1ZM1600 886.3L1605 872.8L1592.4 874ZM1581.6 887.7L1583 894.2L1584.9 904.9L1585.6 915.6L1585.9 925L1584.9 934.1L1584.1 939.9L1585.9 940.1L1586.7 934.3L1587.7 925L1587.4 915.5L1586.8 904.7L1584.8 893.9L1583.4 887.3ZM1485.9 965.9L1489.9 961.7L1496.4 955.2L1504.5 947.3L1512.1 940.6L1518.6 935.6L1524.8 931.6L1530.5 928.1L1536 925.5L1543.2 923.2L1549.8 922.6L1555 922.8L1562.3 923.9L1568.5 929.5L1570.7 936.4L1569.8 946.1L1568.8 952.3L1571.2 952.7L1572.3 946.4L1573.3 936.2L1570.8 928L1563.6 921.4L1555.3 920L1549.7 919.8L1542.6 920.4L1535 922.9L1529.1 925.6L1523.3 929.2L1517 933.3L1510.3 938.5L1502.7 945.4L1494.5 953.4L1488.2 960L1484.1 964.1ZM1541.6 921.9L1527.1 920.5L1531.6 932.5ZM1571.4 623L1573.4 627.8L1576.5 635L1579.7 643.6L1582.2 652.3L1585.1 662.4L1587.8 674.2L1589.6 684.1L1590.7 690.3L1594.3 689.7L1593.2 683.4L1591.4 673.5L1588.5 661.5L1585.5 651.4L1582.8 642.5L1579.3 633.9L1575.9 626.7L1573.6 622ZM1581.9 645.4L1579.4 660.2L1592.1 656.4ZM1523.9 860.8L1522.4 868.1L1519.8 879.9L1516.7 892L1513.7 902.5L1510.5 912.7L1507.2 922.7L1503.7 932.8L1499.8 942.9L1495.8 952.8L1492.5 960.2L1489.1 967.6L1485.5 975L1481.7 982.3L1477.8 989.6L1473.8 996.8L1469.6 1004L1465.2 1011.2L1460.6 1018.3L1456 1025.4L1451.2 1032.4L1446.3 1039.3L1441.3 1046.2L1436.2 1053L1431 1059.6L1425.7 1066.2L1420.3 1072.7L1414.9 1078.9L1409.4 1085.1L1403.8 1091.1L1398.1 1097L1392.4 1102.8L1386.5 1108.5L1380.8 1114.1L1372.9 1121.5L1364.9 1128.9L1356.8 1136.1L1348.5 1143.2L1340.1 1150L1331.6 1156.7L1323.2 1162.9L1314.7 1169L1305.5 1175.4L1297.4 1180.9L1288.8 1186.4L1280.1 1191.9L1271.5 1197.2L1264.1 1201.6L1256.3 1206L1248.2 1210.3L1241.6 1213.7L1237.2 1216L1237.9 1217.3L1242.3 1215.1L1249 1211.8L1257.2 1207.7L1265.2 1203.4L1272.6 1199.1L1281.3 1193.9L1290.2 1188.6L1298.8 1183.2L1307 1177.8L1316.5 1171.5L1325 1165.4L1333.5 1159.2L1342.1 1152.5L1350.6 1145.7L1358.9 1138.6L1367.2 1131.4L1375.3 1124L1383.1 1116.6L1389 1111L1394.8 1105.3L1400.6 1099.4L1406.3 1093.5L1411.9 1087.5L1417.5 1081.2L1423 1074.9L1428.4 1068.4L1433.8 1061.8L1439 1055.1L1444.1 1048.3L1449.1 1041.4L1454 1034.4L1458.8 1027.3L1463.5 1020.2L1468 1012.9L1472.4 1005.7L1476.6 998.4L1480.7 991.1L1484.6 983.8L1488.3 976.4L1491.9 968.9L1495.3 961.4L1498.4 953.9L1502.4 943.9L1506.2 933.7L1509.6 923.4L1512.7 913.4L1515.8 903.1L1518.6 892.5L1521.5 880.3L1524 868.4L1525.4 861.1ZM1549.2 840.2L1548.3 845.9L1546.9 854.8L1544.9 865.9L1542.8 876L1540.7 885L1538.5 893.6L1536.4 902L1534 910.5L1531.4 919L1528.8 927.3L1525.8 935.8L1522.7 944.4L1519.8 951.7L1516.8 959.2L1513.5 966.8L1510 974.3L1506.5 981.8L1502.9 989.1L1499.1 996.3L1495.2 1003.6L1491.1 1010.7L1487 1017.8L1482.7 1024.7L1478.3 1031.7L1473.8 1038.5L1469.2 1045.3L1464.5 1052L1459.6 1058.7L1454.7 1065.3L1449.7 1071.8L1444.6 1078.2L1439.4 1084.5L1434.1 1090.7L1428.7 1096.8L1423.1 1102.8L1417.5 1108.8L1411.7 1114.7L1405.7 1120.5L1399.6 1126.4L1393.4 1132.2L1387.3 1137.7L1381.6 1142.8L1375 1148.5L1368.8 1153.8L1362.7 1158.8L1356.5 1163.8L1350 1168.9L1343.4 1173.8L1336.7 1178.7L1330 1183.4L1323.4 1187.9L1316.8 1192.2L1309.9 1196.6L1302.5 1201.2L1295.9 1205.2L1288.9 1209.3L1281.6 1213.5L1274.3 1217.5L1266.7 1221.7L1258.2 1226.2L1248.7 1230.8L1239.9 1234.9L1232.9 1238.1L1228.1 1240.2L1228.8 1241.6L1233.5 1239.5L1240.6 1236.4L1249.5 1232.5L1259 1227.9L1267.6 1223.5L1275.3 1219.4L1282.7 1215.4L1290 1211.3L1297.2 1207.2L1303.8 1203.3L1311.3 1198.8L1318.2 1194.4L1324.8 1190.1L1331.5 1185.6L1338.3 1180.9L1345.1 1176.1L1351.7 1171.2L1358.3 1166.1L1364.6 1161.1L1370.7 1156.1L1377 1150.9L1383.6 1145.1L1389.4 1140L1395.5 1134.5L1401.8 1128.7L1408 1122.8L1414 1116.9L1419.8 1111L1425.5 1105L1431.1 1098.9L1436.5 1092.8L1441.9 1086.5L1447.1 1080.2L1452.2 1073.7L1457.3 1067.2L1462.2 1060.6L1467.1 1053.9L1471.8 1047.1L1476.4 1040.3L1480.9 1033.4L1485.4 1026.4L1489.7 1019.4L1493.8 1012.3L1497.9 1005.1L1501.8 997.8L1505.6 990.5L1509.3 983.1L1512.8 975.6L1516.2 968L1519.5 960.4L1522.6 952.8L1525.4 945.4L1528.5 936.7L1531.3 928.2L1533.9 919.7L1536.4 911.1L1538.7 902.6L1540.7 894.1L1542.7 885.5L1544.7 876.5L1546.7 866.2L1548.6 855.1L1549.9 846.1L1550.7 840.4ZM1558 910.7L1556.2 916.5L1553.5 925.6L1549.8 936.7L1546.2 946.8L1542.7 955.9L1539.4 964.3L1535.9 972.7L1532.1 981.3L1528.1 990L1524 998.6L1519.7 1007.1L1515.3 1015.2L1511.1 1022.9L1506.8 1030.2L1502.5 1037.3L1498.1 1044.4L1493.5 1051.4L1488.7 1058.5L1483.7 1065.5L1478.6 1072.5L1473.4 1079.3L1468.1 1086.1L1462.7 1092.8L1457.2 1099.4L1451.6 1105.9L1445.8 1112.4L1440 1118.7L1434.1 1124.9L1428 1131.1L1421.9 1137.1L1415.7 1143L1409.6 1148.6L1403.3 1154.2L1397 1159.6L1390.6 1165L1383.8 1170.6L1376.6 1176.3L1369.1 1182.1L1361.3 1187.9L1353.4 1193.6L1345.6 1199L1337.8 1204.3L1329.9 1209.3L1322 1214.2L1314.3 1218.8L1306.6 1223.2L1298.4 1227.6L1289.5 1232.3L1281.5 1236.4L1272.8 1240.7L1263.5 1245.1L1254.2 1249.3L1245.3 1253.1L1237.4 1256.5L1228.8 1260L1220 1263.3L1212 1266.1L1205.5 1268.4L1201 1270L1201.4 1271.1L1205.9 1269.6L1212.4 1267.4L1220.5 1264.7L1229.4 1261.5L1238 1258.1L1246 1254.8L1255 1251L1264.3 1246.9L1273.7 1242.6L1282.5 1238.4L1290.6 1234.4L1299.6 1229.7L1307.8 1225.3L1315.5 1221L1323.4 1216.4L1331.3 1211.6L1339.3 1206.5L1347.2 1201.3L1355 1195.9L1363 1190.2L1370.8 1184.4L1378.4 1178.6L1385.6 1172.9L1392.5 1167.3L1399 1161.9L1405.3 1156.4L1411.6 1150.8L1417.8 1145.1L1424 1139.2L1430.2 1133.2L1436.2 1127L1442.2 1120.7L1448.1 1114.4L1453.8 1107.9L1459.4 1101.3L1465 1094.7L1470.4 1087.9L1475.7 1081.1L1480.9 1074.2L1486 1067.1L1491 1060.1L1495.8 1052.9L1500.4 1045.9L1504.8 1038.7L1509.1 1031.5L1513.4 1024.2L1517.6 1016.4L1521.8 1008.2L1526.1 999.7L1530.2 990.9L1534.1 982.1L1537.7 973.5L1541.1 965L1544.3 956.6L1547.8 947.4L1551.3 937.2L1554.8 926L1557.5 916.9L1559.2 911ZM1555.5 974.8L1552.9 980.5L1548.8 989.5L1543.6 1000.5L1538.5 1010.5L1533.7 1019.2L1529.2 1027.3L1524.5 1035.5L1519.6 1043.7L1514.6 1051.8L1509.3 1059.9L1503.9 1067.9L1498.3 1075.8L1492.6 1083.6L1486.8 1091.2L1480.8 1098.8L1474.6 1106.3L1468.4 1113.6L1462 1120.8L1455.4 1128L1448.6 1135L1441.7 1142.1L1434.5 1149L1427.4 1155.8L1420.3 1162.3L1413.5 1168.3L1406.9 1174L1400.2 1179.5L1393.5 1185L1386.5 1190.4L1379.5 1195.8L1372.3 1201L1365.1 1206L1358 1210.9L1351 1215.5L1343.6 1220.3L1335.6 1225.3L1328.5 1229.5L1321 1233.9L1313.1 1238.4L1305.1 1242.8L1297 1247.1L1287.9 1251.9L1277.8 1256.8L1268.3 1261.2L1260.8 1264.5L1255.7 1266.8L1256.2 1267.9L1261.3 1265.7L1268.9 1262.5L1278.4 1258.2L1288.6 1253.4L1297.9 1248.7L1306 1244.5L1314 1240.2L1322 1235.8L1329.6 1231.4L1336.8 1227.2L1344.9 1222.3L1352.3 1217.6L1359.4 1213L1366.6 1208.1L1373.8 1203.1L1381 1197.9L1388.1 1192.5L1395.1 1187.1L1402 1181.6L1408.6 1176L1415.3 1170.3L1422.1 1164.3L1429.2 1157.8L1436.4 1151L1443.6 1144L1450.5 1136.9L1457.3 1129.8L1463.9 1122.6L1470.3 1115.3L1476.6 1107.9L1482.7 1100.4L1488.7 1092.7L1494.5 1085L1500.2 1077.1L1505.8 1069.1L1511.1 1061.1L1516.3 1052.9L1521.3 1044.7L1526.2 1036.5L1530.8 1028.2L1535.2 1020L1539.9 1011.2L1545 1001.1L1550.1 990.1L1554.1 981.1L1556.6 975.3ZM1316.3 337.1L1321.3 340L1329 344.3L1338.6 349.9L1347.1 355.2L1354.8 360.3L1362 365.1L1369 369.9L1376 374.9L1383.1 380.1L1390 385.4L1396.8 390.7L1403.6 396.3L1410.3 402L1416.9 407.7L1423.5 413.7L1429.9 419.7L1436.2 425.8L1442.4 432L1448.6 438.4L1454.6 444.8L1460.4 451.4L1466.2 458L1471.9 464.8L1477.4 471.6L1482.9 478.6L1488.2 485.6L1493.4 492.8L1498.5 500L1503.5 507.3L1508.3 514.8L1513.1 522.3L1517.7 529.9L1522 537.3L1526.1 544.6L1530.3 552.4L1534.7 561L1538 567.4L1541.3 574.3L1544.7 581.5L1548.1 589L1551.4 596.6L1554.5 604.1L1557.9 612.4L1561.6 621.8L1565 631.3L1567.8 639.5L1570 646.1L1571.6 650.7L1572.7 650.3L1571.2 645.7L1569.1 639L1566.4 630.8L1563.1 621.2L1559.6 611.8L1556.3 603.4L1553.3 595.8L1550.1 588.2L1546.7 580.6L1543.4 573.3L1540.1 566.3L1537 559.8L1532.6 551.2L1528.4 543.4L1524.3 536L1520 528.5L1515.4 520.8L1510.7 513.3L1505.8 505.8L1500.9 498.4L1495.8 491.1L1490.5 483.9L1485.2 476.8L1479.7 469.8L1474.1 462.9L1468.4 456.1L1462.6 449.4L1456.7 442.9L1450.6 436.4L1444.4 430.1L1438.2 423.8L1431.8 417.7L1425.3 411.7L1418.7 405.8L1412 400L1405.2 394.3L1398.3 388.8L1391.4 383.5L1384.4 378.3L1377.2 373.1L1370.1 368.2L1363.1 363.5L1355.8 358.8L1348 353.8L1339.3 348.6L1329.7 343.1L1321.9 338.8L1316.9 336.1ZM1452.9 469.2L1456.1 473.3L1461 479.5L1467 487.2L1473.4 495.9L1479 503.8L1483.7 510.9L1488.3 517.8L1492.8 524.7L1497.2 531.9L1501.5 539L1505.7 546.3L1509.8 553.7L1513.8 561.3L1517.6 568.8L1521.4 576.5L1525 584.2L1528.4 591.9L1531.8 599.8L1535 607.7L1538.1 615.6L1541.1 623.6L1544 631.6L1546.8 639.7L1549.4 647.8L1551.9 656L1554.2 664.2L1556.4 672.4L1558.5 680.7L1560.5 689L1562.3 697.1L1564 705.5L1565.6 713.8L1567 722L1568.3 730.2L1569.5 738.8L1570.9 748.6L1572.1 759.4L1572.9 769.3L1573.5 777.2L1573.9 782.5L1575.1 782.5L1574.8 777.2L1574.3 769.2L1573.7 759.2L1572.6 748.4L1571.5 738.5L1570.3 730L1569.1 721.7L1567.8 713.4L1566.3 705.1L1564.7 696.6L1563 688.4L1561.1 680.1L1559.1 671.7L1556.9 663.4L1554.5 655.2L1552.1 647L1549.5 638.8L1546.7 630.6L1543.9 622.6L1540.8 614.5L1537.7 606.6L1534.4 598.7L1531.1 590.8L1527.5 583L1523.9 575.3L1520.1 567.6L1516.1 560L1512.1 552.5L1507.9 545.1L1503.6 537.8L1499.2 530.6L1494.7 523.5L1490.1 516.6L1485.4 509.8L1480.5 502.7L1474.8 494.8L1468.3 486.2L1462.1 478.6L1457.1 472.5L1453.8 468.4Z" fill="#6b0000" fill-rule="nonzero"/>
<g fill="none" stroke="#fff" stroke-opacity="0.55" stroke-width="1.1" stroke-dasharray="3 5">
<circle cx="1079.5" cy="782.5" r="559"/>
<circle cx="1079.5" cy="782.5" r="540"/>
<circle cx="1079.5" cy="782.5" r="484.1"/>
<circle cx="1079.5" cy="782.5" r="395.3"/>
<circle cx="1079.5" cy="782.5" r="279.5"/>
<circle cx="1079.5" cy="782.5" r="144.7"/>
<line x1="1079.5" y1="782.5" x2="1079.5" y2="1344.5"/>
<line x1="1079.5" y1="782.5" x2="1360.5" y2="1269.2"/>
<line x1="1079.5" y1="782.5" x2="1566.2" y2="1063.5"/>
<line x1="1079.5" y1="782.5" x2="1641.5" y2="782.5"/>
<line x1="1079.5" y1="782.5" x2="1566.2" y2="501.5"/>
<line x1="1079.5" y1="782.5" x2="1360.5" y2="295.8"/>
<line x1="1079.5" y1="782.5" x2="1079.5" y2="220.5"/>
<line x1="1079.5" y1="782.5" x2="798.5" y2="295.8"/>
<line x1="1079.5" y1="782.5" x2="592.8" y2="501.5"/>
<line x1="1079.5" y1="782.5" x2="517.5" y2="782.5"/>
<line x1="1079.5" y1="782.5" x2="592.8" y2="1063.5"/>
<line x1="1079.5" y1="782.5" x2="798.5" y2="1269.2"/>
</g>
<path d="M1080.4 553L1080.4 221L1085.3 221L1083.7 400L1083.1 553Z" fill="#fff"/>
<path d="M996.4 470.3L993.5 472.4L989.9 472.1L992.9 470.1ZM1008.4 459.3L1005.3 461.2L1001.7 460.8L1004.8 458.9ZM1015.2 454.7L1012 456.5L1008.3 456.1L1011.5 454.2ZM1027.1 447.8L1023.8 449.5L1020.1 449L1023.4 447.3ZM1049 441.2L1045.6 442.7L1041.9 442L1045.4 440.4ZM1063.2 437.2L1059.7 438.5L1056 437.6L1059.5 436.2ZM1071.1 436.9L1067.5 438.2L1063.8 437.2L1067.4 435.9ZM1098.2 438.1L1094.5 439.1L1090.9 437.8L1094.6 436.8ZM1124.1 448.3L1120.5 449L1117.1 447.4L1120.7 446.7ZM866.1 301L861.9 305.1L856.1 305.6L860.3 301.5ZM872.4 302.7L869.9 305.1L866.5 305.3L869 302.9ZM887.2 299.3L885.1 301.3L882.1 301.3L884.3 299.3ZM900.2 296.6L898.4 298.2L896 298.2L897.8 296.5ZM942.6 1256.7L947.2 1256.3L950.9 1259L946.3 1259.4ZM935.6 1253.2L939.3 1252.9L942.2 1255.1L938.5 1255.4ZM956.4 1258.6L960.9 1258L964.7 1260.6L960.2 1261.2ZM926.8 1248.4L929 1248.3L930.8 1249.7L928.5 1249.9ZM939.6 1231.6L942.3 1231.3L944.3 1233.1L941.6 1233.4ZM886.6 1179.8L890.1 1179.7L892.1 1182.5L888.6 1182.7ZM871.4 1167.3L874.9 1167.3L876.8 1170.2L873.3 1170.3ZM1045.7 1042.7L1047.8 1040.6L1049.3 1043.2L1047.2 1045.4ZM860.8 1275.9L863.6 1276.6L866 1278.2L863.2 1277.5ZM856.5 1269.6L859.3 1270.2L861.6 1271.9L858.8 1271.3ZM1518.2 1107.1L1520.4 1102.8L1523.8 1099.4L1521.6 1103.7ZM1099 1212.8L1102 1210.9L1105 1212.5L1102.1 1214.4ZM604.8 1042.4L606.6 1044.6L607.5 1047.4L605.7 1045.1ZM595.6 1043.1L597.8 1046.2L599.2 1049.8L597 1046.7ZM581.9 888.3L584.3 892.3L583.9 896.9L581.5 892.9ZM589.9 883L591.8 886.2L591.3 889.8L589.4 886.7ZM1392.9 339.8L1390.3 338.6L1388.3 336.6L1390.9 337.8ZM1476.4 478L1473.3 475.9L1472.1 472.4L1475.2 474.4ZM1276.6 447.9L1272.4 448.3L1270.7 444.5L1274.9 444.1ZM1251.6 450.4L1248.4 451L1247 448L1250.2 447.4ZM1230.8 456.6L1227.6 457.4L1226.2 454.5L1229.4 453.6Z" fill="#fff" stroke="#fff" stroke-width="1.6" stroke-linejoin="round"/><path d="M1158.3 945.5L1161.3 943.8L1164.9 943.2L1171.1 942.5L1176.6 944L1176 949.7L1181.4 948.3L1186.6 947.4L1189.7 946.2L1194.3 944.5L1200.6 943.2L1204 942.4L1210.4 945.7L1215.8 945L1219.5 945.9L1224.8 947.9L1225.6 951.6L1226 954L1222.7 957.3L1218.9 961L1216.3 960.8L1211.9 962.7L1206.8 964.4L1202.7 965.5L1199.9 967.9L1204.5 971.3L1210.3 972.8L1213 977.1L1217.3 980.8L1222.8 979.6L1227.5 978.9L1227.9 975.2L1228.2 972.8L1230 968.9L1233.6 966.2L1231.6 962.2L1228.9 958.6L1229 953L1230.1 946.8L1233 944.9L1236.1 943.6L1233.1 941.3L1228.8 938.2L1225 934.5L1222.4 930.5L1218.8 930.3L1223.5 929.2L1228.2 926.1L1233.1 928.2L1236.9 931.3L1235.9 936.2L1239.5 932.8L1241.2 930.7L1239.7 927.3L1238.4 923.1L1238.1 917.5L1239.4 912L1239.7 907.8L1242 902.7L1247.4 904.5L1248.6 900.7L1248.6 896.6L1251.4 890.9L1252 886.1L1250.7 882.1L1248.5 877.7L1251.9 874.3L1255.9 872.5L1257.8 867.6L1262.1 865.2L1266.4 861.8L1268.1 860L1271.1 857.6L1267.4 858.8L1263.8 856.4L1258.7 856.7L1253.3 856.3L1248.5 854.9L1243.2 851.3L1240.1 846.7L1237.6 844.8L1233.5 841.8L1231.3 837.8L1233.5 834.5L1237.2 832.2L1241.3 834.6L1244.8 834.3L1250.7 835.5L1256 839.3L1262.1 841.5L1265.9 842.3L1269.9 842L1275 843.5L1280.3 842L1285.7 843.5L1286.9 846.5L1291.8 850.3L1291.1 846.7L1291.2 843.2L1286.8 840.3L1279.9 838.9L1276.9 837.3L1271.8 837.4L1269.1 837.7L1262.8 836.8L1258.7 835.4L1255.1 831L1251.8 832.3L1245.8 829.2L1244.9 825.3L1247.8 821.4L1246 816.4L1243.9 814.6L1239.1 810.9L1236.1 808.7L1235 805.4L1235.2 801.6L1233.9 796.6L1234.1 793.3L1228.3 790.8L1224 790.1L1220.9 785.2L1218.5 782.5L1214.8 776.8L1213.5 773.1L1211.2 768.3L1210.6 764.1L1205.7 762L1202.9 758.5L1199.2 754.9L1194.9 753.1L1196.7 748.9L1198.8 745.6L1201.8 742.8L1200.5 737.5L1199.6 734L1203.2 731.9L1205.3 727.8L1209.8 728L1212.9 726.8L1218.8 728.1L1224.3 729.8L1224.1 724.1L1223.7 718.3L1222.7 712.2L1219.7 708L1219.6 705.2L1221 700.8L1215.8 697.2L1210.3 695.9L1209.3 690.7L1207.9 687.5L1209.5 684.9L1212.1 679.8L1212.3 675L1215.5 670.5L1219.9 666.7L1214.5 666.1L1210.6 664.4L1207.6 661.7L1204.3 657.7L1200.9 653.6L1198.2 650.7L1193.7 653.4L1187.5 653.7L1185.2 653L1181.8 651.5L1180.2 649.1L1175.9 645.4L1174 642.4L1171.6 636.5L1168.4 633.1L1167.7 629.7L1166.1 625.8L1165.4 621L1162.3 618.6L1157.3 618.7L1150.6 615L1148.2 610.7L1143.3 607.2L1142.7 601.6L1143.2 597.4L1137.3 595.9L1133 596.1L1128.9 596.8L1125.1 594.9L1119.4 594.6L1115.5 595.3L1110.9 594.8L1109.9 590.1L1110.8 584.6L1108.3 587.4L1104.1 588.4L1099.7 590.5L1093.9 589.9L1089.7 587.9L1085.9 586.5L1084.4 583.1L1079.5 581.3L1075.7 580.5L1073 576.2L1068.6 575.2L1064.1 570.6L1063.4 569.4L1058.6 565.1L1052.9 565.5L1048.9 564.4L1045.7 562.3L1040.2 559.5L1041.4 554.5L1042.5 547.3L1046 544.2L1049.8 543.6L1052.2 542.5L1055.3 546.4L1058.1 548.9L1061.2 550.5L1066.3 549.7L1068.6 550L1073.4 550.8L1075 554L1077.5 556.9L1079.9 552.3L1083.6 548.1L1086.1 546.7L1089.9 543.8L1087.5 539.2L1086.3 536.3L1083.9 530.5L1083.8 527.7L1084 523.6L1088.6 523.3L1093.1 523L1097.8 520.2L1102.2 519.7L1107.1 519.8L1110 518.2L1115.8 514L1122.4 511.5L1125.6 509.4L1128 507.2L1132.1 508.2L1137.9 510.4L1140.6 510.4L1147.1 511.3L1151.4 511.6L1156.8 513L1160.3 509.7L1162.3 507.2L1164.9 503.2L1169 501.1L1171.5 499.2L1171.1 494.3L1169.9 490.2L1168.9 484.6L1171.9 482.3L1175.2 481.2L1178.6 477.6L1183.4 476.3L1188.4 470.8L1190.8 471L1194.6 466.4L1201 463.2L1205.6 462.3L1208.7 461.1L1212.9 459.5L1218.6 459.4L1216.3 465.3L1218.2 471.4L1216.3 475.2L1213.4 480.8L1214.1 483L1213.5 491.4L1210.3 494.2L1205.4 500.2L1202.5 502.6L1199.3 507.1L1196.4 510.2L1188.9 510.7L1185.6 513.1L1181.6 514.4L1176.1 516.3L1174.3 517.1L1169.4 521.4L1164.9 523.8L1158.1 526.1L1155.4 529.5L1153.2 531.9L1150.6 534.4L1154.8 533.3L1161.7 529.6L1168 529.2L1172.8 526.2L1171.6 530.1L1172 535.1L1176.3 537.5L1183 538.6L1186 533.5L1190.8 533.6L1196.6 527.5L1199.4 525.4L1203.2 527.8L1209.8 528L1214.7 528.3L1216.8 531.7L1220.9 537.5L1226.3 538.8L1230.7 540.5L1233.3 545L1239.3 547.4L1242.7 549.4L1245.2 552.4L1248.8 554.4L1253.7 555.4L1259.3 554.2L1265.4 556.3L1271 554.3L1274.8 552L1280.9 551.8L1284 551L1290.7 552L1294.2 551.4L1300.5 552.4L1306.6 553.9L1306.4 549.4L1304.6 545.2L1303.6 542.2L1300.6 537.7L1298.3 535.2L1296 529.5L1294.7 526L1294.9 520.7L1293.7 515.1L1296.7 512.6L1303.1 509.1L1305.7 508.1L1310.3 504.3L1312.6 502.2L1316.1 497.5L1321.3 496.9L1328.2 498.3L1333.1 495.9L1337.9 497.5L1344.9 496.9L1349.1 496L1355 497.2L1358.3 496.4L1363.7 500L1369.7 498.5L1376.1 501.1L1378.1 506.3L1382.3 509.8L1388.1 511.7L1392 512.8L1395.4 512L1399.5 512.8L1404.1 513L1408.9 513.9L1415.6 515.1L1418.2 518.4L1421.7 519.9L1424 515.4L1421 512.5L1421.4 505.1L1422.2 501L1425.3 497L1431.2 493.6L1435.4 496.6L1438.7 499.6L1444.1 502.7L1446.3 505.7L1450.8 509.8L1444.7 512.2L1440.7 515.2L1436.4 515.5L1433.7 517.6L1435.3 520.7L1438.4 525.8L1440.3 529.8L1436.5 531.9L1431.5 533.2L1432.8 538L1433.3 541.2L1434.9 545.9L1439.5 550.6L1439.4 557.6L1446 557.4L1451.2 556.5L1445.9 558.5L1444.4 558.8L1439.1 559.5L1444.2 563.4L1445.5 564.8L1451 568.8L1454.9 570.1L1459.5 574.1L1462.2 577.3L1465.4 579L1467.3 574.4L1468.1 568.8L1464.6 563.8L1461.6 561.4L1460.1 558.3L1457 554.6L1457 548.8L1455 543.3L1460 547.3L1463.8 548.1L1468.2 553.6L1474.4 556.6L1478.8 558.4L1479.7 554.4L1480.9 548.8L1481.1 545.9L1482.7 540.5L1481.2 536L1483.3 532.1L1487.1 531L1490.2 530.8L1490.9 525.4L1495.5 526.3L1499.2 525.3L1503.6 527.2L1507.9 530.7L1512.4 532.6L1517.6 535.3L1521.5 537.5L1526.8 539.6L1531.2 544.3L1533.6 547.4L1539.7 551.8L1542.3 556.8L1545 558.5L1545.1 563.5L1550.1 569.2L1551.6 572.3L1554.8 575.2L1556.5 579.9L1558.6 582.3L1561.1 587.9L1565 591.4L1567.7 598.7L1568.3 601.7L1572.8 604.9L1569.1 608.2L1569.1 612L1572.9 617.6L1573.2 620.2L1575.4 623.4L1576.8 629.7L1580 632.3L1583.1 635.7L1587.5 638.8L1588.2 634.5L1590.4 630.2L1592 623.3L1591.3 619.3L1589.7 613.8L1592.3 608.8L1592.5 602.8L1596.6 602.4L1598 608.9L1601.4 610.4L1603.7 617.2L1604.7 621.1L1607.7 625L1609.5 629.1L1610.2 634L1613.4 639.4L1611.7 641.9L1611.9 649L1611.4 654.4L1614.2 659.1L1614.4 661.9L1613.3 666.1L1615.1 670.9L1615.5 673.7L1614.8 678.4L1614.4 681.7L1614.3 685.3L1618 687.6L1620.9 690.8L1621.9 693.7L1624.1 693.3L1624.1 687.2L1624.7 681.5L1623.6 675.6L1623.4 671.8L1621.8 668.6L1622 664.7L1622.1 659.2L1621.6 655.4L1621.7 652.3L1622.5 652.1L1622 648.3L1621.3 645.4L1622 650.1L1623.1 653L1625.8 658.9L1625.6 663.9L1627.8 666.8L1626.7 671.2L1627.7 674.6L1627.6 679.9L1626.7 683.1L1626.6 689L1627.4 694.7L1626.7 700.7L1625.1 702.9L1621 699.6L1616.9 701.2L1615.8 706.1L1613.3 710.3L1610.7 715.4L1611.2 718.8L1614.8 724.3L1614.4 731L1614.5 736.2L1614.8 742.3L1609.5 740.8L1606.5 746.2L1604.5 750.4L1604.1 755.3L1601 761.6L1598.8 763.6L1596.1 766.3L1596.7 771.8L1597 778L1596.5 781.4L1597.1 788.4L1598.4 791.6L1598.8 794.9L1600.9 802.8L1599.2 803.6L1599.6 809.8L1603.1 814.5L1602.6 817.8L1603.5 822.4L1604.4 828.4L1604.7 832.8L1607.3 840.7L1608.1 844.6L1609.6 848.5L1609.3 853L1610.3 857.1L1609.8 861.8L1608.4 866.9L1610 873.2L1615 876L1618.6 879.5L1619.9 882L1619.7 885.6L1620 890.8L1620.1 895.4L1620.6 898.4L1619.8 902.3L1617.6 906.3L1616.4 911.4L1613.4 914.1L1610.5 916.9L1609 922L1605.1 925.3L1602.9 926.2L1599.3 928.6L1594.3 933L1591.5 936.1L1588.8 937.4L1584.4 938.8L1581.3 937.5L1577.8 937.7L1574.5 938.6L1576.4 942L1574.6 948.6L1574.8 953.3L1572.1 956.9L1570.7 959.3L1565.1 962.2L1563.3 966.3L1563.8 962.9L1564.1 958.9L1563.1 963.5L1559.5 967.5L1556.5 970.4L1552 974.5L1547.6 978.3L1544.3 981.6L1542.6 983.9L1539.3 990.8L1538.9 993.1L1534.4 997.9L1533.7 1004L1532 1009.9L1527.3 1012.1L1526.6 1019.3L1524 1023.8L1520.7 1027.4L1518.7 1031.1L1514.5 1037.8L1512.3 1042.6L1510.9 1047.4L1507.3 1050.9L1502.5 1055.1L1498.2 1055.8L1494.8 1057.4L1494 1063.4L1488.5 1065.7L1486.4 1072.8L1481.8 1077.4L1476.9 1079.3L1472.5 1084.1L1469 1087.8L1463.4 1087L1460.2 1090.8L1454.7 1091.9L1450 1093.4L1447 1096.3L1443 1100.7L1442 1104.3L1440 1107.1L1443.7 1107.1L1447.4 1108L1454.1 1105.9L1458.4 1104.1L1462.1 1103.5L1466.8 1105.2L1468.2 1101.7L1470.7 1097.1L1476.5 1097.2L1477.1 1101L1480.1 1098.1L1484 1092.9L1486.7 1088.3L1488.5 1085.5L1492 1082.2L1494 1079.2L1493.5 1072.9L1496 1068.8L1495.9 1065.7L1496.8 1060.8L1499.2 1061.1L1502.7 1062.6L1505.8 1059.7L1510.9 1057.3L1515.7 1053.9L1518.3 1048.3L1522.6 1046.5L1525.9 1042.3L1527.3 1046.4L1526.8 1051.3L1525.9 1056.9L1527.6 1058.4L1526.8 1064.1L1526.4 1067.9L1525.4 1072.1L1522.7 1075.6L1519.8 1078.6L1518.6 1084.3L1517.4 1089.1L1514.1 1093.2L1514.6 1096.9L1512.1 1101.9L1506.9 1109.3L1504.9 1112.5L1503.7 1116.5L1497.7 1121L1496.4 1127.2L1492.8 1129L1493.1 1131.8L1488.5 1138L1484.6 1144.2L1482.5 1145.5L1475.6 1150.3L1473.9 1156.8L1472.4 1159.7L1468.8 1165.6L1464.9 1167.9L1461.1 1170.6L1459.8 1175.1L1454.9 1178.1L1451.9 1179.1L1446.5 1178.9L1443.2 1176.6L1436.9 1179.5L1431.8 1179.6L1427.1 1182.3L1420.5 1184.7L1420.1 1185.4L1415.8 1183.8L1409.3 1186.9L1403.3 1185.4L1398.6 1183.7L1395.7 1185.8L1389.4 1184.1L1385.3 1185.4L1380.5 1185.6L1378.1 1184.4L1373 1186.9L1367.2 1185.8L1363.7 1185.7L1358.8 1184.4L1357.9 1181.5L1358.2 1185.7L1357.9 1190.6L1354.6 1191.3L1351.9 1192.5L1348.9 1191.2L1345 1191.3L1340.3 1190.3L1337 1188.7L1334.7 1186.2L1338.2 1181.7L1341.8 1180.7L1348 1177.5L1348.3 1174.4L1349.2 1169.2L1349.9 1165.8L1348.9 1160.2L1347.7 1155.6L1347.3 1152.5L1344.6 1148.6L1343.6 1144.6L1339.2 1147.7L1333.7 1150.9L1330.1 1154L1328.4 1158.1L1325.2 1160.8L1321.7 1162.7L1317.3 1163.1L1312.8 1164.5L1307.4 1167.8L1305.3 1171L1301.6 1175.1L1297.9 1175.8L1294.5 1176.4L1289.9 1178.2L1284.3 1179.2L1281.5 1175.2L1279.7 1172.1L1274.7 1172.1L1271.2 1170.3L1268.6 1166.7L1272.5 1163L1276.1 1160.1L1280.6 1158.5L1285.6 1154.3L1283.7 1150.9L1280.5 1152.2L1277.3 1154.4L1275.3 1157.9L1272.2 1160.7L1269.8 1161.6L1265.6 1164L1260.1 1166.4L1254.7 1167L1254.2 1171.4L1252.3 1174.3L1247.8 1173.8L1244.9 1174.1L1244.5 1176.9L1245.3 1180.7L1250.6 1181.8L1255.3 1183L1258.2 1183.8L1256.4 1185.7L1253.3 1187.9L1253.7 1191L1253.6 1196.7L1251 1198.5L1245 1198.4L1243.1 1196.4L1240.2 1194.6L1237.4 1191.8L1233.3 1189.5L1229.5 1188.6L1226.6 1186.7L1224.4 1184.8L1220.9 1184L1220.2 1180.8L1219.3 1177.2L1215.2 1174.4L1209.2 1173.1L1204.7 1172.4L1199.5 1171.2L1195.8 1172L1192.4 1171.2L1188.4 1169.4L1183.7 1168.8L1179.3 1166.2L1176.8 1164.2L1171.3 1162L1167.7 1163.6L1163.3 1166.7L1164.1 1169.8L1165.6 1173.9L1170.9 1175.4L1174.8 1176.6L1176.9 1178.9L1180.8 1182.7L1184.9 1182.8L1190.1 1181.3L1194.2 1182.5L1195.1 1185.6L1198.9 1186.4L1205 1184.8L1210.5 1185.6L1215.2 1188L1214.4 1190.3L1208.6 1190.8L1203.8 1189L1202.2 1194.1L1204.4 1196L1207.2 1197.7L1203.9 1202.5L1201.1 1206.5L1198.7 1206.6L1198 1203.4L1197.8 1200.5L1196.8 1198.5L1194.7 1194.9L1191 1193.4L1187.9 1192.9L1185.1 1191.9L1181.6 1191.9L1174.5 1192.7L1170.1 1191.2L1164.7 1190.2L1159.7 1187.4L1156.7 1186.6L1154 1184.5L1152.3 1181.2L1150.8 1178.9L1145.4 1178.4L1142.1 1177.6L1136.9 1180.5L1132.2 1182.5L1128.3 1186.4L1123.6 1188.3L1118.4 1188L1114.9 1187.1L1111.1 1187.1L1107.8 1187L1104.1 1188.5L1101.6 1190.7L1102.2 1194.7L1102.7 1197.3L1098.4 1199.7L1095.6 1202.1L1091.3 1205.1L1085.4 1205.6L1081.8 1207.5L1081.3 1212.9L1077.2 1214.5L1081 1218.8L1077.9 1220.1L1074.9 1223L1071.8 1225.3L1068.8 1227.4L1063.9 1229.8L1061 1230.3L1055.9 1228.2L1051.1 1228.3L1045.1 1229.4L1041.3 1231.5L1037.8 1232.2L1034.7 1229.8L1030.3 1228.6L1025.6 1226.1L1022.2 1224.1L1016.3 1223.5L1010.4 1223.6L1010.7 1218.7L1012.6 1214.8L1007.6 1212.2L1010.5 1209.6L1012.5 1205.4L1013.3 1202L1015.9 1198.3L1016.3 1193L1015.7 1189.7L1013.5 1185.3L1018.4 1183.1L1021.9 1182.5L1026.2 1183.5L1030.2 1184.3L1035.3 1184.4L1039.2 1186.1L1044.2 1186.4L1049.3 1187.3L1054.7 1187.2L1058.6 1187.5L1061.4 1188.4L1066.7 1188.5L1068.6 1184.3L1070.5 1181.1L1071.8 1177.6L1072 1172.8L1068.9 1168.2L1066.1 1164.9L1063 1160.5L1059 1158.2L1054.1 1158L1051.3 1156.9L1048.4 1152.3L1051.9 1151.1L1057 1150L1061.1 1149.1L1065.5 1149.7L1069.2 1151.3L1069.1 1148.1L1068.1 1143.9L1071.9 1146.2L1076.4 1144.9L1080.8 1145.5L1084.9 1143L1088.9 1140.9L1089.8 1137.4L1089.3 1134.9L1094.4 1134.3L1097.8 1131.5L1101.1 1129.3L1103.5 1125.8L1104.7 1122.8L1107.1 1117.8L1110.7 1116.4L1114.3 1113.2L1118.4 1111.9L1121.1 1111.6L1125.3 1111.5L1128.4 1109.8L1128.1 1106.3L1129.2 1103.3L1127.4 1098.9L1124.7 1095.9L1124.9 1090.1L1123.2 1085.5L1126.9 1082.7L1129.5 1081.2L1132 1079.4L1134.4 1076.1L1133.9 1080.2L1134.5 1085.3L1137.8 1088L1136.2 1090.8L1134.5 1094.3L1133 1098.6L1135.7 1101.4L1141.6 1101.9L1143.3 1104.8L1145.8 1101.9L1149.9 1100.2L1155.3 1098.1L1157.5 1100.6L1160.9 1101.7L1165.6 1099.9L1169.4 1096.1L1172.1 1094.5L1175.7 1091.1L1180.7 1088.4L1183.8 1090.7L1187 1089.5L1189.7 1088.7L1192.6 1084.6L1193.8 1080.3L1192.5 1077.5L1189.5 1073.8L1189.2 1068.3L1190.2 1064.2L1190.7 1060.6L1196.5 1060.6L1200.9 1061.7L1203.8 1057.7L1203.5 1053.9L1201.3 1049.8L1197.9 1049.4L1195 1048.1L1193.3 1044.2L1197.2 1040.3L1201.3 1037.8L1205.8 1034.9L1209.9 1033.9L1212.7 1033L1217 1030.2L1220.5 1024.8L1216.5 1024.6L1212.1 1023.7L1207.9 1024.7L1204.5 1027.8L1199.6 1030.2L1196.9 1034.3L1193.3 1037.3L1189 1040.6L1184.6 1040.1L1180.1 1037.8L1177.8 1033.8L1176.8 1030.8L1175.4 1025.9L1173.3 1023L1172.9 1017.6L1175 1012.9L1175.1 1008.4L1176.8 1005L1178.9 1000.7L1179.7 997L1180.1 994.3L1176.9 992.9L1173.4 991.5L1169 995L1166 996.6L1166.3 1000.7L1167.7 1006.4L1166.2 1010.7L1166.2 1014.5L1164.5 1020.5L1160.6 1024.8L1159.2 1029.6L1158.3 1035.5L1158.4 1040L1160.4 1043.8L1164.1 1044.6L1167.6 1046L1169.5 1048.4L1170.9 1051.1L1169.9 1055.8L1166.8 1059.5L1165.1 1064.1L1164.4 1067.2L1164.4 1071.7L1166.4 1076L1165.2 1081.4L1161.3 1082.8L1157.8 1085.1L1157.4 1090.2L1153.4 1091.5L1150.9 1091.8L1148.9 1088.9L1148.4 1085.7L1146.4 1081L1142.3 1077.9L1138.7 1073.7L1136.7 1068.9L1134.4 1066.6L1132.2 1063.8L1130.7 1059L1129.7 1062.4L1127.2 1067.3L1123.5 1070.7L1120.6 1075L1116.9 1076.4L1114.6 1076.6L1111.7 1074.2L1107.8 1070.7L1105.1 1066.6L1104.8 1060.8L1104.5 1055.7L1103 1050.8L1104.3 1046.3L1104.5 1042L1107 1037.8L1110.5 1035.3L1112.9 1031.3L1116.4 1029.2L1119 1027.4L1122.2 1024.7L1124 1021.2L1124.9 1016.1L1126.9 1011.6L1127.7 1008.2L1128.7 1004.5L1130.2 998.9L1130.1 993.1L1131.1 988.5L1133.2 983L1136 979.2L1136.9 976.3L1140.1 970.6L1141.3 967.3L1143.5 964L1146.5 961.6L1149.9 958.6L1152.1 953.4L1155.8 949.1ZM1169.8 1334.2L1171.7 1333.7L1173.6 1333L1173.5 1332.3L1170.3 1332.4L1165.7 1333.1L1160 1335.6L1157.2 1335.3L1152.7 1337.2L1147.4 1335.7L1142.5 1337.3L1138.4 1337.6L1132.9 1336.6L1127.3 1337.2L1122.1 1336.5L1117.8 1336L1111.7 1337.7L1106.5 1339.2L1103.7 1337.6L1097.7 1336.3L1092.7 1339.7L1089.2 1338.5L1083.8 1337.4L1077.9 1337.3L1074.6 1339L1070.5 1339.6L1065.6 1340L1060.1 1339.2L1053 1339.1L1048.4 1338.4L1042 1339.4L1038.1 1339.2L1031 1337.1L1024.2 1338.4L1023.1 1338.4L1014.7 1334.7L1009.9 1333.5L1006.8 1335.1L1003.2 1335.4L997.6 1334.6L992.4 1332.5L987.3 1330.2L979.4 1327.9L975.4 1328L971.1 1325.4L964.1 1324.8L959.5 1323.6L955 1321.6L952.3 1320.5L950.9 1318.3L946.3 1317.4L942.7 1314.5L939.2 1313.4L936 1310.5L933.1 1308.9L928.3 1307.6L922.6 1305.4L922.4 1302.9L918.8 1300.4L916.9 1298.2L921.7 1298.7L926.9 1297.7L928.3 1295.6L930.3 1292.8L932.5 1288.5L929.8 1284.5L926.9 1281.6L929.5 1278.8L931.1 1277.2L935.4 1275.3L938.4 1274.5L940.7 1272.3L946.8 1273L949.8 1270.1L953.9 1268.1L956.6 1266.9L962.3 1266.6L966.5 1264.4L970.3 1264.5L975.9 1265.9L981.4 1264.8L985.1 1265.3L989.8 1261.8L995 1261.6L998.3 1257.3L998.4 1252.2L1002.6 1249.7L1005.9 1247.1L1009 1246.4L1013.2 1245.7L1018.8 1243.6L1023.5 1242.6L1027.3 1240.2L1030.4 1236.6L1032.9 1233.5L1037.7 1233.4L1042.4 1235.5L1047.6 1238.2L1052.9 1237.3L1056.4 1238.1L1060.7 1238L1063.5 1239.6L1066.7 1237.7L1072.8 1237.1L1075.5 1235.9L1080.3 1236L1085 1233L1091.3 1231.7L1096.6 1231.7L1102.6 1230.3L1106.8 1228.7L1111.4 1227.9L1115.9 1229.6L1122.4 1228L1128.1 1228L1131.4 1225.9L1137.8 1225.1L1144.8 1224.1L1147.8 1222.1L1155.2 1220.7L1159.5 1222.9L1164.7 1220.7L1164.5 1224L1162.9 1228.1L1164.6 1231.1L1167.4 1234.7L1164.7 1236.7L1161.4 1237.5L1166.7 1239.9L1169.3 1240.1L1172.9 1241.4L1176.2 1240.4L1181.1 1239.4L1185.1 1239.8L1188.9 1238.1L1196.2 1240L1197 1240.5L1203.2 1238L1205.3 1239.7L1208.6 1241.8L1215.4 1242.3L1219.5 1240.4L1223.7 1240L1227.5 1239.9L1232 1237.9L1238.2 1238.3L1240.6 1234.7L1243.4 1232.8L1242.4 1229.8L1241.7 1225.7L1247.2 1222.5L1251.5 1219.2L1255.9 1218.1L1258.4 1217.4L1263.5 1216L1268.8 1216.4L1276.7 1214.5L1280.7 1214L1286.2 1213.1L1290.8 1209L1296.3 1208.1L1302.5 1207.7L1307.9 1204.9L1312 1202L1316.3 1199.7L1318.8 1196L1321.4 1193.2L1325.2 1191.4L1328.9 1188.3L1334.7 1186.2L1338 1188.7L1340.3 1190.3L1341.6 1192.4L1347.2 1192.8L1352.2 1194.5L1355.6 1195.8L1359.2 1197.2L1365.4 1197.4L1371.2 1199.8L1376 1198.2L1378.8 1199.3L1382.6 1199.7L1388 1198.3L1392.1 1197.3L1395.5 1200.5L1398.8 1201.7L1403.2 1200.1L1410.1 1198.1L1415 1198.7L1421.6 1197.5L1427.4 1195.3L1428.7 1193.2L1434.2 1190.6L1438.7 1189.1L1442.8 1186.5L1447 1183.6L1451 1181.6L1453.6 1179.5L1455 1181L1459.7 1179.1L1464.7 1174.5L1467.5 1170.9L1472.3 1166.7L1475 1163.2L1480.5 1156.5L1483.1 1151L1485.9 1148.9L1487.9 1145.4L1493.2 1142.1L1495.9 1139L1498.7 1133.1L1501.2 1131.2L1505.3 1126.1L1506.7 1128.4L1506.3 1133.5L1503.6 1138.3L1500.2 1143.8L1498.4 1146L1496.2 1151.2L1491.8 1156.4L1491.9 1159.7L1487.4 1163.2L1484.4 1166.8L1480 1172.4L1477.2 1174.6L1476 1178.9L1471 1180.2L1467.7 1184.5L1464.4 1186.6L1461.9 1190.8L1457.2 1194.6M1283.4 1150.4L1279.8 1149.7L1274.8 1149.9L1271.4 1145L1271.9 1141.2L1272.7 1138.3L1271.7 1134.8L1271 1132.2L1271.8 1128.9L1274.7 1124.6L1274.8 1119.7L1275.9 1115.9L1277.7 1112.9L1280.2 1110L1283.8 1110L1287.8 1109.4L1291.1 1107.6L1293.8 1106.3L1293.2 1110.4L1291 1113.2L1294.6 1114.6L1300.1 1114.6L1304.2 1112.2L1304.6 1109L1308.5 1104.7L1311.3 1100.2L1313.5 1097.6L1306.5 1099.1L1302.1 1098.1L1306.1 1093.1L1309.1 1089.5L1311.1 1084.7L1314.8 1081.5L1317 1079.9L1320 1077.4L1319.5 1081.7L1319.6 1087.7L1319.7 1091.2L1318.4 1093.9L1316.4 1098L1320.2 1098.5L1325.4 1097.2L1331.5 1096.9L1337 1094.9L1343.3 1094.6L1348.6 1092L1353.4 1094.3L1357 1095.1L1354.6 1099.6L1353.5 1103.3L1349.1 1107.3L1344.6 1109.9L1340.3 1114.6L1336.3 1117.2L1331.3 1118.9L1326 1121.7L1321.3 1121.6L1317.8 1122.8L1313.3 1124.7L1308.8 1128.9L1304.7 1131.8L1300.7 1136.5L1296.8 1140.7L1293 1144.9L1288.3 1148.6ZM1368.4 1047.2L1368.3 1052L1370.1 1055.4L1375.5 1057.3L1380.9 1058.7L1386.7 1059.6L1391.6 1058.6L1396.6 1058.2L1402.2 1058.1L1405.6 1055.9L1407.5 1054.8L1407.8 1060L1407.5 1064.6L1407.8 1067.7L1409.6 1070.5L1413.5 1071.3L1416.7 1070.5L1419.9 1070L1424.2 1066.5L1427.8 1064.6L1432.3 1058.5L1434.5 1056.4L1436.5 1051.5L1437.3 1048.2L1438.8 1043.5L1434.4 1041L1430.5 1038.5L1427.7 1040.1L1424.9 1040.9L1421 1040.1L1418.1 1039.5L1418.9 1035.7L1419.9 1031.7L1416.6 1032.4L1411.9 1033.9L1405.9 1033L1402.2 1034.7L1397 1036.9L1393.5 1035.5L1390 1034.8L1386.8 1037.6L1386.7 1034.4L1386.5 1029.3L1389.1 1026.7L1390.3 1021.7L1393 1018.7L1389.3 1015.6L1386.5 1012.1L1383.5 1015.3L1379.9 1017.2L1376 1021.9L1374.2 1025.5L1373.1 1030.3L1369.9 1034.9L1368.2 1038.3L1368.1 1042.3ZM1407.6 983.6L1408.1 977.3L1414.2 973.9L1414.8 968.4L1419.7 969.6L1423.8 969.5L1426.2 974.4L1426.5 978.8L1427.4 983.5L1427.7 987.6L1425.4 990.3L1422.4 992.6L1418.1 989.8L1412.9 988.4L1410.5 985.9ZM1416.8 700.3L1416.8 696.3L1415.9 693.6L1411.3 689.8L1408.1 688.3L1405 686.8L1400.5 682L1395.7 679.8L1392.2 679.2L1386.6 676L1381.7 675.5L1378.1 675.6L1375.1 676.1L1377.3 679.9L1381.8 680.5L1387.1 681.4L1391.6 684.2L1393.9 684.6L1399.3 685.9L1402.3 687.8L1407.4 691.6L1411.2 695.5L1413.4 699.2ZM1455.2 893.8L1454.8 889.6L1450.1 885.4L1449.8 881.7L1451.5 878.9L1454 873.1L1453.7 868.9L1454.7 863.3L1456.6 859.3L1457.2 855.9L1458.6 859.6L1456.6 862.5L1455.1 869L1455.7 872.8L1455.2 879.4L1456.6 883.5L1457.2 888.2L1459.5 891.5ZM1222.6 1022.6L1224.7 1017L1228.6 1013.9L1226.5 1011L1223.7 1008.9L1219.8 1009.9L1214.9 1012.3L1214.7 1015.9L1215.9 1018.7L1219.6 1021.3ZM1234.9 1004.5L1236 1000.8L1236.3 998.3L1233.1 995.9L1229.4 992.6L1227.2 997.4L1229.9 1001L1232.7 1002.9ZM1043.9 1139.3L1047.2 1139.8L1051.5 1138.5L1055 1137.2L1057.8 1137.4L1061.4 1137.6L1067.1 1137.1L1072.2 1135.5L1074.8 1137L1079.5 1135.8L1083.1 1135.1L1088.1 1132.7L1084.4 1130.5L1087 1125.1L1089.6 1121.9L1085.1 1120.6L1081.3 1118.9L1080.1 1114.2L1076.8 1110.7L1073.8 1106.3L1071.6 1103.2L1070.7 1099L1067.5 1094.9L1063.1 1094.7L1066 1090.7L1067.3 1087L1069 1082.7L1065.4 1081.5L1061.3 1080.6L1057.6 1081.2L1060.2 1078L1063.2 1073.3L1059.7 1073.6L1054.1 1072.6L1052.7 1075.5L1050.9 1079L1048.9 1084L1048.6 1087L1049.4 1092.3L1049.3 1096.1L1050.7 1099.2L1052.7 1102L1057.1 1103.3L1059.9 1103.3L1061.3 1106.6L1062.3 1110.6L1061.5 1115.3L1057.2 1116.2L1053.3 1115.5L1053.4 1119L1054 1121.8L1051.3 1124.6L1048.2 1126L1054 1127.4L1058.3 1129.8L1061.2 1131.5L1056.6 1131.7L1053.8 1132.6L1048.7 1136.2ZM1043.7 1123.2L1044.2 1119.7L1043.4 1114.6L1044 1111.2L1046.6 1106.2L1045.5 1103.5L1043.4 1099.5L1039.4 1098.5L1035.1 1098.4L1033.8 1101.5L1031.5 1103.5L1027.5 1104.9L1022.7 1104.5L1022.7 1107.4L1023.2 1111.8L1024.6 1117.6L1021.4 1120.3L1017.8 1121.9L1022.1 1125.7L1026.1 1125.9L1031.4 1124.8L1037 1123.7L1040.6 1123.7ZM985.1 1010.5L989.9 1014.2L994.2 1016.9L998.2 1017.7L1002.4 1019.7L1006.4 1019.7L1013.1 1017.6L1016.8 1016.7L1019.5 1015L1023.9 1012.1L1024.1 1007.2L1022.9 1005.1L1022.1 999.7L1019.8 998L1016.2 996.2L1011.9 997L1007.6 997.3L1002.8 996.6L999.3 997.1L996.8 994L995.7 990L991.1 991.3L987 992.2L989.5 995.3L992.3 998.3L986.9 997.7L983.1 999.1L987 1002.9L988.7 1007.3ZM1098.6 880.6L1103.4 878.5L1107.9 875.3L1113.7 876.4L1115.6 880.3L1119.3 883.5L1115.8 887.9L1117.1 891.9L1116.9 897.6L1116.9 901.8L1116.3 906.7L1112 904L1109.3 898.6L1106.6 895.5L1102.3 893.4L1100.2 889.1L1100.2 884.8ZM1108.9 873L1112.5 869.8L1115.5 867.4L1119.8 867.7L1123.1 868.1L1123.2 872.8L1121.3 876.4L1117.4 877.9L1112 877ZM1218.5 892.7L1216 888.4L1214.3 886L1211.2 879.6L1209.5 875.2L1205.5 870.8L1204.1 870.2L1201.1 866L1199.3 862.8L1197.5 857.7L1197.6 851L1195.3 846.7L1195.2 841.1L1194.3 836L1195.2 833.2L1197.5 828.5L1199.5 831.6L1202.2 834.6L1203.9 840.5L1205 843.1L1205.3 848L1206.8 850.7L1209.8 856.9L1209.8 859.3L1212.5 862.4L1216.5 868.1L1218.7 872.1L1222 876.8L1227.8 879.9L1232 878.6L1235.3 881.8L1234.1 885.8L1231.6 889L1226.5 891.3L1222.8 893ZM1185.8 773.2L1179.5 769.8L1178.3 771.6L1173.6 767.3L1168.5 766.8L1173.1 764.8L1175.5 759.9L1181.1 757.2L1184.6 757.4L1189.6 759.3L1194 762.3L1190.5 764.9L1189.2 768.2ZM1175 680.1L1171.6 677.6L1165.4 678.5L1162.8 675.9L1159.7 672.3L1157.8 666.5L1155.3 663.6L1150.9 658.8L1153.8 660L1157.8 662.9L1163 663.2L1167.7 665.8L1170.1 667.3L1173.7 670.2L1175.2 675.1ZM1084.3 600.6L1080.6 602L1076.4 605.2L1071.6 602.5L1074.2 599.8L1077.9 598.7L1081.4 599.7ZM1149.5 845.5L1149.1 840.7L1150.2 833.9L1151.1 829.1L1152.7 824.8L1155.8 824.7L1160.1 825.4L1160.7 830.3L1159.2 836.2L1156.2 840.9L1154.6 845.5ZM1439.7 482.4L1442.2 479.8L1445.4 475.5L1441.9 473.3L1440 469.1L1433.8 470.1L1429.8 469.3L1426.7 473.1L1426.5 469.3L1425.7 466.4L1422.9 464.2L1420.1 462.7L1416.3 459L1413.5 456.6L1408.9 456.5L1406 456L1405 453.1L1404.5 448.3L1401.2 448L1395.6 445.9L1392.1 444.9L1387.6 441.5L1386.8 438L1382.2 436.7L1379.1 434.3L1375.1 432.8L1371.8 431.2L1366.7 431.7L1364.1 433.3L1360.5 435.6L1355.8 436.3L1352.6 439.2L1349.5 440.9L1345.1 442.6L1344.1 446.1L1344.1 449.8L1344.4 452.8L1343.4 456.6L1347.4 457L1351.1 458.8L1354.8 454.5L1358.4 452.8L1363.6 449.8L1369.4 448.8L1374.1 449.5L1376.3 452.1L1380.3 456.6L1385.5 456.6L1390.2 456.5L1394.4 456.4L1398.4 459.3L1403.7 463.9L1408.2 468.1L1413 471.1L1415.9 474.3L1418.9 474.7L1424.4 477.7L1427.6 479.9L1429.8 479.1L1435.3 479.6ZM1347.5 460.8L1344.2 460.7L1339.7 461.2L1340.4 465.8L1339.8 469L1334.3 468.8L1330.5 472.7L1323.3 474.9L1322.5 468.8L1319.4 464.1L1314.2 461.8L1310.9 455.7L1307.3 453.6L1308.4 450.6L1309.9 447.2L1313.8 449.2L1320.2 451.2L1323.9 450.3L1327.8 449.4L1329.4 453.6L1334.4 457.6L1336.1 460L1338.9 459.8L1342.3 459.1ZM1318.6 476.5L1312.5 476.3L1307.1 474.9L1303.2 481.2L1304.3 484.7L1300.2 489.6L1296.4 486.8L1292.5 483.9L1291.8 487.5L1292.6 493.8L1289.7 500.4L1285.5 503L1282.7 509.8L1280.5 512.8L1277.5 516.7L1276.7 522.7L1280.8 521L1284.2 520.5L1286.9 516.5L1292.3 512L1295.4 507.9L1298.7 502.1L1300.7 499.4L1305.1 496.2L1305.2 490.2L1309.8 487.7L1312.7 484L1314.9 478.9ZM1513.1 522L1510.9 517.2L1509.1 514L1513.1 514.9L1516.6 514.6L1520 516L1524.7 517.1L1524.9 519.9L1524.2 523.7L1521.5 524.6L1517.8 524.3ZM1579.2 613.3L1576.9 609.6L1576.2 606.4L1573.1 602.8L1571.8 599.3L1570.8 593.9L1576 596.9L1578.8 600.6L1578.7 604.9L1581.3 609.7ZM1536.3 513.4L1533.3 510.8L1532 506L1528.1 500L1533 496.9L1537.1 499.2L1539.9 500.4L1537.4 495.8L1537 491.1L1536.6 488.2L1532.2 482L1531.1 477.9L1533.3 482.1L1534.8 486.8L1537.5 489.3L1539.8 494.8L1542.6 498.7L1543 502.1L1545.3 507L1546.1 510.7L1545.3 513.6L1541 512.8ZM1550 488.5L1548.5 485.2L1544.8 482.4L1540.5 477.4L1539.1 471.6L1534.9 468.9L1531.9 465.2L1527.9 462.6L1526.4 458.9L1524.5 453.2L1528.8 456L1531.2 458.2L1533.2 461.2L1535.5 464.6L1538.9 467.8L1539.7 472.1L1541.5 476.8L1543.2 480.8L1546.9 484.7ZM1529 467.8L1523.8 465.6L1527.6 469.5L1529.3 473.4L1532.5 471.2ZM1544 492.2L1541 488.1L1538.9 484.2L1539.6 480.3L1542.1 482.6L1544.5 486.3L1545.6 491.2ZM1571.4 529.7L1566.2 523.7L1563.3 520.6L1559.5 515.6L1556.6 512.6L1556.1 510.6L1558 514.8L1564.9 519.1L1567.2 523.5L1570.3 527ZM1608 600.5L1606.3 596L1603.5 592.1L1602.7 587L1601.1 582.3L1599 577.9L1597.5 573.3L1594.4 568L1593.1 564.5L1590.2 560.2L1588.5 555.9L1585.9 551.8L1582.3 546.7L1581.7 543L1579.5 537.3L1575.2 533.2L1573.8 529.6L1572.2 526L1569.5 523.2L1567.7 518L1566.4 512.6L1568.3 515.7L1571.7 520.8L1573.8 523L1572.8 520.2L1573.9 521.8L1575.3 524.4M1622.4 649.2L1624 652.8L1624.2 656.8L1623.6 661.1L1625.9 667.1L1627 671.1L1626.5 674.9L1630.3 681.5L1629.5 685.5L1628.9 689.8L1630.1 695.8L1631 700.1L1631.5 705.8L1631.4 709.8L1633.4 715.2L1633.6 721.5L1634.2 725.7L1633.5 731.1L1634.5 725.8L1633.7 719.4L1634.8 714L1634.4 709.4L1632.9 706.7L1632.9 702.1L1631.7 697L1631.3 693.1L1630.3 687.4M1622 878.2L1624 873.9L1625.9 867.1L1627.4 864.3L1628.7 861.6L1629.2 866.3L1628.6 869.5L1628.1 874L1627 879L1624.1 881.5ZM1563.6 503L1563.6 503L1561 498.7L1558.5 494.7L1557 489.6L1553 486.6L1550.4 481.4L1548.2 478.1L1546.8 475.6L1542.8 469.7L1538.6 465.1L1537.2 462L1540.2 465.9L1541.7 470.2L1545.9 472.5L1548.3 478.1L1552.8 481.4L1555.1 487.8L1558.1 489.1L1558.6 494.6M1031.5 556.6L1028 555.5L1023.5 550.7L1021.5 549.8L1018.4 550.2L1015.2 550.6L1012 552.9L1005.9 555.2L1001.2 555L999.8 550.8L998.3 546.7L1003.4 543L1007.7 540L1009.9 536.8L1012.7 533.2L1013.4 529.5L1015 523.7L1012.1 520.2L1008.3 516.6L1001.7 514.7L997.3 513.6L993.7 511.2L990.5 508.7L985.9 511.1L982.3 510.9L975.7 512.2L971.9 513.4L968.4 514.2L967.2 509.4L963.6 505.4L965.4 502.7L966.1 497.6L968.9 494.5L973 492.4L974.4 487.3L977.2 485.4L981.2 482.8L983.8 480.5L985.8 475.9L991.1 472.7L994.6 470L988.5 471.6L985.1 475L980.4 477.6L976.5 479.6L975 483.8L971.8 486.5L968.6 491.3L966.9 491.7L963.9 496.4L961.4 501.2L958.8 504.8L957.3 508.1L953.6 511L953.9 515.3L950.7 518.5L951.8 522.2L952.2 527.1L951.5 531.4L950.1 535.8L950.3 539.5L949.6 544.1L948.9 547L945.2 547L941.1 547.5L938.3 541.2L937.6 536.8L935.1 540.1L931.4 545.5L929.5 550.1L929.9 556.5L925.3 556.7L920.6 555.6L916.6 558.8L910.2 558.2L907.4 562.3L903.5 563.9L898.2 566.5L893.1 567L886.9 568.5L881 568.1L876.7 568.8L871.4 569.4L868.7 567.2L864.2 567.2L858.4 566.9L852.8 567.3L845.8 568.7L841.2 568L837.1 570.8L832.7 571.7L828.6 570.4L824.8 568.8L818.3 568.4L813.2 570.7L810.3 570.9L804.1 570.3L800.4 568.3L796.6 570.1L790.6 575.5L785.2 576.4L781.3 578.9L776.8 578.5L773.7 580.1L771 579.6L767.6 580L770.5 576.6L774.4 571.2L769.7 570.9L764.2 567.4L760.5 567.3L756.1 563.7L754.3 561.4L749 559.5L745.1 554.1L741.1 550.8L736.8 547.9L731.9 544.4L727.9 543.6L722.1 543.3L718.1 541.5L712.1 542.5L707 545.2L702.9 544.9L699.9 545.3L694.8 544.9L691.9 546.9L687.1 548.6L682.6 548.7L677.7 553.7L674 556.2L672.2 561.4L669.5 562.2L664.6 566.4L661.1 567.5L657.6 567.9L653 569.8L647.3 572.5L642.6 574.1L638.4 577.8L634.2 580.1L631.4 581.1L631 577.7L630.6 575.1L627.6 576.8L625.4 580L621.9 583.5L619.9 586.5L615.1 588.3L612.4 591.9L607.9 591.9L605 595L602.9 598.8L598.3 604.5L596.4 607.7L594.5 610.7L599.8 609.8L602.3 608L606 605.1L609.6 602.1L613.4 599.2L616.4 596.1L620.4 595.2L624.4 593.4L630.1 589.9L633.2 588L636.2 585.3L641.2 582.8L644.2 582.9L647.8 583L644.3 586.5L641.9 592.2L637.1 592.9L633.2 594.9L628.4 598L625.3 599.6L622.4 602.5L620.5 606.7L617.2 610.4L612.7 612.6L608.2 614L605.3 616.4L601.4 620.1L600.7 622.3L597.7 625.9L594.1 630.1L591.8 632.3L588 636.9L584.8 640L580.1 644L574.9 642.6L571.9 645.6L568.4 650.3L564.7 656.4L565.4 659.8L560.4 661.1L560.5 667.4L557.3 670.5L556.2 675.7L553.4 679.8L553.9 685.1L553.2 688.2L552.8 694.4L551 697.6L548.9 703.2L547.5 708.6L546.1 710.2L547.2 718.2L544.8 721.6L543.7 724.3L546.1 731.5L542.4 734.6L544.4 740.4L542 746L541.5 751.1L541.6 754.3L540.9 757.5L539.3 763.2L537.3 768.3L538 774.5L535.6 776L538.2 782.2L536 787.2L537.5 793.7L536.6 800L535.5 804.3L534.3 806.3L534 811L533.1 815.9L531.7 820.2L531.9 823.7L530.5 825.7L530.2 830.6L531.9 834.1L530.4 840.2L531 844L530.5 849.9L531.7 855.8L530.6 859.7L532 864.3L533.4 869.5L532.6 874L534.6 878.6L536.5 883.1L537.2 888.2L537.8 894.7L537.3 898.3L538.4 902.5L537.3 902.7L536.3 904.9L535.6 906.1L534.1 901.1L532.7 896.8L532.2 893.8L531 889.1L530.5 884.7L529 879.6L528.8 878.6L528.7 883.4L531.1 890.2L534.1 895.6L532.6 903.8L533.2 908.3L535.4 915.2L537.8 920.8L537.6 926.2L541.1 931L543.4 938.4L542.3 941.8L545.1 947.2L545.6 953.2L548.1 960.8L551.1 963.8L552.5 971.1L554.8 975.4L555.6 980.3L561.8 989.1L560.1 994.5L566.3 999.4L564.8 1004.6L568.7 1008.8L571.6 1013.4L575.8 1021.7L577.1 1028.3L579.8 1030.7L580.8 1035.6L582.6 1043.7L588.9 1046.9L588.9 1053.6L594.8 1060.1L594.8 1064.7L600.7 1069.7L601.6 1072.4L606.9 1078.1L608.1 1084.1L611.4 1090.4L614.1 1091.9L618.9 1099.5L623.5 1104.7L627.3 1110.7L629 1113.5L631.1 1117.5L636.6 1121.3L640.8 1126.4L643.4 1134.6L645.6 1135.2L651.3 1141.8L648.3 1137.9L645.5 1134L643.3 1129.5L640.3 1124.4L638.6 1119.7L635.1 1117.4L633.8 1115L630.8 1109.1L625.8 1106.1L624.1 1101.4L621.4 1097L617.9 1093.1L616.6 1090.8L613.3 1085.3L612.3 1079.8L607.9 1076.5L606.4 1072.4L604.7 1067.4L601.5 1062L600.7 1058.9L598.3 1054.3L598.8 1051.3L595.4 1045.3L594.7 1041.9L592.3 1036.1L591.5 1032.4L588.6 1026.3L585.2 1023.6L584 1019.7L580.4 1015.1L581.4 1010.3L577.5 1006L576.5 1000.6L573.5 998.7L570.5 991.1L571.1 987.9L570.5 983.1L566.6 979.4L566.5 974.4L565.9 969.4L563.2 965.3L561.3 960.6L558.8 956.7L561 954L558.6 949.9L557.6 947L557.2 942.8L552.8 939.4L552.4 933.6L550.2 928.5L549.7 925.1L548.2 921.9L546.3 919L544.5 915.9L542.1 911.5L541 906.8L539.6 903.5L539.6 900.2L539.4 894.8L538.4 890.6L538.3 887.7L537 884.3L536.3 879.1L535.1 873.6L534.8 868L533.3 864.1L534 859.8L532.6 854.5L532 850.4L533.4 844.7L536 842.5L540.8 845.8L543.3 846.4L543.2 841.3L545.2 838.4L544.1 834.1L544.7 828.1L544.4 823.2L543.2 820L541.9 814.9L540.8 811L542.1 806L541.4 800.3L542 795.6L546.6 799.2L549.2 802.9L554 805.4L557.1 808.4L559.5 811.6L560.8 806.4L560.1 800.6L561 795.7L560.6 791.9L556.7 786.1L557.6 779.8L554.8 778.3L552.6 776.1L551.4 773L549.6 768.6L548.3 763.6L550.5 760.9L549.8 754.7L550.6 748.6L550.3 744.1L550.1 740.8L551.2 737.8L550.9 734.2L553 729L555.3 725.6L556.9 723L559.5 718.6L563.8 714.6L567.2 713.7L569.7 712.7L573.2 714.3L579 718.4L582.5 719.6L587.7 719.5L588.1 723.6L589.8 727.9L591.9 731.2L592.3 734.5L594.8 740.1L594.5 744.3L595.2 749.5L596.2 751.4L595.1 757.1L593.9 760.2L593.8 766.7L593.1 769.8L593.5 772.6L591.1 779.2L591.5 782.5L591.3 785.3L590.6 788.5L596.4 788.4L596.7 793L597.2 799.3L598.5 803.2L599 808.1L598.3 811.9L595.8 816.7L595.6 822.3L596.1 827.8L597.9 831.4L596.2 835.5L594.2 842.1L591.1 843.5L589 845.3L586.5 848.9L584.1 852.1L582.2 855.2L580.8 858.8L580.2 863.4L583.6 868.2L588.8 868.1L590.9 865.1L595.2 861.8L597.7 857.8L601 855.7L604.6 856.5L608.5 855.4L610.6 857.9L614.8 861.9L618.1 865.5L620.6 870L622.5 874.5L625.7 879L628.3 883.8L632.2 888.2L635.4 892.6L638.5 894.9L642.7 892L645.2 890.8L648.5 889.7L651.7 887.6L654.2 891.6L655.4 894.6L660.1 897.3L664.3 899.2L667.3 899.1L670.9 899.7L674.8 905.6L677.1 909.4L681.6 914.6L683.6 918.8L685.4 922.4L687.9 925L690.3 921.7L691.8 918.3L695.6 918.3L699 918.7L702.3 922.2L705.4 926.1L706.8 929.4L710.7 935.4L714.4 937.5L717.3 939.7L720.3 942.4L722.4 946.2L725.9 951.2L720.7 948.3L715 949.1L712.2 946.1L711.1 950.4L714.3 952.6L718 954.5L721.1 957.3L722.9 958.7L726.6 963L731.7 967.2L734 970.1L739.8 973L743.2 976.7L745.6 972.2L746.1 967.3L740.2 961.9L738.2 961.1L733.9 954.8L733.8 950.5L734.5 944.8L737.4 943.3L740.5 940.6L740.1 936.6L743.4 932L743.2 928.7L739.6 923.8L736.5 921L734.9 918.3L731.4 915.5L726.3 913.4L722.6 912.4L727.7 915.8L732.6 914.6L737.8 919.6L741.5 919.1L746.7 921L751.4 925.2L755.1 931.8L755.5 933.4L757.4 940L761.3 944.6L765.1 949.4L767.6 951.6L767.2 958.1L770.3 961L776.3 962.9L781.5 965.1L785.7 967.1L787.4 969.8L792.5 972.5L796.4 971.2L802.5 969.3L802.4 964.3L803.9 958.6L804.2 954.5L804.4 948.3L806.3 945.6L805.3 940.8L808.5 935.3L809.1 933.3L810.5 928.6L813.8 924.1L817.9 921.6L818.6 916L823.4 911.8L825.8 909.3L826.8 905.8L828.4 903.3L829.9 900.5L825.6 900.8L821.3 899.4L816.5 899.6L812.5 895.5L807.2 892.5L808.6 887.5L809 881L813.7 879L817.7 879.5L820.8 876.6L822.3 872L824.2 870.1L825.8 864.9L825.4 859.1L827.3 856.9L828.3 852.2L828.8 847.1L829.3 842.1L827.5 838.4L823.9 837.3L817.3 837.6L814.4 838.8L809.6 840.9L806.6 843L801.3 840.8L795.7 840.2L793.7 843.1L787.5 845.8L785.2 850.4L780.9 853.5L775.3 854.4L769.4 850.3L767 848.7L761.4 847.2L758.1 845.2L752.6 843.1L748.7 845.6L744.2 848.9L740.6 847.5L735.8 846.2L736.5 842.3L738.1 836.6L739.6 834.2L742.1 831L746.1 827.6L750.9 828.3L754.8 826.4L761.8 825.5L762.1 821.9L764.9 815.7L764.1 810.1L764.5 804.7L766.5 801.3L768.1 796.1L771.2 793.3L773.8 789.2L774.1 786L776.7 779.9L775.2 774.7L775.3 769.2L779 768.3L787 763.6L790.6 762.3L796.4 761.7L800.9 759.6L804.3 761.3L809.1 765.4L813.3 766.2L815.5 771L820.7 774L824 778L828.5 781.2L832.7 782.5L833.9 787.2L836.5 790.4L839.1 793L844.8 793.1L849.3 797L852.6 796.4L853.8 798.5L855.7 802.1L853.9 807.1L853.8 810.2L856.8 813L862 813.7L867.9 814.1L871 811.8L877.3 810.3L881.1 810.4L882.6 807.9L885.8 804.1L887.2 799.3L884.7 795.2L878 795.2L874.8 791.4L870.7 789.7L865.7 790L869.6 786.5L873.2 783.6L877.4 782.5L879.7 781.6L883.8 779.1L887.7 777.8L891.6 773.8L897.8 771.4L901.7 768.4L907.6 765.9L901.5 766.7L896.7 766.9L893.7 764.1L889 765.8L883.4 764.2L880.5 762L873.9 760.9L872.5 758L872.1 753.4L873.3 750.1L873.3 746.1L872.6 741.8L872.9 738.6L875.2 732.4L879 728.8L877 722.9L877.8 717L880 714L882.7 710.9L886.4 705.2L890.9 702.4L894.8 700.4L897.9 697.8L900.8 695.4L903.4 692.8L907.5 690.1L910.8 685.1L915.7 681.1L918.5 676L921.3 674.6L924.4 673.9L927 671.7L930 667.8L930.8 664.1L932 660.9L933.1 655.7L934.7 652.1L937.6 645.1L937.8 640.8L940.5 639.1L942.9 636L946.8 635.9L951.7 635.4L954.3 633.2L957.5 631.8L961.8 629.1L967.7 628.6L973.1 627.1L976.9 624.5L982.5 621.5L986.2 620.9L991.8 619.7L996.5 619.5L1002.7 618.9L1008 618.1L1010.4 615.5L1013.6 610.9L1015.9 607.3L1021 602.4L1022.9 597.7L1023.4 593L1027.1 590.8L1030.6 586.4L1030 580.9L1024.8 579.6L1020.8 577.7L1019.2 573.4L1016.4 569.6L1012.9 569.7L1008.5 570.3L1013.3 569.5L1018.1 568.2L1022.6 564.3L1026.4 561.4L1029.1 559.1ZM884.2 984.8L882.8 981L882.4 977.8L882.7 972.5L881.1 969.2L879.9 964.4L878.4 960.4L878.7 955.3L881.9 952.5L881.8 948.4L883.8 944L886.8 938.6L887.7 935L889.2 932.3L892.8 927.9L895.6 923.6L899.4 921.2L902.3 914.6L903.9 912.4L906.8 910.3L911.5 904.8L913.8 902.9L916.9 902.8L920.9 903.6L926.3 904.4L927 900.3L925.9 894.8L926.1 891.9L929.8 889.4L934.2 884.2L938.1 880.6L940.6 878.3L944 873.9L948.2 868.6L951.1 865.8L953.6 861.6L956.8 859.2L959.2 854.2L962.4 850.1L960 843.1L958.7 838.9L957.4 834.2L957.7 829.3L960.2 824.7L965.1 821.9L968.5 818.2L971.1 815.6L975.1 816.6L981.6 817.8L985 820.7L990.8 822.1L995.9 821.5L1000.5 821.3L1006.5 821.3L1011.5 822.4L1015.2 822.7L1019 825.1L1023.6 829.4L1027.4 829.9L1031.3 830.7L1036.4 831.2L1040.5 832.4L1043.9 835.3L1047.9 837.3L1050 841.6L1051 846.5L1051.5 851.2L1052.9 855.6L1050.9 858.9L1046.7 863.6L1051.4 868L1054.1 871.2L1051.2 875.8L1048.9 879.7L1045.7 882.8L1043.2 887.9L1042.2 891.9L1039.5 896.7L1037.5 901L1036.6 906.1L1031.2 909.8L1030.5 913.6L1029.1 918L1029.2 922.4L1026.8 927.3L1021.9 931.6L1017 933.5L1015.7 938.1L1014.8 942.7L1012 946.5L1009.6 949L1006.2 951.1L1006.4 953.6L1007 957.4L1002.4 958.9L996.8 959.9L993.7 962.3L987.8 962L984.9 964.2L979.5 964L975.4 960.5L972.6 960.4L968.3 962.4L960 964.4L956.4 965.1L952.2 965.3L945 966.2L941.6 965.5L937.1 964.7L934.6 964.4L928.8 962.1L925.9 963.7L919.6 968L915.9 970.7L909.6 974.3L906 973.5L902.2 976L898.1 977.9L896.4 981.4L891.8 983.8L888 984.2ZM839.8 889.2L837.7 883.8L840.1 880.8L838.5 875L841 868.9L839.8 862.9L842.3 859.6L844.3 855.6L846 852.3L848.2 848.8L847.9 842.7L848.3 836.4L846.7 832L850.6 832.4L853.2 832.7L852.7 836.6L855.5 841.5L856.7 846.4L862.8 844.6L867.5 845.6L874.4 843.3L878 841.6L882.6 839L885.5 835L886.4 832L888.8 826.5L890.1 823.5L891.8 819L890.2 814.7L890.4 810.8L890 803.7L889 799.2L891.4 793.2L891.8 789.1L892.9 785.8L898.5 785L902.1 784L907.8 784.5L912 785.5L916.1 785.4L918 788.1L922.5 791.5L924.1 796.1L925.3 800.8L924.5 807L920.5 810.7L918.7 816.7L917.2 822.8L914.4 826.7L911.6 832.2L908.6 838.2L907.4 841.8L906.2 844.7L902.4 850.5L902.2 854.1L897.6 858.2L895.1 860.8L891.5 864.7L890.1 870.2L887.2 876.3L886.4 879.2L886.5 883.8L884.4 888.4L880.3 887L874.7 890.1L868.1 887.9L862.5 885.8L857.4 886.1L853.6 889.2L850.4 891.8L844.4 890.7ZM949 782.5L949.5 786.1L953 789.7L954.2 793.5L953 796.1L951.7 800.2L949.1 805.5L955.8 808.7L960.9 808.2L964.4 809.1L967.7 810L971.9 811.3L977.6 811.9L982.1 812.3L988.1 812.5L991.1 816.5L995.7 816.3L1001.6 817.4L1007 817.9L1010.2 816.7L1015.1 816.8L1014.5 812.2L1015.5 805.8L1015.3 800.5L1013.8 796.5L1010.8 791.7L1005.9 788.9L1001.6 787.2L996.9 782.5L991.7 781.3L987.4 777.7L984.5 778.9L980.3 782.9L977.7 786.1L972 787.1L967 787.4L963.3 786.6L957.8 783.8L954 782.5ZM941.7 806.8L937.2 805.7L932.5 803.2L932.2 797.9L929.7 792.9L931.1 787.7L931 782.9L933 777.4L936.5 777.8L942 777.3L947.2 777.9L948.4 781.7L949.1 787.1L946.6 793.3L946 797.7L945.6 801.3L944.2 804ZM881.8 740.5L880.4 734.2L882.9 729.4L881.7 725.8L883.7 720.9L884.1 715.7L886.5 711.1L890.4 706.1L893.9 702L896.4 698.5L901.1 695.5L904.5 694.5L908.9 697.1L914 696.3L917.3 700.8L920.8 703.4L924.4 704.2L930.3 703.1L931.4 707.9L932.8 711.4L933.9 714.6L930.2 719.4L927.3 721.7L925.9 726.6L924.8 730.4L926.5 734.1L926.9 738.7L922.9 737.9L917.1 739L913.6 740.3L910 744.2L906 745.6L902 744.2L895.7 746.2L891.8 746L888.1 742ZM938.9 682.2L933.6 683.5L927.6 683.9L927.4 688.5L925.9 693.8L930.8 697.8L934.1 701.9L937.2 704.2L939.2 709.1L939.9 712.9L945.3 712.7L947.6 709.5L950.1 707.8L951.4 703.4L954.1 697.9L952 693.4L948.5 690L946.4 687.6L942 684.3ZM846.3 807L841.7 805.1L840.5 800.5L834.8 795.3L831.5 799.8L828.4 804.5L831.2 810L833.1 813.3L834.2 817L837.5 819.9L842.1 822.2L846.9 819.2L849.9 814.8L847.3 811.4ZM954.8 719L950 719.4L947.8 722.8L942 724.1L942 727.3L941.6 734.2L940.1 737.2L944.2 742.1L946.4 745.6L952.1 743.5L956.1 740L957 734L957.7 728.3L956.9 724.3ZM941 751.8L940.4 756.6L938.1 762.6L944.3 764L948.2 765.2L950.6 760.6L951.4 757.6L947.5 755.6ZM915.1 765.2L913.9 770.6L913.6 772.9L914.3 778.2L918.8 779.1L923.5 781.1L925.1 777.4L926.7 771.8L924.5 769.3L921.6 765.9L918.2 766ZM910.2 748.1L909.7 752.4L908.9 756.7L906.4 759.7L910.6 759.4L916 763L920.1 762.9L922.6 758.7L926.2 754.1L922.2 753.3L913.5 750.1ZM985.8 772.7L988.5 775.9L994 781L990.5 783.9L985.4 787.4L980.4 786.3L974.8 785.2L971.4 779.3L969.3 774.8L974.2 775.3L980.8 772.4ZM881.9 749.4L878.8 752.6L879 757L876.7 761.2L881 763.1L884.6 763.7L886.1 760.1L889.3 755.8L884.5 753.4ZM755.4 974.9L755.6 979.3L760.7 985.1L759.2 992.8L762.3 996.5L765.2 1002.2L766.8 1004.4L771.9 1008.3L772.5 1012.1L777.3 1010.8L780.2 1010.5L782.6 1005.2L783.5 1001.5L782.8 994.8L782.1 990.7L784 988.2L788.3 983.5L791.7 978.1L787.6 975.8L784.5 974.1L778 974.8L773.6 975.2L768.8 974.3L762 973.3L758.5 974.8ZM754.5 937.5L757.2 943.4L755.3 948.5L758.3 953.3L757.2 956L755.1 951.9L753.3 945.1L753.6 941.6ZM562.5 827.7L564.5 831.6L565.6 837.3L568.9 840.9L568.8 845.2L569.2 853.2L569 858.4L572 862.9L573 868.8L572.2 875.3L574.4 880.9L573.1 885.5L574.2 889.2L572.5 895.4L575.5 904.5L573.8 908.6L572.6 914.2L574.5 917.4L574.5 924.5L572.2 920L570.6 914.1L570 908.2L569.3 903.4L567.2 899L565.9 894.5L568 891.2L570 887.2L569.2 882.7L567.4 879.4L568 872.7L568.7 869L566.6 862.1L567.8 860.5L567.3 854.5L567.6 849.4L563.7 845.7L565.9 839.7L563.3 836.8L563.4 831.5ZM568.4 924.2L570.5 926.7L573.2 931.8L576.8 936.2L579.7 942.1L578.6 944.3L581 949.3L583.8 952.7L583 957.9L585 962.5L584.1 966.6L585.8 972.1L586.9 977.5L586.4 972.3L581.5 970.1L580.5 964.1L578.3 961.1L576.9 956.7L574.5 951.5L572.9 945.7L573.4 942.2L571.7 937.8L570.7 933.8L570.3 928ZM559.8 890.1L560.4 895.2L562 897.3L563 901.7L563.3 905.1L563.2 909.3L562.9 904.1L561.9 901.8L559.9 897.7L559.6 894.7ZM590.5 988L591.5 991.5L592.6 996.8L595.8 1000.9L593.5 998.9L592.1 994.2L589.4 988.5ZM802.2 563.5L798 567.6L793.1 568.8L790.6 572.6L786.2 575.9L781.2 576L776.8 576.1L770.6 578.1L775 575L777.3 570.9L780.9 568.5L787.2 566.5L788.7 567.1L794.4 563.8L798.4 563.7ZM839.2 558.4L835.6 560.6L831.2 561.3L825.9 558.9L822.3 557.3L825.9 556L831.5 555.2L835.3 557.5ZM950.2 511.4L946.9 515.8L942.7 519.7L941 516.9L939.7 513.9L942.6 511.1L946.8 506.7ZM1042.5 535L1037.7 535.9L1031.4 535.1L1033.4 537.1L1036.5 538.6L1039.9 536.8ZM1017 511.8L1014.6 513.6L1011.1 514.1L1011.5 509.7ZM1174.8 1212.6L1178.9 1211.7L1182.1 1209.7L1187.8 1209.6L1190.9 1207.4L1197.5 1205L1197.4 1209.4L1196.6 1213.3L1192.9 1213.8L1189.9 1215.7L1185.9 1216.4L1180.5 1214.1L1176.9 1214.6ZM1140.4 1200L1144.5 1198.3L1149.9 1198.5L1151.7 1205.3L1152.5 1209.5L1147.5 1211.6L1142.7 1210.4L1142.7 1207.2L1141.8 1204.3ZM1141.1 1190L1144 1187.3L1146.3 1185.8L1147.7 1188.8L1148.1 1192.2L1146.5 1196.4L1142.5 1194.4ZM1261.7 1199.5L1265.6 1197.9L1272.1 1195.5L1276.1 1193.2L1281.9 1192L1276.4 1194.6L1273 1197.5L1267.9 1200.2L1262.4 1201.1ZM1324.2 1169.6L1328 1165.1L1329.7 1163.4L1332.9 1159L1336.9 1157.1L1335.6 1162.1L1333.1 1165L1330.1 1168.4L1326.9 1169.1ZM697.1 768.5L698.3 773L700.3 776.7L703.3 779.2L705.5 784.2L706.2 789L708.2 792.8L712.3 795.3L710.6 800.2L711.2 805L708.5 808.9L706.2 815.2L702.9 816.9L699.2 817.8L697.6 815.9L696.7 810.7L695.4 806L696.3 802.7L697.2 799.2L701.4 795.7L698.4 791.8L696.9 785.8L697.5 782.1L696.2 777.1L697.6 772.5ZM662.5 800L664.6 803.1L664.9 807.9L669.8 807.4L674.9 808.7L679.2 809.8L683.8 810.2L687.6 813.3L690.6 816.5L692.2 810.9L690.6 806.3L689.6 802.9L685.1 799.9L681.1 797.8L676 798.8L672.3 798.9L667.4 799.3ZM692.3 819.8L692.8 823.4L694.4 826.4L693.7 830.1L695.2 836L695.5 839.9L695.1 846L692.3 850.8L688 850.1L689.6 847L689.5 842.2L686.5 841.6L682.9 840.4L679.3 840.4L676.9 841.2L674.3 836.6L676.7 836L680.7 834.3L680.7 831.4L680 828L683.6 828L688.3 828.5L689.5 824.4ZM665 831.2L666.8 834.9L664.2 838.9L666.1 844.3L668.2 850.3L672.6 853.1L674.3 857.6L676.9 860.8L674.2 854.6L673.7 850.4L670.6 846.8L669.9 843L668.3 836.6L667.2 834.4ZM679.2 855.2L679.9 860.1L679.7 862L681.6 867.1L683.3 870.9L683.8 873.9L686.2 878.4L689.8 876.1L686.4 872.2L685.5 866.2L684.4 862.9L682.4 857.5ZM725.8 739.7L728.3 743.7L734.1 742.6L737.8 741.8L743.2 739.7L747.6 738.2L751.1 737.1L753.6 735L751.1 730.5L746.1 730.9L742.8 733.4L738 735.4L734.5 737.1L729.8 737.3ZM838 659.5L836.3 665.6L832.9 670.1L832.5 672.9L833.5 678.5L832.2 682.6L832.6 686.9L836.9 693.9L838.6 697.2L840.1 693.3L841.8 688.9L841.4 682.3L842.9 677.2L843.5 672.3L840.1 668.4L840.8 663.5ZM884 653.1L880.1 655.3L878.4 659.6L875.9 662.6L877.2 667.7L877.5 670L878.7 675.8L884.7 674.1L889.4 674.9L890.9 670.1L892.7 665.8L893 662.4L891.5 658.2L892.1 653.7L888.4 653.3ZM809.3 676.1L807.9 681.8L809.2 683.5L808.9 689.3L807.3 694.9L806.5 697.2L806.7 701.7L809 698.8L810.1 694.7L811.2 690.1L809.7 683.7L810.7 679.3ZM778.3 715.7L781.9 719.6L783.6 722.3L786 720.9L789.7 720.9L786.9 719L785 715.6L781.2 715.9Z" fill="none" stroke="#fff" stroke-width="2.3" stroke-linejoin="round" stroke-linecap="round"/>
</g>
<text x="488.6" y="199.3" font-size="58.1" fill="#000" textLength="1182.5" lengthAdjust="spacingAndGlyphs">EPV_, 600 K (~27 hPa), 2025-11-29T00, Sat.</text>
<rect x="1692.2" y="487.6" width="26.6" height="587" fill="#8c8c8c"/>
<rect x="1694" y="490.6" width="24" height="583.4" fill="url(#cbar)"/>
<rect x="1718" y="489" width="1" height="585.6" fill="#333"/>
<text x="1738.6" y="500.4" font-size="33.2" fill="#000">0.00032</text>
<text x="1738.6" y="559" font-size="33.2" fill="#000">0.00029</text>
<text x="1738.6" y="617.7" font-size="33.2" fill="#000">0.00025</text>
<text x="1738.6" y="676.3" font-size="33.2" fill="#000">0.00022</text>
<text x="1738.6" y="734.9" font-size="33.2" fill="#000">0.00019</text>
<text x="1738.6" y="793.6" font-size="33.2" fill="#000">0.00016</text>
<text x="1738.6" y="852.2" font-size="33.2" fill="#000">0.00013</text>
<text x="1738.6" y="910.8" font-size="33.2" fill="#000">9.3e-05</text>
<text x="1738.6" y="969.4" font-size="33.2" fill="#000">6.0e-05</text>
<text x="1738.6" y="1028.1" font-size="33.2" fill="#000">2.8e-05</text>
<text x="1738.6" y="1086.7" font-size="33.2" fill="#000">-5.0e-06</text>
<path d="M1692.5 547.3h4.5M1714 547.3h4.5M1692.5 606h4.5M1714 606h4.5M1692.5 664.6h4.5M1714 664.6h4.5M1692.5 723.2h4.5M1714 723.2h4.5M1692.5 781.9h4.5M1714 781.9h4.5M1692.5 840.5h4.5M1714 840.5h4.5M1692.5 899.1h4.5M1714 899.1h4.5M1692.5 957.7h4.5M1714 957.7h4.5M1692.5 1016.4h4.5M1714 1016.4h4.5" stroke="#222" stroke-width="1" fill="none"/>
<rect x="319.2" y="1344.6" width="304" height="91.2" fill="#fff" stroke="#9a4a4a" stroke-width="1.1"/>
<text x="471.3" y="1367" font-size="18.5" fill="#000" text-anchor="middle">m/s</text>
<text x="361.4" y="1388.6" font-size="18.3" fill="#6b0000" text-anchor="middle">5</text>
<text x="416" y="1388.6" font-size="18.3" fill="#6b0000" text-anchor="middle">55</text>
<text x="471.4" y="1388.6" font-size="18.3" fill="#6b0000" text-anchor="middle">105</text>
<text x="531.8" y="1388.6" font-size="18.3" fill="#6b0000" text-anchor="middle">55</text>
<text x="592.5" y="1388.6" font-size="18.3" fill="#6b0000" text-anchor="middle">5</text>
<g fill="#6b0000"><rect x="327.3" y="1411.8" width="288.7" height="1"/>
<rect x="384" y="1407.8" width="174" height="9"/><rect x="442.3" y="1403.6" width="58.7" height="17.4"/>
<path d="M350.6 1406.2l11.4 6.1-11.4 6.1zM408.8 1403.6l11 8.7-11 8.7zM463 1396l18.6 16.3-18.6 16.3zM525 1403.6l11 8.7-11 8.7zM580.6 1406.2l12.2 6.1-12.2 6.1z"/></g>
<text x="130.5" y="1482.9" font-size="23.2" fill="#000" textLength="281" lengthAdjust="spacingAndGlyphs">Tue Nov 25 09:23:51 2025</text>
<text x="1688.5" y="1398.3" font-size="48.2" fill="#000" textLength="139.5" lengthAdjust="spacingAndGlyphs">FH108</text>
<text x="1515.8" y="1482.7" font-size="23.2" fill="#000" textLength="514" lengthAdjust="spacingAndGlyphs">Paul A. Newman &amp; Leslie R. Lait (NASA/GSFC)</text>
</svg></body></html>
